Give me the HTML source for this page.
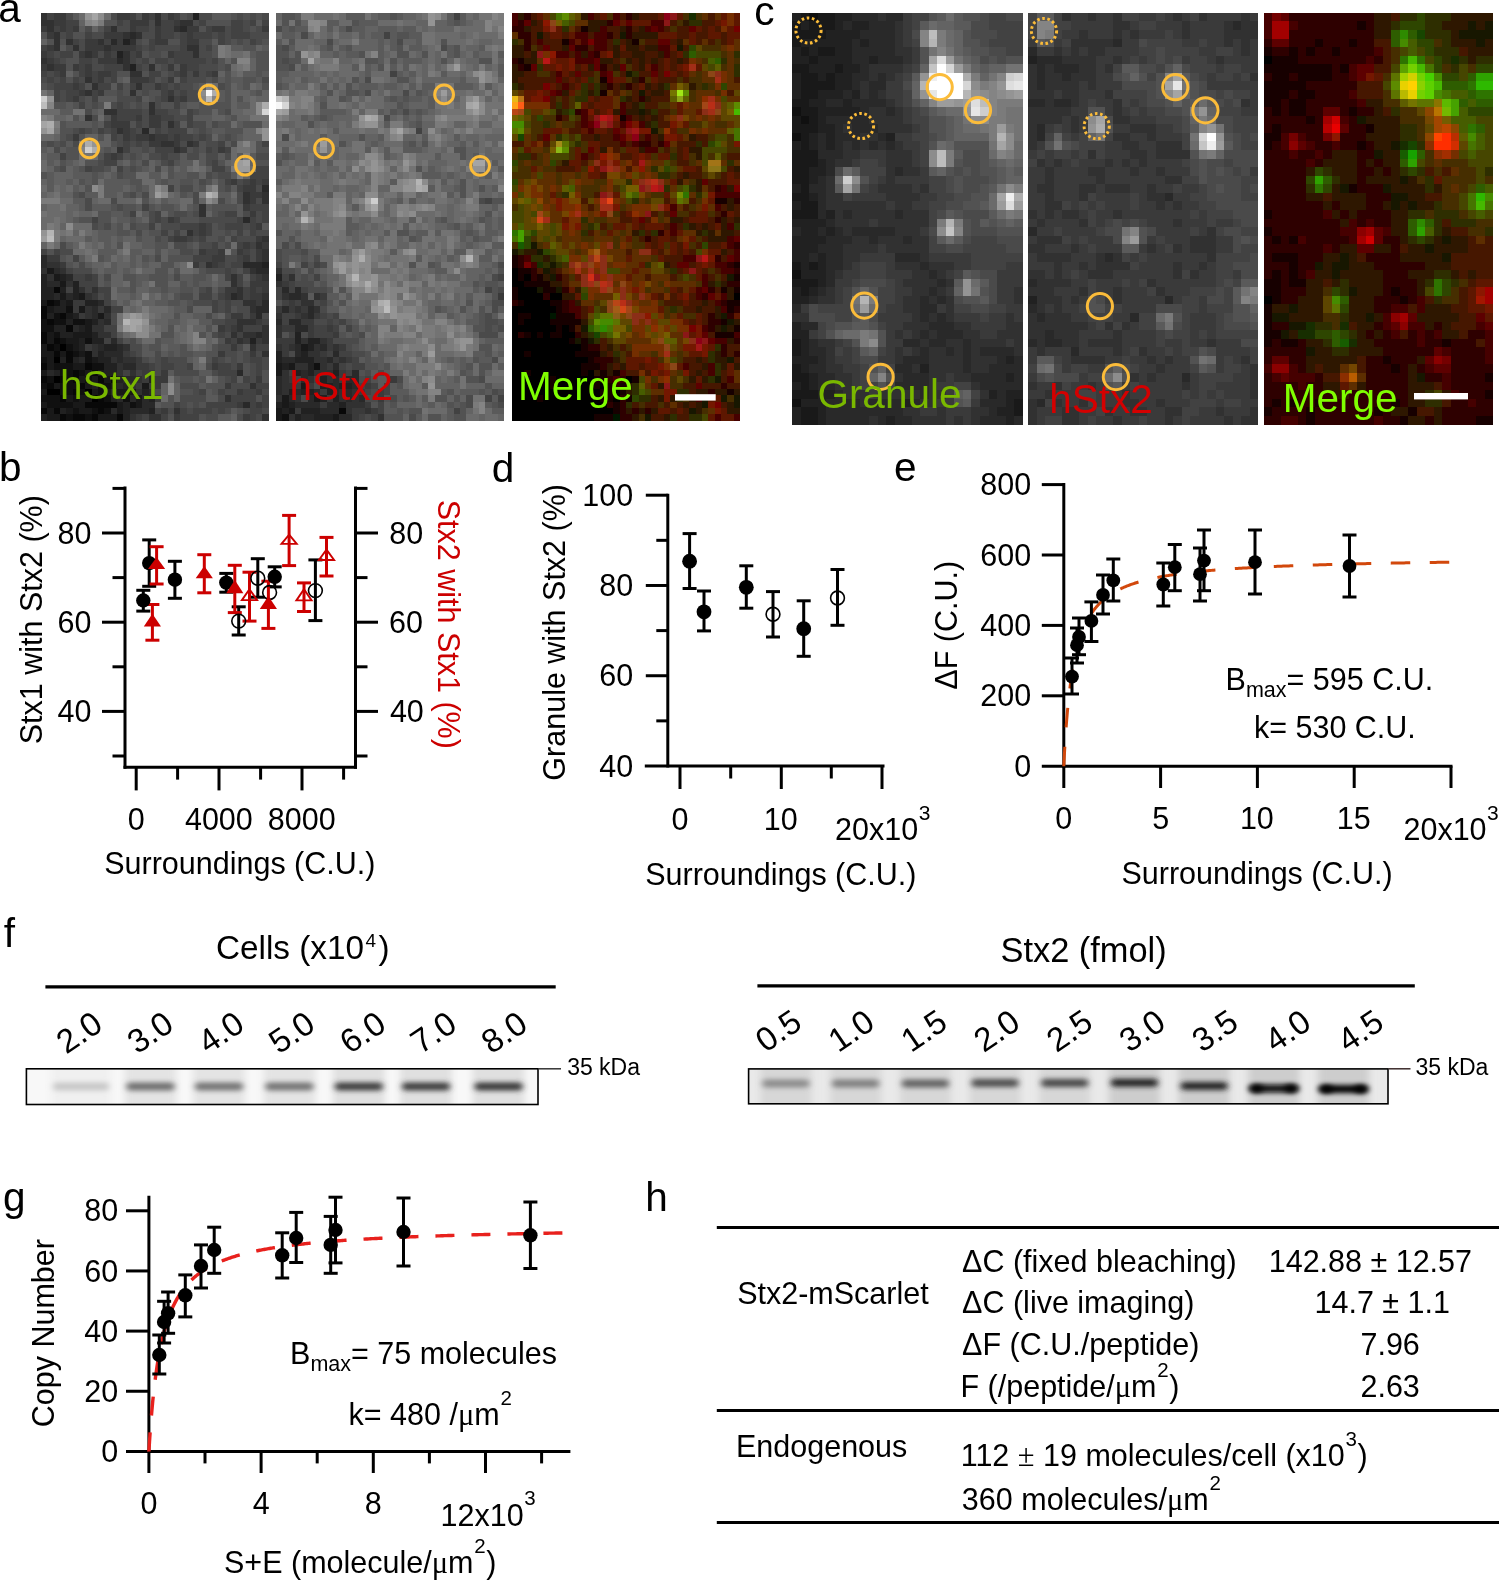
<!DOCTYPE html>
<html><head><meta charset="utf-8"><style>
html,body{margin:0;padding:0;background:#fff}
body{width:1499px;height:1580px;overflow:hidden;position:relative;font-family:"Liberation Sans",sans-serif}
svg{position:absolute;left:0;top:0;display:block;will-change:transform}
text{white-space:pre}

</style></head><body>
<svg width="1499" height="1580" viewBox="0 0 1499 1580" font-family="Liberation Sans">
<defs><filter id="bl" x="-50%" y="-150%" width="200%" height="400%"><feGaussianBlur stdDeviation="3.2 2.4"/></filter><filter id="bl2" x="-50%" y="-50%" width="200%" height="200%"><feGaussianBlur stdDeviation="3.5 0"/></filter><clipPath id="cpL"><rect x="26.4" y="1068.8" width="511.6" height="35.7"/></clipPath><clipPath id="cpR"><rect x="748.6" y="1068.9" width="639.4" height="34.9"/></clipPath></defs>
<g clip-path="url(#cpL)">
<rect x="26.4" y="1068.8" width="511.6" height="35.700000000000045" fill="#f8f8f8"/>
<rect x="51.0" y="1064.8" width="60" height="43.700000000000045" fill="#f0f0f0" filter="url(#bl2)"/>
<rect x="124.5" y="1064.8" width="52" height="43.700000000000045" fill="#e4e4e4" filter="url(#bl2)"/>
<rect x="193.0" y="1064.8" width="52" height="43.700000000000045" fill="#e4e4e4" filter="url(#bl2)"/>
<rect x="263.4" y="1064.8" width="52" height="43.700000000000045" fill="#e4e4e4" filter="url(#bl2)"/>
<rect x="332.8" y="1064.8" width="52" height="43.700000000000045" fill="#e0e0e0" filter="url(#bl2)"/>
<rect x="400.0" y="1064.8" width="52" height="43.700000000000045" fill="#e0e0e0" filter="url(#bl2)"/>
<rect x="472.6" y="1064.8" width="52" height="43.700000000000045" fill="#e0e0e0" filter="url(#bl2)"/>
<rect x="53.0" y="1082.5" width="56" height="8" rx="4" fill="#c8c8c8" filter="url(#bl)"/>
<rect x="126.5" y="1082.5" width="48" height="8" rx="4" fill="#6e6e6e" filter="url(#bl)"/>
<rect x="195.0" y="1082.5" width="48" height="8" rx="4" fill="#737373" filter="url(#bl)"/>
<rect x="265.4" y="1082.5" width="48" height="8" rx="4" fill="#737373" filter="url(#bl)"/>
<rect x="334.8" y="1082.5" width="48" height="8" rx="4" fill="#3c3c3c" filter="url(#bl)"/>
<rect x="402.0" y="1082.5" width="48" height="8" rx="4" fill="#3c3c3c" filter="url(#bl)"/>
<rect x="474.6" y="1082.5" width="48" height="8" rx="4" fill="#373737" filter="url(#bl)"/>
</g>
<g clip-path="url(#cpR)">
<rect x="748.6" y="1068.9" width="639.4" height="34.899999999999864" fill="#e9e9e9"/>
<rect x="760.4" y="1064.9" width="51" height="42.899999999999864" fill="#d7d7d7" filter="url(#bl2)"/>
<rect x="830.1" y="1064.9" width="51" height="42.899999999999864" fill="#d7d7d7" filter="url(#bl2)"/>
<rect x="899.8" y="1064.9" width="51" height="42.899999999999864" fill="#d7d7d7" filter="url(#bl2)"/>
<rect x="969.5" y="1064.9" width="51" height="42.899999999999864" fill="#d7d7d7" filter="url(#bl2)"/>
<rect x="1039.2" y="1064.9" width="51" height="42.899999999999864" fill="#d7d7d7" filter="url(#bl2)"/>
<rect x="1108.9" y="1064.9" width="51" height="42.899999999999864" fill="#cdcdcd" filter="url(#bl2)"/>
<rect x="1178.6" y="1064.9" width="51" height="42.899999999999864" fill="#cdcdcd" filter="url(#bl2)"/>
<rect x="1248.3" y="1064.9" width="51" height="42.899999999999864" fill="#cdcdcd" filter="url(#bl2)"/>
<rect x="1318.0" y="1064.9" width="51" height="42.899999999999864" fill="#cdcdcd" filter="url(#bl2)"/>
<rect x="762.4" y="1079.4" width="47" height="8" rx="4" fill="#8c8c8c" filter="url(#bl)"/>
<rect x="832.1" y="1079.4" width="47" height="8" rx="4" fill="#808080" filter="url(#bl)"/>
<rect x="901.8" y="1079.4" width="47" height="8" rx="4" fill="#646464" filter="url(#bl)"/>
<rect x="971.5" y="1079.0" width="47" height="8" rx="4" fill="#505050" filter="url(#bl)"/>
<rect x="1041.2" y="1079.0" width="47" height="8" rx="4" fill="#484848" filter="url(#bl)"/>
<rect x="1110.9" y="1078.7" width="47" height="8" rx="4" fill="#282828" filter="url(#bl)"/>
<rect x="1180.6" y="1082.0" width="47" height="8" rx="4" fill="#282828" filter="url(#bl)"/>
<rect x="1250.3" y="1084.4" width="47" height="8" rx="4" fill="#0a0a0a" filter="url(#bl)"/>
<ellipse cx="1256.3" cy="1088.4" rx="7" ry="4" fill="#000000" filter="url(#bl)"/>
<ellipse cx="1291.3" cy="1088.4" rx="7" ry="4" fill="#000000" filter="url(#bl)"/>
<rect x="1320.0" y="1085.0" width="47" height="8" rx="4" fill="#050505" filter="url(#bl)"/>
<ellipse cx="1326.0" cy="1089.0" rx="7" ry="4" fill="#000000" filter="url(#bl)"/>
<ellipse cx="1361.0" cy="1089.0" rx="7" ry="4" fill="#000000" filter="url(#bl)"/>
</g>
<rect x="26.4" y="1068.8" width="511.6" height="35.7" fill="none" stroke="#000" stroke-width="1.6"/>
<rect x="748.6" y="1068.9" width="639.4" height="34.9" fill="none" stroke="#000" stroke-width="1.6"/>
<g transform="translate(41.0,13.2) scale(6.3278,6.3688)" shape-rendering="crispEdges">
<path fill="#313131" d="M0 0h1v1h-1zM18 0h1v1h-1zM0 1h2v1h-2zM18 1h1v1h-1zM22 1h2v1h-2zM1 2h1v1h-1zM11 2h1v1h-1zM21 2h1v1h-1zM2 3h1v1h-1zM13 3h1v1h-1zM15 3h1v1h-1zM2 4h1v1h-1zM4 4h1v1h-1zM9 4h1v1h-1zM14 4h1v1h-1zM2 5h1v1h-1zM5 5h1v1h-1zM10 5h1v1h-1zM23 5h2v1h-2zM7 6h1v1h-1zM13 6h1v1h-1zM24 6h1v1h-1zM0 7h1v1h-1zM13 7h1v1h-1zM1 8h1v1h-1zM13 8h1v1h-1zM17 8h1v1h-1zM14 9h2v1h-2zM7 10h1v1h-1zM8 11h1v1h-1zM15 11h1v1h-1zM7 12h1v1h-1zM14 12h1v1h-1zM20 13h1v1h-1zM17 14h1v1h-1zM10 15h2v1h-2zM17 15h1v1h-1zM7 16h1v1h-1zM20 17h1v1h-1zM12 18h1v1h-1zM17 19h1v1h-1zM19 20h2v1h-2zM23 20h1v1h-1zM12 21h1v1h-1zM21 21h1v1h-1zM32 28h1v1h-1zM35 28h1v1h-1zM32 29h1v1h-1zM35 29h1v1h-1zM25 30h1v1h-1zM25 31h1v1h-1zM23 34h1v1h-1zM35 35h1v1h-1zM34 36h1v1h-1zM35 37h1v1h-1zM35 38h1v1h-1zM1 39h2v1h-2zM26 39h1v1h-1zM0 40h1v1h-1zM3 40h1v1h-1zM33 40h1v1h-1zM1 41h1v1h-1zM30 41h1v1h-1zM35 41h1v1h-1zM4 42h1v1h-1zM30 42h1v1h-1zM6 43h1v1h-1zM8 43h1v1h-1zM31 43h1v1h-1zM7 44h1v1h-1zM31 44h1v1h-1zM35 44h1v1h-1zM32 45h2v1h-2zM7 46h1v1h-1zM33 46h1v1h-1zM7 47h1v1h-1zM10 47h1v1h-1zM9 48h1v1h-1zM31 48h3v1h-3zM8 49h2v1h-2zM31 49h1v1h-1zM35 49h1v1h-1zM9 50h2v1h-2zM30 50h1v1h-1zM32 50h2v1h-2zM35 50h1v1h-1zM31 51h1v1h-1zM35 51h1v1h-1zM8 52h1v1h-1zM13 52h1v1h-1zM33 52h1v1h-1zM8 53h1v1h-1zM35 53h1v1h-1zM11 54h1v1h-1zM13 54h2v1h-2zM12 55h1v1h-1zM12 56h1v1h-1zM14 56h1v1h-1zM15 57h1v1h-1zM14 58h1v1h-1zM33 58h1v1h-1zM15 59h1v1h-1zM29 60h1v1h-1zM21 62h1v1h-1zM14 63h1v1h-1zM17 63h2v1h-2zM35 63h1v1h-1z"/>
<path fill="#424242" d="M1 0h1v1h-1zM14 0h1v1h-1zM17 0h1v1h-1zM21 0h1v1h-1zM4 1h2v1h-2zM12 1h1v1h-1zM19 1h2v1h-2zM25 1h1v1h-1zM30 1h2v1h-2zM33 1h1v1h-1zM35 1h1v1h-1zM2 2h1v1h-1zM4 2h1v1h-1zM10 2h1v1h-1zM15 2h2v1h-2zM19 2h2v1h-2zM26 2h1v1h-1zM30 2h2v1h-2zM4 3h1v1h-1zM7 3h1v1h-1zM19 3h2v1h-2zM22 3h1v1h-1zM24 3h3v1h-3zM28 3h1v1h-1zM30 3h3v1h-3zM5 4h1v1h-1zM10 4h1v1h-1zM17 4h1v1h-1zM22 4h1v1h-1zM28 4h1v1h-1zM33 4h1v1h-1zM0 5h1v1h-1zM15 5h1v1h-1zM17 5h1v1h-1zM22 5h1v1h-1zM26 5h1v1h-1zM1 6h1v1h-1zM3 6h2v1h-2zM11 6h1v1h-1zM14 6h1v1h-1zM21 6h3v1h-3zM2 7h1v1h-1zM6 7h2v1h-2zM14 7h1v1h-1zM16 7h1v1h-1zM18 7h2v1h-2zM21 7h5v1h-5zM27 7h1v1h-1zM6 8h1v1h-1zM10 8h3v1h-3zM15 8h1v1h-1zM23 8h2v1h-2zM0 9h1v1h-1zM2 9h1v1h-1zM6 9h1v1h-1zM8 9h1v1h-1zM11 9h1v1h-1zM17 9h2v1h-2zM21 9h1v1h-1zM26 9h1v1h-1zM1 10h1v1h-1zM3 10h1v1h-1zM5 10h1v1h-1zM8 10h1v1h-1zM11 10h1v1h-1zM17 10h1v1h-1zM22 10h1v1h-1zM2 11h3v1h-3zM6 11h1v1h-1zM9 11h2v1h-2zM12 11h1v1h-1zM14 11h1v1h-1zM19 11h1v1h-1zM21 11h1v1h-1zM2 12h1v1h-1zM4 12h2v1h-2zM8 12h1v1h-1zM19 12h1v1h-1zM22 12h1v1h-1zM2 13h1v1h-1zM4 13h1v1h-1zM8 13h1v1h-1zM15 13h1v1h-1zM19 13h1v1h-1zM21 13h1v1h-1zM6 14h1v1h-1zM12 14h1v1h-1zM21 14h1v1h-1zM12 15h4v1h-4zM18 15h2v1h-2zM23 15h1v1h-1zM12 16h3v1h-3zM19 16h2v1h-2zM23 16h1v1h-1zM10 17h1v1h-1zM15 17h1v1h-1zM21 17h1v1h-1zM23 17h1v1h-1zM6 18h1v1h-1zM9 18h1v1h-1zM11 18h1v1h-1zM14 18h1v1h-1zM18 18h1v1h-1zM20 18h3v1h-3zM11 19h1v1h-1zM14 19h1v1h-1zM20 19h1v1h-1zM22 19h2v1h-2zM25 19h1v1h-1zM13 20h1v1h-1zM15 20h1v1h-1zM28 20h1v1h-1zM35 20h1v1h-1zM13 21h1v1h-1zM18 21h3v1h-3zM26 21h1v1h-1zM29 21h1v1h-1zM3 22h1v1h-1zM10 22h1v1h-1zM12 22h1v1h-1zM19 22h1v1h-1zM10 23h2v1h-2zM20 23h1v1h-1zM27 23h1v1h-1zM7 24h1v1h-1zM12 24h1v1h-1zM27 24h2v1h-2zM34 24h2v1h-2zM33 25h3v1h-3zM29 26h1v1h-1zM32 26h1v1h-1zM34 26h1v1h-1zM20 27h1v1h-1zM31 27h1v1h-1zM16 30h1v1h-1zM33 30h3v1h-3zM14 31h1v1h-1zM18 31h1v1h-1zM29 31h2v1h-2zM35 31h1v1h-1zM8 32h1v1h-1zM18 32h1v1h-1zM21 32h1v1h-1zM31 32h1v1h-1zM33 32h1v1h-1zM35 32h1v1h-1zM17 33h1v1h-1zM22 33h3v1h-3zM26 33h1v1h-1zM29 33h3v1h-3zM33 33h1v1h-1zM19 34h1v1h-1zM21 34h1v1h-1zM24 34h1v1h-1zM26 34h1v1h-1zM31 34h1v1h-1zM33 34h1v1h-1zM20 35h1v1h-1zM23 35h1v1h-1zM25 35h1v1h-1zM30 35h1v1h-1zM27 36h1v1h-1zM31 36h1v1h-1zM33 36h1v1h-1zM0 37h1v1h-1zM2 37h1v1h-1zM26 37h2v1h-2zM32 37h1v1h-1zM5 38h1v1h-1zM24 38h3v1h-3zM31 38h1v1h-1zM28 39h1v1h-1zM30 39h2v1h-2zM4 40h1v1h-1zM29 40h1v1h-1zM32 40h1v1h-1zM5 41h2v1h-2zM8 41h1v1h-1zM29 41h1v1h-1zM31 41h1v1h-1zM33 41h1v1h-1zM6 42h3v1h-3zM31 42h1v1h-1zM4 43h1v1h-1zM7 43h1v1h-1zM9 43h2v1h-2zM26 43h1v1h-1zM32 43h1v1h-1zM34 43h1v1h-1zM10 44h1v1h-1zM25 44h2v1h-2zM28 44h1v1h-1zM32 44h1v1h-1zM10 45h1v1h-1zM27 45h1v1h-1zM29 45h1v1h-1zM11 46h2v1h-2zM27 46h1v1h-1zM29 46h1v1h-1zM29 48h2v1h-2zM35 48h1v1h-1zM10 49h2v1h-2zM29 49h1v1h-1zM32 49h3v1h-3zM11 50h1v1h-1zM28 50h1v1h-1zM31 50h1v1h-1zM10 51h1v1h-1zM12 51h1v1h-1zM30 51h1v1h-1zM34 52h2v1h-2zM14 53h1v1h-1zM19 54h1v1h-1zM27 54h1v1h-1zM33 54h2v1h-2zM17 55h1v1h-1zM19 55h2v1h-2zM23 55h1v1h-1zM28 55h2v1h-2zM34 55h1v1h-1zM13 56h1v1h-1zM15 56h1v1h-1zM28 56h3v1h-3zM34 56h1v1h-1zM30 57h1v1h-1zM32 57h1v1h-1zM34 58h2v1h-2zM25 59h1v1h-1zM28 59h1v1h-1zM32 59h2v1h-2zM30 60h4v1h-4zM35 60h1v1h-1zM21 61h1v1h-1zM26 61h5v1h-5zM33 61h1v1h-1zM35 61h1v1h-1zM18 62h1v1h-1zM22 62h1v1h-1zM24 62h3v1h-3zM28 62h1v1h-1zM33 62h2v1h-2zM16 63h1v1h-1zM19 63h1v1h-1zM22 63h3v1h-3zM33 63h1v1h-1z"/>
<path fill="#3a3a3a" d="M2 0h2v1h-2zM12 0h2v1h-2zM16 0h1v1h-1zM20 0h1v1h-1zM2 1h2v1h-2zM14 1h3v1h-3zM21 1h1v1h-1zM0 2h1v1h-1zM3 2h1v1h-1zM5 2h1v1h-1zM14 2h1v1h-1zM18 2h1v1h-1zM23 2h2v1h-2zM27 2h2v1h-2zM35 2h1v1h-1zM1 3h1v1h-1zM10 3h3v1h-3zM18 3h1v1h-1zM23 3h1v1h-1zM7 4h2v1h-2zM12 4h1v1h-1zM18 4h2v1h-2zM23 4h2v1h-2zM1 5h1v1h-1zM7 5h3v1h-3zM11 5h4v1h-4zM0 6h1v1h-1zM6 6h1v1h-1zM8 6h1v1h-1zM10 6h1v1h-1zM15 6h1v1h-1zM20 6h1v1h-1zM1 7h1v1h-1zM9 7h3v1h-3zM0 8h1v1h-1zM2 8h2v1h-2zM5 8h1v1h-1zM7 8h1v1h-1zM20 8h1v1h-1zM22 8h1v1h-1zM3 9h1v1h-1zM7 9h1v1h-1zM9 9h2v1h-2zM22 9h1v1h-1zM24 9h1v1h-1zM27 9h1v1h-1zM9 10h1v1h-1zM14 10h3v1h-3zM20 10h1v1h-1zM5 11h1v1h-1zM18 11h1v1h-1zM6 12h1v1h-1zM9 12h1v1h-1zM20 12h1v1h-1zM5 13h1v1h-1zM22 13h1v1h-1zM11 16h1v1h-1zM15 16h1v1h-1zM17 16h2v1h-2zM11 17h3v1h-3zM17 17h2v1h-2zM13 18h1v1h-1zM5 19h1v1h-1zM13 19h1v1h-1zM15 19h2v1h-2zM18 19h2v1h-2zM21 19h1v1h-1zM17 20h2v1h-2zM21 20h1v1h-1zM24 20h1v1h-1zM22 21h1v1h-1zM28 21h1v1h-1zM11 22h1v1h-1zM30 26h1v1h-1zM33 26h1v1h-1zM35 26h1v1h-1zM32 27h2v1h-2zM33 28h2v1h-2zM33 29h1v1h-1zM32 30h1v1h-1zM33 31h1v1h-1zM20 32h1v1h-1zM25 33h1v1h-1zM34 33h1v1h-1zM25 34h1v1h-1zM21 35h2v1h-2zM34 35h1v1h-1zM32 36h1v1h-1zM35 36h1v1h-1zM25 37h1v1h-1zM28 37h1v1h-1zM31 37h1v1h-1zM34 37h1v1h-1zM1 38h2v1h-2zM27 38h2v1h-2zM32 38h1v1h-1zM34 38h1v1h-1zM3 39h1v1h-1zM24 39h1v1h-1zM27 39h1v1h-1zM7 41h1v1h-1zM34 41h1v1h-1zM33 42h3v1h-3zM29 43h2v1h-2zM33 43h1v1h-1zM35 43h1v1h-1zM8 44h1v1h-1zM29 44h1v1h-1zM33 44h2v1h-2zM5 45h2v1h-2zM34 45h1v1h-1zM5 46h1v1h-1zM9 46h1v1h-1zM6 47h1v1h-1zM30 47h2v1h-2zM33 47h1v1h-1zM34 48h1v1h-1zM28 49h1v1h-1zM30 49h1v1h-1zM29 51h1v1h-1zM32 51h1v1h-1zM34 51h1v1h-1zM7 52h1v1h-1zM30 52h1v1h-1zM13 53h1v1h-1zM28 53h1v1h-1zM33 53h1v1h-1zM15 54h1v1h-1zM15 55h2v1h-2zM27 55h1v1h-1zM31 55h1v1h-1zM16 56h2v1h-2zM19 56h1v1h-1zM16 57h1v1h-1zM18 57h2v1h-2zM34 57h1v1h-1zM15 58h1v1h-1zM17 58h2v1h-2zM29 58h1v1h-1zM31 59h1v1h-1zM34 59h1v1h-1zM18 60h1v1h-1zM31 61h1v1h-1zM34 61h1v1h-1zM19 62h1v1h-1zM15 63h1v1h-1zM21 63h1v1h-1zM32 63h1v1h-1z"/>
<path fill="#4a4a4a" d="M4 0h1v1h-1zM11 0h1v1h-1zM19 0h1v1h-1zM23 0h1v1h-1zM25 0h2v1h-2zM31 0h1v1h-1zM33 0h1v1h-1zM35 0h1v1h-1zM13 1h1v1h-1zM17 1h1v1h-1zM24 1h1v1h-1zM32 1h1v1h-1zM7 2h1v1h-1zM12 2h2v1h-2zM17 2h1v1h-1zM29 2h1v1h-1zM32 2h1v1h-1zM34 2h1v1h-1zM3 3h1v1h-1zM8 3h2v1h-2zM16 3h2v1h-2zM21 3h1v1h-1zM27 3h1v1h-1zM29 3h1v1h-1zM33 3h3v1h-3zM6 4h1v1h-1zM15 4h1v1h-1zM25 4h2v1h-2zM29 4h1v1h-1zM31 4h1v1h-1zM34 4h1v1h-1zM4 5h1v1h-1zM6 5h1v1h-1zM16 5h1v1h-1zM18 5h4v1h-4zM25 5h1v1h-1zM2 6h1v1h-1zM9 6h1v1h-1zM17 6h2v1h-2zM25 6h2v1h-2zM3 7h1v1h-1zM8 7h1v1h-1zM15 7h1v1h-1zM20 7h1v1h-1zM26 7h1v1h-1zM8 8h2v1h-2zM16 8h1v1h-1zM19 8h1v1h-1zM25 8h3v1h-3zM29 8h1v1h-1zM1 9h1v1h-1zM20 9h1v1h-1zM23 9h1v1h-1zM25 9h1v1h-1zM0 10h1v1h-1zM2 10h1v1h-1zM6 10h1v1h-1zM10 10h1v1h-1zM19 10h1v1h-1zM23 10h3v1h-3zM27 10h1v1h-1zM35 10h1v1h-1zM1 11h1v1h-1zM16 11h2v1h-2zM20 11h1v1h-1zM22 11h2v1h-2zM28 11h1v1h-1zM3 12h1v1h-1zM12 12h1v1h-1zM16 12h1v1h-1zM21 12h1v1h-1zM23 12h2v1h-2zM3 13h1v1h-1zM6 13h1v1h-1zM12 13h3v1h-3zM18 13h1v1h-1zM23 13h2v1h-2zM8 14h1v1h-1zM11 14h1v1h-1zM13 14h1v1h-1zM15 14h1v1h-1zM18 14h1v1h-1zM7 15h1v1h-1zM16 15h1v1h-1zM20 15h2v1h-2zM24 15h1v1h-1zM29 15h1v1h-1zM8 16h1v1h-1zM16 16h1v1h-1zM21 16h2v1h-2zM16 17h1v1h-1zM19 17h1v1h-1zM24 17h2v1h-2zM27 17h1v1h-1zM5 18h1v1h-1zM7 18h1v1h-1zM10 18h1v1h-1zM15 18h1v1h-1zM19 18h1v1h-1zM25 18h1v1h-1zM4 19h1v1h-1zM12 19h1v1h-1zM24 19h1v1h-1zM26 19h1v1h-1zM29 19h1v1h-1zM1 20h1v1h-1zM3 20h1v1h-1zM5 20h1v1h-1zM12 20h1v1h-1zM14 20h1v1h-1zM16 20h1v1h-1zM22 20h1v1h-1zM26 20h2v1h-2zM30 20h1v1h-1zM2 21h1v1h-1zM16 21h1v1h-1zM24 21h1v1h-1zM27 21h1v1h-1zM14 22h1v1h-1zM17 22h2v1h-2zM20 22h2v1h-2zM23 22h2v1h-2zM26 22h2v1h-2zM29 22h1v1h-1zM34 22h2v1h-2zM9 23h1v1h-1zM16 23h1v1h-1zM19 23h1v1h-1zM26 23h1v1h-1zM3 24h1v1h-1zM8 24h2v1h-2zM14 24h1v1h-1zM18 24h1v1h-1zM12 25h1v1h-1zM26 25h1v1h-1zM28 25h2v1h-2zM25 26h1v1h-1zM31 26h1v1h-1zM22 27h2v1h-2zM29 27h1v1h-1zM34 27h1v1h-1zM6 28h1v1h-1zM14 28h1v1h-1zM16 28h1v1h-1zM24 28h1v1h-1zM31 28h1v1h-1zM7 29h1v1h-1zM11 29h1v1h-1zM24 29h1v1h-1zM28 29h1v1h-1zM31 29h1v1h-1zM34 29h1v1h-1zM7 30h1v1h-1zM12 30h1v1h-1zM17 31h1v1h-1zM21 31h2v1h-2zM24 31h1v1h-1zM28 31h1v1h-1zM32 31h1v1h-1zM34 31h1v1h-1zM17 32h1v1h-1zM19 32h1v1h-1zM25 32h6v1h-6zM34 32h1v1h-1zM8 33h1v1h-1zM10 33h1v1h-1zM14 33h1v1h-1zM19 33h3v1h-3zM28 33h1v1h-1zM32 33h1v1h-1zM15 34h1v1h-1zM29 34h1v1h-1zM34 34h2v1h-2zM18 35h1v1h-1zM24 35h1v1h-1zM28 35h1v1h-1zM31 35h3v1h-3zM3 36h1v1h-1zM21 36h2v1h-2zM25 36h2v1h-2zM29 36h1v1h-1zM3 37h2v1h-2zM22 37h2v1h-2zM33 37h1v1h-1zM18 38h1v1h-1zM29 38h2v1h-2zM33 38h1v1h-1zM6 39h1v1h-1zM25 39h1v1h-1zM29 39h1v1h-1zM5 40h3v1h-3zM26 40h3v1h-3zM30 40h1v1h-1zM10 41h1v1h-1zM21 41h1v1h-1zM25 43h1v1h-1zM28 43h1v1h-1zM9 44h1v1h-1zM22 44h2v1h-2zM24 45h3v1h-3zM28 45h1v1h-1zM30 45h2v1h-2zM23 46h1v1h-1zM28 46h1v1h-1zM31 46h2v1h-2zM11 47h1v1h-1zM26 47h1v1h-1zM29 47h1v1h-1zM32 47h1v1h-1zM35 47h1v1h-1zM11 48h1v1h-1zM27 48h2v1h-2zM27 50h1v1h-1zM29 50h1v1h-1zM14 51h1v1h-1zM14 52h2v1h-2zM28 52h2v1h-2zM31 52h1v1h-1zM15 53h1v1h-1zM18 53h1v1h-1zM29 53h2v1h-2zM32 53h1v1h-1zM34 53h1v1h-1zM16 54h1v1h-1zM18 54h1v1h-1zM20 54h3v1h-3zM28 54h1v1h-1zM30 54h1v1h-1zM32 54h1v1h-1zM35 54h1v1h-1zM18 55h1v1h-1zM21 55h2v1h-2zM26 55h1v1h-1zM30 55h1v1h-1zM33 55h1v1h-1zM35 55h1v1h-1zM18 56h1v1h-1zM21 56h4v1h-4zM27 56h1v1h-1zM33 56h1v1h-1zM29 57h1v1h-1zM33 57h1v1h-1zM22 58h3v1h-3zM30 58h3v1h-3zM18 59h1v1h-1zM24 59h1v1h-1zM29 59h2v1h-2zM35 59h1v1h-1zM22 60h4v1h-4zM28 60h1v1h-1zM22 61h1v1h-1zM24 61h1v1h-1zM20 62h1v1h-1zM23 62h1v1h-1zM27 62h1v1h-1zM29 62h1v1h-1zM32 62h1v1h-1zM35 62h1v1h-1zM26 63h2v1h-2zM31 63h1v1h-1zM34 63h1v1h-1z"/>
<path fill="#5a5a5a" d="M5 0h1v1h-1zM27 0h3v1h-3zM34 1h1v1h-1zM6 2h1v1h-1zM27 4h1v1h-1zM3 5h1v1h-1zM30 5h2v1h-2zM35 5h1v1h-1zM33 6h1v1h-1zM32 9h2v1h-2zM35 9h1v1h-1zM12 10h1v1h-1zM21 10h1v1h-1zM28 10h1v1h-1zM30 10h2v1h-2zM34 10h1v1h-1zM11 11h1v1h-1zM25 11h1v1h-1zM31 11h1v1h-1zM28 12h1v1h-1zM33 12h1v1h-1zM9 13h3v1h-3zM16 13h1v1h-1zM28 13h1v1h-1zM4 14h1v1h-1zM23 14h2v1h-2zM31 14h2v1h-2zM3 15h2v1h-2zM8 15h1v1h-1zM22 15h1v1h-1zM24 16h3v1h-3zM29 16h1v1h-1zM4 17h4v1h-4zM9 17h1v1h-1zM22 17h1v1h-1zM26 17h1v1h-1zM31 17h1v1h-1zM23 18h1v1h-1zM27 18h2v1h-2zM31 19h1v1h-1zM4 20h1v1h-1zM29 20h1v1h-1zM0 21h1v1h-1zM3 21h1v1h-1zM9 21h1v1h-1zM11 21h1v1h-1zM1 22h2v1h-2zM16 22h1v1h-1zM22 22h1v1h-1zM25 22h1v1h-1zM28 22h1v1h-1zM31 22h1v1h-1zM33 22h1v1h-1zM1 23h1v1h-1zM4 23h1v1h-1zM12 23h1v1h-1zM15 23h1v1h-1zM18 23h1v1h-1zM22 23h2v1h-2zM25 23h1v1h-1zM5 24h1v1h-1zM16 24h1v1h-1zM22 24h1v1h-1zM26 24h1v1h-1zM1 25h1v1h-1zM5 25h3v1h-3zM9 25h1v1h-1zM11 25h1v1h-1zM17 25h2v1h-2zM21 25h2v1h-2zM30 25h1v1h-1zM1 26h1v1h-1zM4 26h1v1h-1zM7 26h1v1h-1zM10 26h4v1h-4zM18 26h1v1h-1zM20 26h2v1h-2zM24 26h1v1h-1zM1 27h1v1h-1zM5 27h1v1h-1zM10 27h3v1h-3zM14 27h1v1h-1zM16 27h1v1h-1zM21 27h1v1h-1zM24 27h1v1h-1zM30 27h1v1h-1zM7 28h2v1h-2zM10 28h2v1h-2zM15 28h1v1h-1zM23 28h1v1h-1zM28 28h2v1h-2zM5 29h2v1h-2zM19 29h1v1h-1zM29 29h1v1h-1zM6 30h1v1h-1zM8 30h3v1h-3zM15 30h1v1h-1zM18 30h1v1h-1zM21 30h1v1h-1zM23 30h1v1h-1zM26 30h1v1h-1zM31 30h1v1h-1zM11 31h2v1h-2zM16 31h1v1h-1zM31 31h1v1h-1zM5 32h1v1h-1zM12 32h2v1h-2zM15 32h1v1h-1zM11 33h1v1h-1zM18 33h1v1h-1zM35 33h1v1h-1zM9 34h3v1h-3zM14 34h1v1h-1zM16 34h1v1h-1zM7 35h1v1h-1zM9 35h2v1h-2zM12 35h1v1h-1zM16 35h2v1h-2zM29 35h1v1h-1zM4 36h1v1h-1zM10 36h1v1h-1zM16 36h2v1h-2zM24 36h1v1h-1zM9 37h3v1h-3zM14 37h2v1h-2zM20 37h2v1h-2zM4 38h1v1h-1zM6 38h1v1h-1zM10 38h1v1h-1zM14 38h1v1h-1zM17 38h1v1h-1zM5 39h1v1h-1zM7 39h1v1h-1zM11 39h1v1h-1zM14 39h1v1h-1zM16 39h1v1h-1zM8 40h1v1h-1zM10 40h2v1h-2zM13 40h1v1h-1zM9 41h1v1h-1zM15 41h2v1h-2zM20 41h1v1h-1zM22 41h2v1h-2zM26 41h1v1h-1zM28 41h1v1h-1zM32 41h1v1h-1zM9 42h1v1h-1zM15 42h1v1h-1zM23 42h1v1h-1zM25 42h2v1h-2zM28 42h2v1h-2zM12 43h2v1h-2zM17 43h2v1h-2zM20 43h2v1h-2zM24 43h1v1h-1zM27 43h1v1h-1zM14 44h1v1h-1zM19 44h1v1h-1zM24 44h1v1h-1zM13 45h1v1h-1zM18 45h2v1h-2zM22 45h1v1h-1zM21 46h2v1h-2zM24 47h2v1h-2zM27 47h1v1h-1zM20 48h2v1h-2zM25 48h2v1h-2zM12 50h1v1h-1zM15 51h1v1h-1zM19 51h2v1h-2zM16 52h1v1h-1zM20 52h2v1h-2zM32 52h1v1h-1zM16 53h2v1h-2zM19 53h1v1h-1zM21 53h1v1h-1zM24 53h2v1h-2zM23 54h1v1h-1zM20 56h1v1h-1zM25 56h2v1h-2zM21 57h1v1h-1zM24 57h1v1h-1zM31 57h1v1h-1zM25 58h1v1h-1zM26 59h1v1h-1zM26 60h2v1h-2zM18 61h1v1h-1zM30 62h1v1h-1zM28 63h2v1h-2z"/>
<path fill="#6b6b6b" d="M6 0h1v1h-1zM10 0h1v1h-1zM30 6h2v1h-2zM30 8h1v1h-1zM31 9h1v1h-1zM27 11h1v1h-1zM33 11h1v1h-1zM33 13h1v1h-1zM33 14h1v1h-1zM0 15h3v1h-3zM32 15h2v1h-2zM4 16h1v1h-1zM9 16h1v1h-1zM30 17h1v1h-1zM35 17h1v1h-1zM0 19h2v1h-2zM33 20h1v1h-1zM30 21h1v1h-1zM33 21h1v1h-1zM6 22h1v1h-1zM8 22h1v1h-1zM30 22h1v1h-1zM0 23h1v1h-1zM6 23h1v1h-1zM30 23h1v1h-1zM0 24h1v1h-1zM23 24h1v1h-1zM25 24h1v1h-1zM33 24h1v1h-1zM15 25h2v1h-2zM19 25h1v1h-1zM9 26h1v1h-1zM16 26h2v1h-2zM0 27h1v1h-1zM2 27h1v1h-1zM4 27h1v1h-1zM17 27h1v1h-1zM1 28h1v1h-1zM17 28h1v1h-1zM20 28h1v1h-1zM30 28h1v1h-1zM3 29h2v1h-2zM9 29h2v1h-2zM18 29h1v1h-1zM22 29h2v1h-2zM1 30h2v1h-2zM22 30h1v1h-1zM1 31h3v1h-3zM5 31h1v1h-1zM8 31h1v1h-1zM15 31h1v1h-1zM0 32h2v1h-2zM3 32h1v1h-1zM0 33h1v1h-1zM5 33h3v1h-3zM7 34h1v1h-1zM4 35h3v1h-3zM2 36h1v1h-1zM7 36h1v1h-1zM9 36h1v1h-1zM30 36h1v1h-1zM5 37h2v1h-2zM8 37h1v1h-1zM12 37h1v1h-1zM7 38h1v1h-1zM11 38h1v1h-1zM13 38h1v1h-1zM10 39h1v1h-1zM22 39h1v1h-1zM22 40h2v1h-2zM27 41h1v1h-1zM13 42h1v1h-1zM11 43h1v1h-1zM11 44h1v1h-1zM18 44h1v1h-1zM14 45h1v1h-1zM13 46h1v1h-1zM15 46h1v1h-1zM17 46h3v1h-3zM18 47h1v1h-1zM17 48h1v1h-1zM23 48h2v1h-2zM18 49h1v1h-1zM21 49h1v1h-1zM13 50h1v1h-1zM22 50h1v1h-1zM16 51h2v1h-2zM22 51h1v1h-1zM27 51h1v1h-1zM25 52h1v1h-1zM25 55h1v1h-1zM19 60h1v1h-1z"/>
<path fill="#949494" d="M7 0h1v1h-1zM1 13h1v1h-1zM0 18h1v1h-1zM35 18h1v1h-1zM35 19h1v1h-1zM8 20h1v1h-1zM0 34h1v1h-1zM15 47h1v1h-1zM16 48h1v1h-1z"/>
<path fill="#a5a5a5" d="M8 0h1v1h-1zM0 17h1v1h-1zM1 18h1v1h-1zM32 23h1v1h-1zM27 28h1v1h-1zM14 48h2v1h-2zM14 49h1v1h-1z"/>
<path fill="#8c8c8c" d="M9 0h1v1h-1zM8 1h1v1h-1zM25 12h1v1h-1zM34 14h1v1h-1zM34 15h1v1h-1zM8 27h1v1h-1zM18 27h1v1h-1zM19 28h1v1h-1zM26 29h1v1h-1zM4 33h1v1h-1zM23 39h1v1h-1zM13 47h1v1h-1zM16 49h1v1h-1zM15 50h2v1h-2zM20 58h1v1h-1zM20 59h1v1h-1z"/>
<path fill="#525252" d="M15 0h1v1h-1zM22 0h1v1h-1zM30 0h1v1h-1zM32 0h1v1h-1zM34 0h1v1h-1zM10 1h2v1h-2zM26 1h4v1h-4zM9 2h1v1h-1zM25 2h1v1h-1zM33 2h1v1h-1zM0 3h1v1h-1zM5 3h2v1h-2zM1 4h1v1h-1zM3 4h1v1h-1zM16 4h1v1h-1zM20 4h2v1h-2zM30 4h1v1h-1zM32 4h1v1h-1zM35 4h1v1h-1zM27 5h1v1h-1zM32 5h2v1h-2zM5 6h1v1h-1zM16 6h1v1h-1zM19 6h1v1h-1zM27 6h1v1h-1zM34 6h2v1h-2zM4 7h2v1h-2zM17 7h1v1h-1zM28 7h1v1h-1zM30 7h1v1h-1zM34 7h2v1h-2zM4 8h1v1h-1zM18 8h1v1h-1zM21 8h1v1h-1zM28 8h1v1h-1zM34 8h2v1h-2zM5 9h1v1h-1zM12 9h2v1h-2zM16 9h1v1h-1zM19 9h1v1h-1zM29 9h1v1h-1zM34 9h1v1h-1zM4 10h1v1h-1zM18 10h1v1h-1zM26 10h1v1h-1zM29 10h1v1h-1zM32 10h2v1h-2zM0 11h1v1h-1zM7 11h1v1h-1zM13 11h1v1h-1zM24 11h1v1h-1zM29 11h1v1h-1zM32 11h1v1h-1zM35 11h1v1h-1zM10 12h2v1h-2zM13 12h1v1h-1zM15 12h1v1h-1zM17 12h2v1h-2zM29 12h1v1h-1zM34 12h1v1h-1zM7 13h1v1h-1zM17 13h1v1h-1zM29 13h1v1h-1zM31 13h1v1h-1zM2 14h2v1h-2zM5 14h1v1h-1zM7 14h1v1h-1zM9 14h1v1h-1zM14 14h1v1h-1zM16 14h1v1h-1zM19 14h2v1h-2zM22 14h1v1h-1zM25 14h5v1h-5zM25 15h2v1h-2zM28 15h1v1h-1zM5 16h1v1h-1zM10 16h1v1h-1zM30 16h1v1h-1zM3 17h1v1h-1zM8 17h1v1h-1zM14 17h1v1h-1zM28 17h2v1h-2zM32 17h3v1h-3zM3 18h2v1h-2zM8 18h1v1h-1zM17 18h1v1h-1zM24 18h1v1h-1zM26 18h1v1h-1zM29 18h3v1h-3zM3 19h1v1h-1zM6 19h1v1h-1zM9 19h1v1h-1zM28 19h1v1h-1zM30 19h1v1h-1zM0 20h1v1h-1zM2 20h1v1h-1zM11 20h1v1h-1zM25 20h1v1h-1zM34 20h1v1h-1zM4 21h2v1h-2zM10 21h1v1h-1zM14 21h2v1h-2zM17 21h1v1h-1zM23 21h1v1h-1zM25 21h1v1h-1zM34 21h2v1h-2zM4 22h2v1h-2zM9 22h1v1h-1zM13 22h1v1h-1zM15 22h1v1h-1zM3 23h1v1h-1zM7 23h2v1h-2zM14 23h1v1h-1zM21 23h1v1h-1zM28 23h1v1h-1zM34 23h2v1h-2zM2 24h1v1h-1zM6 24h1v1h-1zM10 24h1v1h-1zM13 24h1v1h-1zM15 24h1v1h-1zM20 24h1v1h-1zM29 24h1v1h-1zM0 25h1v1h-1zM8 25h1v1h-1zM13 25h2v1h-2zM20 25h1v1h-1zM23 25h2v1h-2zM27 25h1v1h-1zM6 26h1v1h-1zM8 26h1v1h-1zM14 26h2v1h-2zM19 26h1v1h-1zM22 26h2v1h-2zM26 26h1v1h-1zM28 26h1v1h-1zM7 27h1v1h-1zM15 27h1v1h-1zM25 27h1v1h-1zM28 27h1v1h-1zM5 28h1v1h-1zM13 28h1v1h-1zM22 28h1v1h-1zM16 29h1v1h-1zM11 30h1v1h-1zM13 30h2v1h-2zM17 30h1v1h-1zM19 30h2v1h-2zM24 30h1v1h-1zM27 30h4v1h-4zM9 31h2v1h-2zM13 31h1v1h-1zM20 31h1v1h-1zM23 31h1v1h-1zM27 31h1v1h-1zM6 32h2v1h-2zM9 32h2v1h-2zM14 32h1v1h-1zM22 32h3v1h-3zM9 33h1v1h-1zM12 33h1v1h-1zM15 33h2v1h-2zM27 33h1v1h-1zM12 34h2v1h-2zM17 34h2v1h-2zM20 34h1v1h-1zM22 34h1v1h-1zM27 34h2v1h-2zM30 34h1v1h-1zM32 34h1v1h-1zM15 35h1v1h-1zM19 35h1v1h-1zM26 35h2v1h-2zM12 36h1v1h-1zM18 36h2v1h-2zM23 36h1v1h-1zM28 36h1v1h-1zM1 37h1v1h-1zM18 37h1v1h-1zM24 37h1v1h-1zM30 37h1v1h-1zM3 38h1v1h-1zM9 38h1v1h-1zM16 38h1v1h-1zM20 38h4v1h-4zM4 39h1v1h-1zM19 39h2v1h-2zM18 40h2v1h-2zM21 40h1v1h-1zM25 40h1v1h-1zM31 40h1v1h-1zM13 41h2v1h-2zM17 41h3v1h-3zM24 41h2v1h-2zM10 42h1v1h-1zM14 42h1v1h-1zM18 42h2v1h-2zM22 42h1v1h-1zM24 42h1v1h-1zM32 42h1v1h-1zM14 43h1v1h-1zM19 43h1v1h-1zM22 43h2v1h-2zM21 44h1v1h-1zM27 44h1v1h-1zM11 45h1v1h-1zM20 45h2v1h-2zM23 45h1v1h-1zM30 46h1v1h-1zM21 47h1v1h-1zM20 49h1v1h-1zM26 49h1v1h-1zM19 50h2v1h-2zM25 50h1v1h-1zM13 51h1v1h-1zM18 51h1v1h-1zM28 51h1v1h-1zM17 52h2v1h-2zM22 52h1v1h-1zM27 52h1v1h-1zM20 53h1v1h-1zM22 53h2v1h-2zM26 53h2v1h-2zM31 53h1v1h-1zM17 54h1v1h-1zM26 54h1v1h-1zM29 54h1v1h-1zM31 54h1v1h-1zM32 55h1v1h-1zM32 56h1v1h-1zM35 56h1v1h-1zM22 57h2v1h-2zM25 57h1v1h-1zM28 57h1v1h-1zM35 57h1v1h-1zM26 58h3v1h-3zM22 59h2v1h-2zM27 59h1v1h-1zM20 60h1v1h-1zM34 60h1v1h-1zM19 61h2v1h-2zM23 61h1v1h-1zM25 61h1v1h-1zM31 62h1v1h-1zM20 63h1v1h-1zM25 63h1v1h-1z"/>
<path fill="#212121" d="M24 0h1v1h-1zM13 4h1v1h-1zM12 6h1v1h-1zM14 8h1v1h-1zM35 39h1v1h-1zM0 41h1v1h-1zM3 41h1v1h-1zM0 42h1v1h-1zM5 42h1v1h-1zM0 43h2v1h-2zM3 43h1v1h-1zM5 43h1v1h-1zM0 44h2v1h-2zM5 44h1v1h-1zM3 45h1v1h-1zM7 45h2v1h-2zM2 46h2v1h-2zM1 47h1v1h-1zM5 47h1v1h-1zM4 48h1v1h-1zM8 48h1v1h-1zM2 49h2v1h-2zM6 49h1v1h-1zM3 50h2v1h-2zM8 50h1v1h-1zM6 51h1v1h-1zM8 51h2v1h-2zM33 51h1v1h-1zM6 52h1v1h-1zM10 52h2v1h-2zM9 53h1v1h-1zM3 54h1v1h-1zM5 54h1v1h-1zM9 54h2v1h-2zM10 55h2v1h-2zM2 56h1v1h-1zM10 56h2v1h-2zM12 57h1v1h-1zM17 57h1v1h-1zM8 58h1v1h-1zM13 58h1v1h-1zM16 59h1v1h-1zM11 60h1v1h-1zM17 60h1v1h-1zM13 61h1v1h-1zM3 62h1v1h-1zM13 62h1v1h-1zM17 62h1v1h-1zM0 63h1v1h-1zM13 63h1v1h-1z"/>
<path fill="#636363" d="M6 1h1v1h-1zM8 2h1v1h-1zM0 4h1v1h-1zM34 5h1v1h-1zM29 7h1v1h-1zM33 7h1v1h-1zM33 8h1v1h-1zM4 9h1v1h-1zM28 9h1v1h-1zM30 9h1v1h-1zM13 10h1v1h-1zM30 11h1v1h-1zM34 11h1v1h-1zM1 12h1v1h-1zM30 12h3v1h-3zM35 12h1v1h-1zM30 13h1v1h-1zM32 13h1v1h-1zM34 13h2v1h-2zM30 14h1v1h-1zM9 15h1v1h-1zM27 15h1v1h-1zM30 15h2v1h-2zM2 16h2v1h-2zM6 16h1v1h-1zM27 16h2v1h-2zM31 16h2v1h-2zM32 18h2v1h-2zM2 19h1v1h-1zM7 19h2v1h-2zM10 19h1v1h-1zM27 19h1v1h-1zM32 19h3v1h-3zM9 20h2v1h-2zM1 21h1v1h-1zM0 22h1v1h-1zM2 23h1v1h-1zM5 23h1v1h-1zM13 23h1v1h-1zM17 23h1v1h-1zM29 23h1v1h-1zM33 23h1v1h-1zM1 24h1v1h-1zM4 24h1v1h-1zM11 24h1v1h-1zM17 24h1v1h-1zM19 24h1v1h-1zM21 24h1v1h-1zM2 25h3v1h-3zM10 25h1v1h-1zM25 25h1v1h-1zM32 25h1v1h-1zM0 26h1v1h-1zM2 26h2v1h-2zM5 26h1v1h-1zM27 26h1v1h-1zM3 27h1v1h-1zM6 27h1v1h-1zM13 27h1v1h-1zM0 28h1v1h-1zM3 28h2v1h-2zM12 28h1v1h-1zM21 28h1v1h-1zM8 29h1v1h-1zM12 29h3v1h-3zM17 29h1v1h-1zM20 29h2v1h-2zM25 29h1v1h-1zM30 29h1v1h-1zM0 30h1v1h-1zM4 30h2v1h-2zM4 31h1v1h-1zM6 31h2v1h-2zM19 31h1v1h-1zM26 31h1v1h-1zM4 32h1v1h-1zM11 32h1v1h-1zM16 32h1v1h-1zM3 33h1v1h-1zM13 33h1v1h-1zM5 34h1v1h-1zM8 34h1v1h-1zM3 35h1v1h-1zM8 35h1v1h-1zM11 35h1v1h-1zM13 35h2v1h-2zM0 36h1v1h-1zM5 36h1v1h-1zM8 36h1v1h-1zM11 36h1v1h-1zM14 36h2v1h-2zM20 36h1v1h-1zM16 37h2v1h-2zM19 37h1v1h-1zM12 38h1v1h-1zM15 38h1v1h-1zM19 38h1v1h-1zM8 39h2v1h-2zM12 39h2v1h-2zM15 39h1v1h-1zM17 39h2v1h-2zM21 39h1v1h-1zM9 40h1v1h-1zM12 40h1v1h-1zM14 40h1v1h-1zM16 40h2v1h-2zM20 40h1v1h-1zM24 40h1v1h-1zM11 41h2v1h-2zM11 42h2v1h-2zM16 42h1v1h-1zM20 42h2v1h-2zM27 42h1v1h-1zM15 43h2v1h-2zM12 44h2v1h-2zM15 44h1v1h-1zM17 44h1v1h-1zM20 44h1v1h-1zM12 45h1v1h-1zM16 45h2v1h-2zM14 46h1v1h-1zM20 46h1v1h-1zM24 46h3v1h-3zM19 47h2v1h-2zM22 47h2v1h-2zM28 47h1v1h-1zM18 48h2v1h-2zM22 48h1v1h-1zM19 49h1v1h-1zM22 49h1v1h-1zM24 49h2v1h-2zM27 49h1v1h-1zM21 50h1v1h-1zM26 50h1v1h-1zM21 51h1v1h-1zM26 51h1v1h-1zM19 52h1v1h-1zM23 52h1v1h-1zM26 52h1v1h-1zM24 54h1v1h-1zM24 55h1v1h-1zM27 57h1v1h-1zM19 58h1v1h-1zM21 58h1v1h-1zM19 59h1v1h-1zM21 59h1v1h-1zM21 60h1v1h-1zM30 63h1v1h-1z"/>
<path fill="#848484" d="M7 1h1v1h-1zM31 7h2v1h-2zM26 11h1v1h-1zM25 13h1v1h-1zM27 13h1v1h-1zM1 14h1v1h-1zM0 16h1v1h-1zM34 18h1v1h-1zM32 20h1v1h-1zM6 21h1v1h-1zM27 27h1v1h-1zM16 47h1v1h-1zM24 50h1v1h-1zM24 51h2v1h-2z"/>
<path fill="#7b7b7b" d="M9 1h1v1h-1zM28 5h1v1h-1zM28 6h1v1h-1zM32 8h1v1h-1zM10 14h1v1h-1zM1 16h1v1h-1zM2 17h1v1h-1zM6 20h1v1h-1zM32 22h1v1h-1zM30 24h1v1h-1zM31 25h1v1h-1zM9 27h1v1h-1zM19 27h1v1h-1zM9 28h1v1h-1zM25 28h1v1h-1zM0 29h3v1h-3zM27 29h1v1h-1zM1 33h1v1h-1zM2 34h1v1h-1zM4 34h1v1h-1zM6 34h1v1h-1zM2 35h1v1h-1zM1 36h1v1h-1zM6 36h1v1h-1zM13 37h1v1h-1zM29 37h1v1h-1zM8 38h1v1h-1zM16 44h1v1h-1zM16 46h1v1h-1zM12 49h1v1h-1zM17 49h1v1h-1zM25 54h1v1h-1z"/>
<path fill="#292929" d="M22 2h1v1h-1zM14 3h1v1h-1zM11 4h1v1h-1zM12 7h1v1h-1zM16 18h1v1h-1zM35 27h1v1h-1zM32 32h1v1h-1zM0 38h1v1h-1zM0 39h1v1h-1zM32 39h3v1h-3zM2 40h1v1h-1zM34 40h2v1h-2zM4 41h1v1h-1zM1 42h2v1h-2zM2 44h1v1h-1zM4 44h1v1h-1zM30 44h1v1h-1zM9 45h1v1h-1zM35 45h1v1h-1zM8 46h1v1h-1zM10 46h1v1h-1zM34 46h2v1h-2zM8 47h1v1h-1zM34 47h1v1h-1zM10 48h1v1h-1zM5 49h1v1h-1zM34 50h1v1h-1zM11 51h1v1h-1zM9 52h1v1h-1zM12 52h1v1h-1zM10 53h3v1h-3zM6 54h1v1h-1zM12 54h1v1h-1zM13 55h2v1h-2zM1 56h1v1h-1zM31 56h1v1h-1zM13 57h2v1h-2zM12 58h1v1h-1zM11 59h1v1h-1zM17 59h1v1h-1zM12 60h1v1h-1zM14 60h1v1h-1zM16 60h1v1h-1zM16 61h2v1h-2zM32 61h1v1h-1zM11 62h1v1h-1zM14 62h3v1h-3z"/>
<path fill="#737373" d="M29 5h1v1h-1zM29 6h1v1h-1zM32 6h1v1h-1zM31 8h1v1h-1zM0 12h1v1h-1zM5 15h2v1h-2zM33 16h3v1h-3zM2 18h1v1h-1zM31 20h1v1h-1zM31 21h2v1h-2zM7 22h1v1h-1zM24 23h1v1h-1zM24 24h1v1h-1zM26 27h1v1h-1zM2 28h1v1h-1zM15 29h1v1h-1zM3 30h1v1h-1zM0 31h1v1h-1zM2 32h1v1h-1zM2 33h1v1h-1zM3 34h1v1h-1zM13 36h1v1h-1zM7 37h1v1h-1zM15 40h1v1h-1zM17 42h1v1h-1zM15 45h1v1h-1zM12 47h1v1h-1zM17 47h1v1h-1zM12 48h1v1h-1zM23 49h1v1h-1zM14 50h1v1h-1zM17 50h2v1h-2zM23 50h1v1h-1zM23 51h1v1h-1zM24 52h1v1h-1zM20 57h1v1h-1zM26 57h1v1h-1z"/>
<path fill="#f7f7f7" d="M26 12h1v1h-1z"/>
<path fill="#adadad" d="M27 12h1v1h-1zM35 14h1v1h-1zM1 17h1v1h-1zM7 20h1v1h-1zM8 21h1v1h-1z"/>
<path fill="#cecece" d="M0 13h1v1h-1zM7 21h1v1h-1z"/>
<path fill="#bdbdbd" d="M26 13h1v1h-1zM0 14h1v1h-1zM1 35h1v1h-1z"/>
<path fill="#d6d6d6" d="M35 15h1v1h-1z"/>
<path fill="#9c9c9c" d="M31 23h1v1h-1zM31 24h2v1h-2zM18 28h1v1h-1zM0 35h1v1h-1zM14 47h1v1h-1zM13 49h1v1h-1zM15 49h1v1h-1z"/>
<path fill="#b5b5b5" d="M26 28h1v1h-1zM1 34h1v1h-1zM13 48h1v1h-1z"/>
<path fill="#191919" d="M1 40h1v1h-1zM2 41h1v1h-1zM3 42h1v1h-1zM3 44h1v1h-1zM6 44h1v1h-1zM0 45h1v1h-1zM4 45h1v1h-1zM1 46h1v1h-1zM6 46h1v1h-1zM4 47h1v1h-1zM9 47h1v1h-1zM7 48h1v1h-1zM7 49h1v1h-1zM1 50h1v1h-1zM5 50h3v1h-3zM1 51h1v1h-1zM4 51h2v1h-2zM0 52h1v1h-1zM5 52h1v1h-1zM0 53h2v1h-2zM3 53h1v1h-1zM6 53h1v1h-1zM1 54h1v1h-1zM8 54h1v1h-1zM1 55h1v1h-1zM5 55h2v1h-2zM0 56h1v1h-1zM7 56h1v1h-1zM9 56h1v1h-1zM6 57h1v1h-1zM8 57h1v1h-1zM10 57h1v1h-1zM2 58h1v1h-1zM7 58h1v1h-1zM11 58h1v1h-1zM16 58h1v1h-1zM0 59h1v1h-1zM8 59h1v1h-1zM10 59h1v1h-1zM12 59h3v1h-3zM4 60h1v1h-1zM6 60h2v1h-2zM15 60h1v1h-1zM0 61h1v1h-1zM5 61h2v1h-2zM12 61h1v1h-1zM15 61h1v1h-1zM1 62h1v1h-1zM4 62h1v1h-1zM6 62h2v1h-2zM12 62h1v1h-1zM1 63h2v1h-2zM9 63h3v1h-3z"/>
<path fill="#080808" d="M2 43h1v1h-1zM1 45h1v1h-1zM0 46h1v1h-1zM0 47h1v1h-1zM3 47h1v1h-1zM1 48h1v1h-1zM4 49h1v1h-1zM0 50h1v1h-1zM0 51h1v1h-1zM2 51h1v1h-1zM1 52h1v1h-1zM2 53h1v1h-1zM4 53h1v1h-1zM4 54h1v1h-1zM0 55h1v1h-1zM7 55h1v1h-1zM5 56h1v1h-1zM8 56h1v1h-1zM0 57h1v1h-1zM3 57h1v1h-1zM5 57h1v1h-1zM9 57h1v1h-1zM11 57h1v1h-1zM1 58h1v1h-1zM6 58h1v1h-1zM5 59h1v1h-1zM3 60h1v1h-1zM9 60h1v1h-1zM7 61h5v1h-5zM0 62h1v1h-1zM2 62h1v1h-1zM9 62h1v1h-1zM3 63h1v1h-1zM5 63h2v1h-2zM8 63h1v1h-1zM12 63h1v1h-1z"/>
<path fill="#101010" d="M2 45h1v1h-1zM4 46h1v1h-1zM2 47h1v1h-1zM0 48h1v1h-1zM2 48h2v1h-2zM5 48h2v1h-2zM0 49h2v1h-2zM2 50h1v1h-1zM3 51h1v1h-1zM7 51h1v1h-1zM2 52h1v1h-1zM4 52h1v1h-1zM5 53h1v1h-1zM7 53h1v1h-1zM0 54h1v1h-1zM7 54h1v1h-1zM2 55h3v1h-3zM8 55h2v1h-2zM3 56h2v1h-2zM6 56h1v1h-1zM1 57h1v1h-1zM4 57h1v1h-1zM7 57h1v1h-1zM0 58h1v1h-1zM3 58h3v1h-3zM9 58h2v1h-2zM3 59h2v1h-2zM6 59h1v1h-1zM9 59h1v1h-1zM0 60h3v1h-3zM5 60h1v1h-1zM10 60h1v1h-1zM13 60h1v1h-1zM1 61h4v1h-4zM14 61h1v1h-1zM5 62h1v1h-1zM8 62h1v1h-1zM10 62h1v1h-1zM4 63h1v1h-1zM7 63h1v1h-1z"/>
<path fill="#000000" d="M3 52h1v1h-1zM2 54h1v1h-1zM2 57h1v1h-1zM1 59h2v1h-2zM7 59h1v1h-1zM8 60h1v1h-1z"/>
</g>
<g transform="translate(276.0,13.2) scale(6.3472,6.3688)" shape-rendering="crispEdges">
<path fill="#636363" d="M0 0h1v1h-1zM15 0h1v1h-1zM20 0h2v1h-2zM31 0h1v1h-1zM4 1h1v1h-1zM22 1h2v1h-2zM25 1h2v1h-2zM30 1h1v1h-1zM14 2h2v1h-2zM19 2h1v1h-1zM23 2h1v1h-1zM25 2h3v1h-3zM3 3h1v1h-1zM5 3h1v1h-1zM8 3h1v1h-1zM10 3h2v1h-2zM14 3h1v1h-1zM29 3h1v1h-1zM6 4h2v1h-2zM9 4h1v1h-1zM13 4h3v1h-3zM17 4h1v1h-1zM20 4h2v1h-2zM32 4h2v1h-2zM12 5h4v1h-4zM23 5h1v1h-1zM30 5h2v1h-2zM2 6h1v1h-1zM7 6h2v1h-2zM10 6h1v1h-1zM17 6h1v1h-1zM22 6h1v1h-1zM25 6h1v1h-1zM29 6h1v1h-1zM32 6h2v1h-2zM10 7h2v1h-2zM19 7h1v1h-1zM23 7h1v1h-1zM25 7h1v1h-1zM27 7h1v1h-1zM30 7h2v1h-2zM35 7h1v1h-1zM15 8h1v1h-1zM23 8h1v1h-1zM25 8h1v1h-1zM31 8h1v1h-1zM33 8h1v1h-1zM2 9h4v1h-4zM7 9h1v1h-1zM9 9h1v1h-1zM13 9h1v1h-1zM20 9h1v1h-1zM23 9h1v1h-1zM29 9h1v1h-1zM1 10h2v1h-2zM5 10h2v1h-2zM8 10h1v1h-1zM10 10h1v1h-1zM13 10h1v1h-1zM18 10h1v1h-1zM21 10h1v1h-1zM23 10h6v1h-6zM35 10h1v1h-1zM3 11h2v1h-2zM12 11h1v1h-1zM16 11h1v1h-1zM19 11h1v1h-1zM31 11h1v1h-1zM7 12h1v1h-1zM10 12h1v1h-1zM16 12h1v1h-1zM18 12h2v1h-2zM21 12h1v1h-1zM24 12h1v1h-1zM34 12h1v1h-1zM6 13h1v1h-1zM13 13h1v1h-1zM23 13h1v1h-1zM28 13h1v1h-1zM33 13h1v1h-1zM12 14h1v1h-1zM17 14h2v1h-2zM21 14h3v1h-3zM11 15h1v1h-1zM13 15h1v1h-1zM17 15h1v1h-1zM24 15h1v1h-1zM5 16h1v1h-1zM9 16h3v1h-3zM18 16h1v1h-1zM21 16h1v1h-1zM1 17h2v1h-2zM6 17h1v1h-1zM8 17h2v1h-2zM11 17h1v1h-1zM20 17h1v1h-1zM23 17h2v1h-2zM28 17h2v1h-2zM32 17h2v1h-2zM3 18h1v1h-1zM23 18h1v1h-1zM26 18h1v1h-1zM3 19h1v1h-1zM10 19h3v1h-3zM14 19h2v1h-2zM20 19h2v1h-2zM30 19h2v1h-2zM33 19h3v1h-3zM11 20h1v1h-1zM14 20h1v1h-1zM16 20h1v1h-1zM22 20h1v1h-1zM27 20h2v1h-2zM34 20h1v1h-1zM9 21h1v1h-1zM23 21h1v1h-1zM26 21h1v1h-1zM30 21h2v1h-2zM33 21h1v1h-1zM3 22h2v1h-2zM6 22h2v1h-2zM9 22h1v1h-1zM11 22h2v1h-2zM18 22h1v1h-1zM30 22h1v1h-1zM33 22h3v1h-3zM1 23h1v1h-1zM3 23h2v1h-2zM24 23h3v1h-3zM2 24h1v1h-1zM6 24h1v1h-1zM8 24h2v1h-2zM11 24h1v1h-1zM18 24h1v1h-1zM25 24h1v1h-1zM29 24h1v1h-1zM1 25h2v1h-2zM7 25h1v1h-1zM10 25h1v1h-1zM14 25h1v1h-1zM26 25h1v1h-1zM28 25h1v1h-1zM30 25h1v1h-1zM32 25h1v1h-1zM14 26h1v1h-1zM28 26h1v1h-1zM31 26h1v1h-1zM9 27h1v1h-1zM11 27h2v1h-2zM16 27h2v1h-2zM26 27h2v1h-2zM31 27h1v1h-1zM33 27h1v1h-1zM11 28h1v1h-1zM13 28h1v1h-1zM19 28h1v1h-1zM22 28h1v1h-1zM32 28h2v1h-2zM35 28h1v1h-1zM11 29h1v1h-1zM18 29h1v1h-1zM24 29h1v1h-1zM28 29h1v1h-1zM1 30h1v1h-1zM17 30h1v1h-1zM27 30h1v1h-1zM32 30h2v1h-2zM0 31h2v1h-2zM3 31h1v1h-1zM17 31h1v1h-1zM27 31h1v1h-1zM32 31h1v1h-1zM35 31h1v1h-1zM13 32h2v1h-2zM18 32h1v1h-1zM23 32h1v1h-1zM27 32h1v1h-1zM31 32h1v1h-1zM34 32h1v1h-1zM1 33h1v1h-1zM13 33h1v1h-1zM15 33h1v1h-1zM25 33h2v1h-2zM29 33h1v1h-1zM34 33h1v1h-1zM1 34h2v1h-2zM6 34h1v1h-1zM12 34h1v1h-1zM14 34h1v1h-1zM21 34h1v1h-1zM35 34h1v1h-1zM0 35h2v1h-2zM3 35h1v1h-1zM7 35h1v1h-1zM12 35h1v1h-1zM16 35h1v1h-1zM19 35h1v1h-1zM30 35h1v1h-1zM0 36h1v1h-1zM4 36h1v1h-1zM19 36h2v1h-2zM24 36h1v1h-1zM29 36h1v1h-1zM31 36h1v1h-1zM10 37h1v1h-1zM26 37h1v1h-1zM34 37h1v1h-1zM25 38h1v1h-1zM28 38h1v1h-1zM35 38h1v1h-1zM3 39h1v1h-1zM32 39h2v1h-2zM4 40h1v1h-1zM7 40h1v1h-1zM24 40h1v1h-1zM30 40h3v1h-3zM34 40h1v1h-1zM8 41h2v1h-2zM21 41h1v1h-1zM25 41h1v1h-1zM27 41h2v1h-2zM30 41h2v1h-2zM33 41h1v1h-1zM8 42h1v1h-1zM23 42h1v1h-1zM29 42h2v1h-2zM32 43h1v1h-1zM25 44h1v1h-1zM28 44h1v1h-1zM33 44h1v1h-1zM9 45h1v1h-1zM24 45h2v1h-2zM28 45h1v1h-1zM32 45h1v1h-1zM11 46h1v1h-1zM14 46h1v1h-1zM24 46h1v1h-1zM27 46h1v1h-1zM30 46h1v1h-1zM33 46h1v1h-1zM10 47h2v1h-2zM13 47h1v1h-1zM24 47h1v1h-1zM28 47h1v1h-1zM30 47h1v1h-1zM14 48h1v1h-1zM28 48h1v1h-1zM13 49h1v1h-1zM15 49h1v1h-1zM18 49h1v1h-1zM15 50h1v1h-1zM31 50h1v1h-1zM35 50h1v1h-1zM14 51h2v1h-2zM32 51h1v1h-1zM14 52h1v1h-1zM35 52h1v1h-1zM17 53h2v1h-2zM22 53h1v1h-1zM34 53h1v1h-1zM23 54h1v1h-1zM26 54h1v1h-1zM28 54h1v1h-1zM30 54h1v1h-1zM28 55h1v1h-1zM18 56h2v1h-2zM33 56h1v1h-1zM25 57h1v1h-1zM27 57h1v1h-1zM25 58h4v1h-4zM30 58h3v1h-3zM34 58h2v1h-2zM28 59h1v1h-1zM27 60h1v1h-1zM29 60h1v1h-1zM19 61h3v1h-3zM23 61h1v1h-1zM26 61h1v1h-1zM30 62h1v1h-1zM20 63h1v1h-1zM26 63h1v1h-1zM32 63h1v1h-1zM35 63h1v1h-1z"/>
<path fill="#525252" d="M1 0h2v1h-2zM18 0h1v1h-1zM1 1h1v1h-1zM3 1h1v1h-1zM12 1h1v1h-1zM28 1h1v1h-1zM2 2h1v1h-1zM19 3h2v1h-2zM2 4h1v1h-1zM26 4h1v1h-1zM0 5h1v1h-1zM8 5h1v1h-1zM11 5h1v1h-1zM19 5h1v1h-1zM28 5h1v1h-1zM0 6h2v1h-2zM3 6h1v1h-1zM13 6h1v1h-1zM19 6h2v1h-2zM23 6h1v1h-1zM28 6h1v1h-1zM0 7h1v1h-1zM2 7h2v1h-2zM14 7h2v1h-2zM18 7h1v1h-1zM26 7h1v1h-1zM32 7h2v1h-2zM0 8h2v1h-2zM16 8h1v1h-1zM12 10h1v1h-1zM19 10h2v1h-2zM0 11h1v1h-1zM11 11h1v1h-1zM8 12h1v1h-1zM11 12h2v1h-2zM22 12h1v1h-1zM10 13h1v1h-1zM18 13h1v1h-1zM20 13h1v1h-1zM7 14h1v1h-1zM19 14h1v1h-1zM18 15h1v1h-1zM22 15h1v1h-1zM7 16h1v1h-1zM5 17h1v1h-1zM22 17h1v1h-1zM13 19h1v1h-1zM10 20h1v1h-1zM21 20h1v1h-1zM23 20h1v1h-1zM28 21h2v1h-2zM1 22h1v1h-1zM29 22h1v1h-1zM0 23h1v1h-1zM22 24h1v1h-1zM29 26h1v1h-1zM29 27h1v1h-1zM32 27h1v1h-1zM29 28h1v1h-1zM34 29h2v1h-2zM33 31h1v1h-1zM26 32h1v1h-1zM32 32h1v1h-1zM28 33h1v1h-1zM0 34h1v1h-1zM19 34h2v1h-2zM30 34h1v1h-1zM2 35h1v1h-1zM21 35h1v1h-1zM31 35h1v1h-1zM1 37h3v1h-3zM1 38h1v1h-1zM4 38h1v1h-1zM1 39h1v1h-1zM5 39h1v1h-1zM21 39h1v1h-1zM24 39h1v1h-1zM3 40h1v1h-1zM35 40h1v1h-1zM3 41h1v1h-1zM5 41h1v1h-1zM7 42h1v1h-1zM31 42h1v1h-1zM33 42h2v1h-2zM8 43h1v1h-1zM10 43h1v1h-1zM34 43h1v1h-1zM34 44h1v1h-1zM0 45h1v1h-1zM8 45h1v1h-1zM10 45h1v1h-1zM30 45h1v1h-1zM25 46h1v1h-1zM29 46h1v1h-1zM32 46h1v1h-1zM32 47h1v1h-1zM11 48h1v1h-1zM32 48h1v1h-1zM35 48h1v1h-1zM12 49h1v1h-1zM31 49h2v1h-2zM34 49h1v1h-1zM1 50h1v1h-1zM10 50h1v1h-1zM12 50h1v1h-1zM12 52h1v1h-1zM32 52h2v1h-2zM14 53h1v1h-1zM33 53h1v1h-1zM14 54h1v1h-1zM31 54h1v1h-1zM14 55h2v1h-2zM17 55h1v1h-1zM30 55h1v1h-1zM32 55h2v1h-2zM13 56h1v1h-1zM29 56h1v1h-1zM32 56h1v1h-1zM15 57h1v1h-1zM30 57h2v1h-2zM19 58h1v1h-1zM33 58h1v1h-1zM27 59h1v1h-1zM32 59h1v1h-1zM35 59h1v1h-1zM17 60h1v1h-1zM20 60h1v1h-1zM25 60h2v1h-2zM28 60h1v1h-1zM15 61h1v1h-1zM18 61h1v1h-1zM27 61h1v1h-1zM29 61h1v1h-1zM34 61h1v1h-1zM19 62h1v1h-1zM21 62h2v1h-2zM29 62h1v1h-1zM17 63h3v1h-3zM24 63h2v1h-2zM28 63h2v1h-2z"/>
<path fill="#5a5a5a" d="M3 0h1v1h-1zM11 0h3v1h-3zM16 0h2v1h-2zM19 0h1v1h-1zM27 0h1v1h-1zM29 0h1v1h-1zM8 1h2v1h-2zM13 1h3v1h-3zM27 1h1v1h-1zM29 1h1v1h-1zM1 2h1v1h-1zM3 2h2v1h-2zM8 2h1v1h-1zM10 2h1v1h-1zM12 2h2v1h-2zM16 2h3v1h-3zM20 2h2v1h-2zM1 3h2v1h-2zM13 3h1v1h-1zM15 3h2v1h-2zM18 3h1v1h-1zM21 3h2v1h-2zM0 4h1v1h-1zM16 4h1v1h-1zM18 4h1v1h-1zM22 4h1v1h-1zM2 5h1v1h-1zM7 5h1v1h-1zM10 5h1v1h-1zM16 5h1v1h-1zM18 5h1v1h-1zM21 5h2v1h-2zM27 5h1v1h-1zM32 5h1v1h-1zM9 6h1v1h-1zM11 6h2v1h-2zM16 6h1v1h-1zM27 6h1v1h-1zM31 6h1v1h-1zM35 6h1v1h-1zM16 7h1v1h-1zM20 7h3v1h-3zM4 8h1v1h-1zM12 8h1v1h-1zM14 8h1v1h-1zM18 8h1v1h-1zM20 8h1v1h-1zM35 8h1v1h-1zM0 9h2v1h-2zM14 9h1v1h-1zM19 9h1v1h-1zM21 9h1v1h-1zM26 9h1v1h-1zM35 9h1v1h-1zM0 10h1v1h-1zM4 10h1v1h-1zM29 10h1v1h-1zM1 11h1v1h-1zM7 11h1v1h-1zM9 11h1v1h-1zM13 11h3v1h-3zM17 11h2v1h-2zM21 11h1v1h-1zM23 11h2v1h-2zM28 11h3v1h-3zM33 11h1v1h-1zM13 12h1v1h-1zM23 12h1v1h-1zM7 13h1v1h-1zM11 13h1v1h-1zM17 13h1v1h-1zM19 13h1v1h-1zM21 13h2v1h-2zM24 13h1v1h-1zM20 14h1v1h-1zM24 14h1v1h-1zM7 15h4v1h-4zM16 15h1v1h-1zM19 15h1v1h-1zM21 15h1v1h-1zM23 15h1v1h-1zM4 16h1v1h-1zM6 16h1v1h-1zM8 16h1v1h-1zM20 16h1v1h-1zM22 16h1v1h-1zM17 17h1v1h-1zM21 17h1v1h-1zM9 18h1v1h-1zM7 19h1v1h-1zM16 19h1v1h-1zM23 19h1v1h-1zM28 19h1v1h-1zM15 20h1v1h-1zM20 20h1v1h-1zM29 20h1v1h-1zM31 20h1v1h-1zM1 21h1v1h-1zM14 21h1v1h-1zM17 21h1v1h-1zM20 21h3v1h-3zM0 22h1v1h-1zM2 22h1v1h-1zM17 22h1v1h-1zM25 22h1v1h-1zM31 22h1v1h-1zM6 23h1v1h-1zM8 23h1v1h-1zM34 23h1v1h-1zM24 24h1v1h-1zM35 24h1v1h-1zM23 25h3v1h-3zM27 25h1v1h-1zM33 25h1v1h-1zM0 26h1v1h-1zM18 26h1v1h-1zM26 26h1v1h-1zM24 27h1v1h-1zM28 27h1v1h-1zM34 27h1v1h-1zM8 28h1v1h-1zM27 28h1v1h-1zM19 29h1v1h-1zM21 29h1v1h-1zM12 30h1v1h-1zM34 30h1v1h-1zM11 32h1v1h-1zM21 32h1v1h-1zM25 32h1v1h-1zM33 32h1v1h-1zM35 32h1v1h-1zM11 33h2v1h-2zM20 33h1v1h-1zM27 33h1v1h-1zM30 33h1v1h-1zM33 33h1v1h-1zM35 33h1v1h-1zM3 34h1v1h-1zM11 34h1v1h-1zM17 34h1v1h-1zM22 34h2v1h-2zM25 34h1v1h-1zM29 34h1v1h-1zM31 34h1v1h-1zM33 34h2v1h-2zM22 35h1v1h-1zM29 35h1v1h-1zM32 35h2v1h-2zM2 36h1v1h-1zM30 36h1v1h-1zM34 36h2v1h-2zM5 37h2v1h-2zM18 37h1v1h-1zM28 37h2v1h-2zM33 37h1v1h-1zM2 38h2v1h-2zM5 38h1v1h-1zM22 38h1v1h-1zM27 38h1v1h-1zM32 38h2v1h-2zM25 39h1v1h-1zM34 39h1v1h-1zM6 40h1v1h-1zM25 40h2v1h-2zM33 40h1v1h-1zM7 41h1v1h-1zM32 41h1v1h-1zM6 42h1v1h-1zM32 42h1v1h-1zM35 42h1v1h-1zM31 43h1v1h-1zM5 44h1v1h-1zM8 44h2v1h-2zM11 44h1v1h-1zM30 44h1v1h-1zM33 45h1v1h-1zM8 46h2v1h-2zM26 46h1v1h-1zM35 46h1v1h-1zM27 47h1v1h-1zM31 47h1v1h-1zM34 47h1v1h-1zM12 48h1v1h-1zM30 48h2v1h-2zM10 49h1v1h-1zM14 49h1v1h-1zM11 50h1v1h-1zM13 51h1v1h-1zM33 51h3v1h-3zM13 52h1v1h-1zM15 52h1v1h-1zM16 53h1v1h-1zM31 53h2v1h-2zM35 53h1v1h-1zM13 54h1v1h-1zM15 54h2v1h-2zM27 54h1v1h-1zM29 54h1v1h-1zM32 54h2v1h-2zM16 55h1v1h-1zM29 55h1v1h-1zM35 55h1v1h-1zM15 56h1v1h-1zM17 56h1v1h-1zM30 56h1v1h-1zM16 57h2v1h-2zM28 57h1v1h-1zM16 58h1v1h-1zM18 58h1v1h-1zM23 58h1v1h-1zM18 59h3v1h-3zM26 59h1v1h-1zM29 59h3v1h-3zM33 59h1v1h-1zM19 60h1v1h-1zM21 60h1v1h-1zM23 60h1v1h-1zM34 60h1v1h-1zM17 61h1v1h-1zM24 61h1v1h-1zM28 61h1v1h-1zM33 61h1v1h-1zM17 62h2v1h-2zM20 62h1v1h-1zM27 62h1v1h-1zM34 62h2v1h-2zM22 63h1v1h-1zM27 63h1v1h-1z"/>
<path fill="#7b7b7b" d="M4 0h2v1h-2zM35 0h1v1h-1zM34 1h2v1h-2zM35 3h1v1h-1zM12 4h1v1h-1zM34 5h1v1h-1zM6 7h1v1h-1zM28 7h1v1h-1zM7 8h3v1h-3zM13 8h1v1h-1zM32 8h1v1h-1zM24 9h1v1h-1zM34 10h1v1h-1zM5 11h1v1h-1zM25 11h2v1h-2zM32 11h1v1h-1zM1 12h1v1h-1zM3 12h2v1h-2zM27 12h1v1h-1zM33 12h1v1h-1zM2 13h2v1h-2zM25 13h1v1h-1zM32 13h1v1h-1zM3 14h1v1h-1zM5 14h1v1h-1zM27 14h1v1h-1zM5 15h1v1h-1zM12 15h1v1h-1zM14 15h2v1h-2zM1 16h1v1h-1zM16 16h1v1h-1zM27 16h4v1h-4zM35 16h1v1h-1zM12 17h1v1h-1zM18 17h2v1h-2zM25 17h2v1h-2zM31 17h1v1h-1zM1 18h1v1h-1zM16 18h1v1h-1zM21 18h1v1h-1zM28 18h1v1h-1zM24 19h1v1h-1zM4 20h1v1h-1zM25 20h1v1h-1zM35 20h1v1h-1zM6 21h1v1h-1zM15 21h1v1h-1zM16 22h1v1h-1zM21 22h1v1h-1zM5 23h1v1h-1zM18 23h1v1h-1zM17 24h1v1h-1zM19 24h1v1h-1zM30 24h1v1h-1zM16 25h1v1h-1zM18 25h1v1h-1zM21 25h1v1h-1zM34 25h1v1h-1zM3 26h1v1h-1zM10 26h1v1h-1zM16 26h1v1h-1zM1 27h3v1h-3zM6 27h1v1h-1zM4 28h2v1h-2zM9 28h2v1h-2zM20 28h2v1h-2zM26 28h1v1h-1zM31 28h1v1h-1zM6 29h3v1h-3zM12 29h1v1h-1zM16 29h1v1h-1zM7 30h2v1h-2zM16 30h1v1h-1zM21 30h1v1h-1zM30 30h2v1h-2zM5 31h1v1h-1zM8 31h1v1h-1zM11 31h1v1h-1zM13 31h2v1h-2zM3 32h1v1h-1zM9 32h2v1h-2zM22 32h1v1h-1zM4 33h1v1h-1zM7 33h4v1h-4zM9 34h1v1h-1zM8 35h1v1h-1zM27 35h1v1h-1zM35 35h1v1h-1zM11 36h1v1h-1zM17 36h1v1h-1zM27 36h1v1h-1zM15 37h2v1h-2zM10 38h1v1h-1zM15 38h1v1h-1zM21 38h1v1h-1zM31 38h1v1h-1zM2 39h1v1h-1zM19 39h1v1h-1zM29 39h1v1h-1zM31 39h1v1h-1zM18 40h1v1h-1zM20 40h1v1h-1zM16 41h2v1h-2zM19 41h1v1h-1zM24 41h1v1h-1zM18 42h1v1h-1zM21 42h2v1h-2zM24 42h1v1h-1zM26 42h1v1h-1zM16 43h1v1h-1zM24 44h1v1h-1zM27 44h1v1h-1zM19 46h1v1h-1zM22 46h1v1h-1zM23 47h1v1h-1zM20 49h1v1h-1zM23 49h2v1h-2zM26 49h1v1h-1zM28 49h1v1h-1zM17 50h3v1h-3zM23 50h2v1h-2zM29 50h1v1h-1zM16 51h1v1h-1zM22 51h1v1h-1zM27 51h1v1h-1zM19 52h1v1h-1zM21 52h3v1h-3zM26 52h2v1h-2zM30 52h1v1h-1zM23 53h1v1h-1zM30 53h1v1h-1zM19 54h1v1h-1zM22 55h3v1h-3zM20 56h1v1h-1zM22 56h1v1h-1zM24 56h1v1h-1zM27 56h1v1h-1zM21 57h1v1h-1zM24 60h1v1h-1zM31 61h1v1h-1z"/>
<path fill="#6b6b6b" d="M6 0h3v1h-3zM10 0h1v1h-1zM22 0h1v1h-1zM30 0h1v1h-1zM0 1h1v1h-1zM10 1h2v1h-2zM16 1h3v1h-3zM20 1h2v1h-2zM31 1h2v1h-2zM7 2h1v1h-1zM9 2h1v1h-1zM22 2h1v1h-1zM24 2h1v1h-1zM29 2h4v1h-4zM0 3h1v1h-1zM7 3h1v1h-1zM12 3h1v1h-1zM25 3h4v1h-4zM30 3h1v1h-1zM32 3h3v1h-3zM1 4h1v1h-1zM3 4h3v1h-3zM10 4h2v1h-2zM25 4h1v1h-1zM27 4h3v1h-3zM31 4h1v1h-1zM34 4h2v1h-2zM3 5h2v1h-2zM6 5h1v1h-1zM9 5h1v1h-1zM17 5h1v1h-1zM20 5h1v1h-1zM24 5h1v1h-1zM29 5h1v1h-1zM18 6h1v1h-1zM21 6h1v1h-1zM24 6h1v1h-1zM30 6h1v1h-1zM4 7h1v1h-1zM12 7h1v1h-1zM17 7h1v1h-1zM24 7h1v1h-1zM29 7h1v1h-1zM3 8h1v1h-1zM5 8h1v1h-1zM10 8h2v1h-2zM19 8h1v1h-1zM22 8h1v1h-1zM26 8h1v1h-1zM30 8h1v1h-1zM34 8h1v1h-1zM6 9h1v1h-1zM8 9h1v1h-1zM10 9h3v1h-3zM15 9h3v1h-3zM22 9h1v1h-1zM27 9h2v1h-2zM3 10h1v1h-1zM9 10h1v1h-1zM11 10h1v1h-1zM17 10h1v1h-1zM30 10h2v1h-2zM2 11h1v1h-1zM6 11h1v1h-1zM8 11h1v1h-1zM10 11h1v1h-1zM20 11h1v1h-1zM22 11h1v1h-1zM34 11h1v1h-1zM2 12h1v1h-1zM9 12h1v1h-1zM15 12h1v1h-1zM28 12h2v1h-2zM31 12h2v1h-2zM8 13h2v1h-2zM15 13h2v1h-2zM35 13h1v1h-1zM6 14h1v1h-1zM8 14h2v1h-2zM11 14h1v1h-1zM14 14h3v1h-3zM28 14h1v1h-1zM2 15h1v1h-1zM6 15h1v1h-1zM25 15h1v1h-1zM35 15h1v1h-1zM2 16h2v1h-2zM12 16h1v1h-1zM19 16h1v1h-1zM23 16h2v1h-2zM34 16h1v1h-1zM0 17h1v1h-1zM3 17h2v1h-2zM7 17h1v1h-1zM10 17h1v1h-1zM2 18h1v1h-1zM4 18h1v1h-1zM6 18h1v1h-1zM8 18h1v1h-1zM10 18h3v1h-3zM14 18h2v1h-2zM27 18h1v1h-1zM34 18h2v1h-2zM4 19h3v1h-3zM8 19h2v1h-2zM22 19h1v1h-1zM27 19h1v1h-1zM29 19h1v1h-1zM32 19h1v1h-1zM0 20h3v1h-3zM5 20h2v1h-2zM9 20h1v1h-1zM17 20h3v1h-3zM24 20h1v1h-1zM26 20h1v1h-1zM30 20h1v1h-1zM32 20h1v1h-1zM3 21h3v1h-3zM10 21h2v1h-2zM16 21h1v1h-1zM24 21h2v1h-2zM32 21h1v1h-1zM34 21h2v1h-2zM8 22h1v1h-1zM10 22h1v1h-1zM19 22h1v1h-1zM22 22h3v1h-3zM26 22h3v1h-3zM2 23h1v1h-1zM7 23h1v1h-1zM11 23h1v1h-1zM22 23h1v1h-1zM27 23h2v1h-2zM30 23h1v1h-1zM35 23h1v1h-1zM0 24h2v1h-2zM5 24h1v1h-1zM7 24h1v1h-1zM23 24h1v1h-1zM26 24h1v1h-1zM28 24h1v1h-1zM33 24h2v1h-2zM0 25h1v1h-1zM4 25h1v1h-1zM6 25h1v1h-1zM8 25h1v1h-1zM12 25h1v1h-1zM19 25h1v1h-1zM29 25h1v1h-1zM35 25h1v1h-1zM1 26h1v1h-1zM7 26h2v1h-2zM13 26h1v1h-1zM24 26h1v1h-1zM27 26h1v1h-1zM30 26h1v1h-1zM32 26h3v1h-3zM0 27h1v1h-1zM5 27h1v1h-1zM7 27h2v1h-2zM10 27h1v1h-1zM13 27h1v1h-1zM30 27h1v1h-1zM1 28h1v1h-1zM6 28h2v1h-2zM12 28h1v1h-1zM16 28h1v1h-1zM23 28h1v1h-1zM28 28h1v1h-1zM30 28h1v1h-1zM34 28h1v1h-1zM2 29h2v1h-2zM17 29h1v1h-1zM22 29h2v1h-2zM27 29h1v1h-1zM29 29h1v1h-1zM0 30h1v1h-1zM4 30h1v1h-1zM11 30h1v1h-1zM25 30h2v1h-2zM28 30h1v1h-1zM35 30h1v1h-1zM6 31h1v1h-1zM16 31h1v1h-1zM22 31h3v1h-3zM26 31h1v1h-1zM28 31h2v1h-2zM31 31h1v1h-1zM34 31h1v1h-1zM0 32h3v1h-3zM12 32h1v1h-1zM17 32h1v1h-1zM24 32h1v1h-1zM28 32h1v1h-1zM30 32h1v1h-1zM0 33h1v1h-1zM2 33h2v1h-2zM6 33h1v1h-1zM14 33h1v1h-1zM16 33h1v1h-1zM18 33h1v1h-1zM22 33h1v1h-1zM24 33h1v1h-1zM31 33h1v1h-1zM4 34h2v1h-2zM13 34h1v1h-1zM15 34h2v1h-2zM28 34h1v1h-1zM32 34h1v1h-1zM4 35h3v1h-3zM11 35h1v1h-1zM13 35h1v1h-1zM20 35h1v1h-1zM25 35h2v1h-2zM34 35h1v1h-1zM5 36h1v1h-1zM7 36h1v1h-1zM12 36h2v1h-2zM16 36h1v1h-1zM22 36h1v1h-1zM26 36h1v1h-1zM28 36h1v1h-1zM32 36h1v1h-1zM11 37h1v1h-1zM22 37h2v1h-2zM35 37h1v1h-1zM7 38h2v1h-2zM17 38h1v1h-1zM24 38h1v1h-1zM26 38h1v1h-1zM8 39h1v1h-1zM18 39h1v1h-1zM28 39h1v1h-1zM8 40h1v1h-1zM15 40h3v1h-3zM21 40h3v1h-3zM29 40h1v1h-1zM22 41h1v1h-1zM26 41h1v1h-1zM9 42h1v1h-1zM19 42h1v1h-1zM11 43h1v1h-1zM21 43h1v1h-1zM23 43h2v1h-2zM26 43h1v1h-1zM28 43h3v1h-3zM10 44h1v1h-1zM19 44h1v1h-1zM23 44h1v1h-1zM29 44h1v1h-1zM31 44h2v1h-2zM11 45h1v1h-1zM13 45h2v1h-2zM23 45h1v1h-1zM26 45h2v1h-2zM29 45h1v1h-1zM31 45h1v1h-1zM10 46h1v1h-1zM12 46h2v1h-2zM28 46h1v1h-1zM31 46h1v1h-1zM12 47h1v1h-1zM14 47h2v1h-2zM29 47h1v1h-1zM15 48h1v1h-1zM29 48h1v1h-1zM30 49h1v1h-1zM14 50h1v1h-1zM22 50h1v1h-1zM18 51h2v1h-2zM25 51h2v1h-2zM16 52h3v1h-3zM25 52h1v1h-1zM34 52h1v1h-1zM15 53h1v1h-1zM25 53h3v1h-3zM17 54h1v1h-1zM25 54h1v1h-1zM35 54h1v1h-1zM18 55h1v1h-1zM20 55h2v1h-2zM27 55h1v1h-1zM31 55h1v1h-1zM34 55h1v1h-1zM21 56h1v1h-1zM23 56h1v1h-1zM26 56h1v1h-1zM28 56h1v1h-1zM31 56h1v1h-1zM20 57h1v1h-1zM22 57h1v1h-1zM26 57h1v1h-1zM33 57h3v1h-3zM20 58h1v1h-1zM21 59h1v1h-1zM22 60h1v1h-1zM22 61h1v1h-1zM25 61h1v1h-1zM24 62h3v1h-3zM33 62h1v1h-1zM23 63h1v1h-1zM30 63h2v1h-2zM33 63h2v1h-2z"/>
<path fill="#737373" d="M9 0h1v1h-1zM14 0h1v1h-1zM23 0h1v1h-1zM26 0h1v1h-1zM32 0h2v1h-2zM2 1h1v1h-1zM19 1h1v1h-1zM28 2h1v1h-1zM34 2h1v1h-1zM6 3h1v1h-1zM9 3h1v1h-1zM23 3h2v1h-2zM31 3h1v1h-1zM23 4h2v1h-2zM30 4h1v1h-1zM5 5h1v1h-1zM25 5h1v1h-1zM33 5h1v1h-1zM35 5h1v1h-1zM14 6h1v1h-1zM26 6h1v1h-1zM34 6h1v1h-1zM7 7h2v1h-2zM13 7h1v1h-1zM34 7h1v1h-1zM6 8h1v1h-1zM17 8h1v1h-1zM21 8h1v1h-1zM24 8h1v1h-1zM29 8h1v1h-1zM25 9h1v1h-1zM30 9h1v1h-1zM34 9h1v1h-1zM7 10h1v1h-1zM15 10h2v1h-2zM22 10h1v1h-1zM27 11h1v1h-1zM35 11h1v1h-1zM0 12h1v1h-1zM5 12h2v1h-2zM17 12h1v1h-1zM30 12h1v1h-1zM35 12h1v1h-1zM12 13h1v1h-1zM14 13h1v1h-1zM27 13h1v1h-1zM29 13h1v1h-1zM34 13h1v1h-1zM10 14h1v1h-1zM13 14h1v1h-1zM25 14h2v1h-2zM29 14h1v1h-1zM33 14h3v1h-3zM3 15h2v1h-2zM26 15h4v1h-4zM33 15h1v1h-1zM32 16h2v1h-2zM16 17h1v1h-1zM27 17h1v1h-1zM30 17h1v1h-1zM34 17h2v1h-2zM0 18h1v1h-1zM5 18h1v1h-1zM7 18h1v1h-1zM13 18h1v1h-1zM17 18h1v1h-1zM25 18h1v1h-1zM29 18h1v1h-1zM31 18h3v1h-3zM0 19h1v1h-1zM2 19h1v1h-1zM17 19h1v1h-1zM26 19h1v1h-1zM3 20h1v1h-1zM8 20h1v1h-1zM12 20h2v1h-2zM33 20h1v1h-1zM0 21h1v1h-1zM2 21h1v1h-1zM8 21h1v1h-1zM12 21h2v1h-2zM18 21h2v1h-2zM27 21h1v1h-1zM5 22h1v1h-1zM13 22h1v1h-1zM32 22h1v1h-1zM9 23h2v1h-2zM12 23h1v1h-1zM17 23h1v1h-1zM19 23h1v1h-1zM23 23h1v1h-1zM29 23h1v1h-1zM33 23h1v1h-1zM3 24h2v1h-2zM10 24h1v1h-1zM13 24h1v1h-1zM21 24h1v1h-1zM27 24h1v1h-1zM3 25h1v1h-1zM5 25h1v1h-1zM9 25h1v1h-1zM11 25h1v1h-1zM13 25h1v1h-1zM17 25h1v1h-1zM20 25h1v1h-1zM22 25h1v1h-1zM31 25h1v1h-1zM2 26h1v1h-1zM4 26h3v1h-3zM9 26h1v1h-1zM11 26h2v1h-2zM17 26h1v1h-1zM25 26h1v1h-1zM35 26h1v1h-1zM14 27h1v1h-1zM25 27h1v1h-1zM17 28h2v1h-2zM24 28h2v1h-2zM0 29h1v1h-1zM5 29h1v1h-1zM20 29h1v1h-1zM25 29h2v1h-2zM31 29h1v1h-1zM2 30h1v1h-1zM6 30h1v1h-1zM13 30h1v1h-1zM18 30h1v1h-1zM29 30h1v1h-1zM2 31h1v1h-1zM7 31h1v1h-1zM12 31h1v1h-1zM18 31h1v1h-1zM25 31h1v1h-1zM30 31h1v1h-1zM6 32h3v1h-3zM15 32h2v1h-2zM19 32h2v1h-2zM29 32h1v1h-1zM5 33h1v1h-1zM17 33h1v1h-1zM19 33h1v1h-1zM21 33h1v1h-1zM23 33h1v1h-1zM32 33h1v1h-1zM7 34h2v1h-2zM10 34h1v1h-1zM18 34h1v1h-1zM24 34h1v1h-1zM26 34h2v1h-2zM9 35h2v1h-2zM14 35h2v1h-2zM17 35h2v1h-2zM23 35h2v1h-2zM28 35h1v1h-1zM6 36h1v1h-1zM8 36h3v1h-3zM18 36h1v1h-1zM21 36h1v1h-1zM23 36h1v1h-1zM25 36h1v1h-1zM33 36h1v1h-1zM7 37h3v1h-3zM17 37h1v1h-1zM19 37h1v1h-1zM24 37h2v1h-2zM27 37h1v1h-1zM31 37h2v1h-2zM11 38h1v1h-1zM16 38h1v1h-1zM18 38h3v1h-3zM23 38h1v1h-1zM34 38h1v1h-1zM15 39h1v1h-1zM20 39h1v1h-1zM22 39h2v1h-2zM26 39h2v1h-2zM19 40h1v1h-1zM27 40h1v1h-1zM10 41h1v1h-1zM18 41h1v1h-1zM20 41h1v1h-1zM23 41h1v1h-1zM29 41h1v1h-1zM10 42h1v1h-1zM16 42h1v1h-1zM25 42h1v1h-1zM27 42h2v1h-2zM9 43h1v1h-1zM22 43h1v1h-1zM25 43h1v1h-1zM27 43h1v1h-1zM13 44h3v1h-3zM22 44h1v1h-1zM26 44h1v1h-1zM12 45h1v1h-1zM20 45h2v1h-2zM23 46h1v1h-1zM22 47h1v1h-1zM25 47h2v1h-2zM35 47h1v1h-1zM13 48h1v1h-1zM16 48h3v1h-3zM23 48h2v1h-2zM27 48h1v1h-1zM21 49h1v1h-1zM25 49h1v1h-1zM25 50h2v1h-2zM28 50h1v1h-1zM30 50h1v1h-1zM17 51h1v1h-1zM20 51h2v1h-2zM24 51h1v1h-1zM31 51h1v1h-1zM31 52h1v1h-1zM20 53h2v1h-2zM28 53h2v1h-2zM18 54h1v1h-1zM20 54h1v1h-1zM22 54h1v1h-1zM19 55h1v1h-1zM26 55h1v1h-1zM25 56h1v1h-1zM34 56h2v1h-2zM29 57h1v1h-1zM21 58h2v1h-2zM29 58h1v1h-1zM22 59h2v1h-2zM31 60h2v1h-2zM23 62h1v1h-1zM31 62h1v1h-1z"/>
<path fill="#949494" d="M24 0h1v1h-1zM24 1h1v1h-1zM4 6h1v1h-1zM32 9h1v1h-1zM32 10h1v1h-1zM13 16h1v1h-1zM14 17h2v1h-2zM18 18h1v1h-1zM7 21h1v1h-1zM15 23h1v1h-1zM20 23h1v1h-1zM15 24h1v1h-1zM31 24h2v1h-2zM21 26h1v1h-1zM20 27h2v1h-2zM14 30h1v1h-1zM4 31h1v1h-1zM10 31h1v1h-1zM5 32h1v1h-1zM21 37h1v1h-1zM12 38h1v1h-1zM9 39h1v1h-1zM12 39h1v1h-1zM12 40h1v1h-1zM11 41h1v1h-1zM15 41h1v1h-1zM13 42h1v1h-1zM15 42h1v1h-1zM20 44h1v1h-1zM15 46h1v1h-1zM18 46h1v1h-1zM18 47h1v1h-1zM29 51h2v1h-2zM29 52h1v1h-1zM24 58h1v1h-1z"/>
<path fill="#8c8c8c" d="M25 0h1v1h-1zM5 1h2v1h-2zM6 2h1v1h-1zM6 6h1v1h-1zM31 9h1v1h-1zM26 13h1v1h-1zM30 13h1v1h-1zM32 14h1v1h-1zM30 15h1v1h-1zM32 15h1v1h-1zM26 16h1v1h-1zM13 17h1v1h-1zM24 18h1v1h-1zM19 19h1v1h-1zM14 22h2v1h-2zM13 23h1v1h-1zM12 24h1v1h-1zM14 24h1v1h-1zM16 24h1v1h-1zM20 24h1v1h-1zM20 26h1v1h-1zM23 26h1v1h-1zM14 28h2v1h-2zM4 29h1v1h-1zM10 30h1v1h-1zM23 30h1v1h-1zM9 31h1v1h-1zM15 31h1v1h-1zM19 31h1v1h-1zM21 31h1v1h-1zM15 36h1v1h-1zM12 37h1v1h-1zM20 37h1v1h-1zM14 38h1v1h-1zM29 38h1v1h-1zM11 39h1v1h-1zM13 39h2v1h-2zM14 40h1v1h-1zM28 40h1v1h-1zM13 41h2v1h-2zM11 42h1v1h-1zM17 42h1v1h-1zM15 43h1v1h-1zM17 43h1v1h-1zM17 44h1v1h-1zM15 45h1v1h-1zM18 45h1v1h-1zM16 47h1v1h-1zM19 47h3v1h-3zM19 48h1v1h-1zM21 48h1v1h-1zM22 49h1v1h-1zM27 50h1v1h-1zM23 51h1v1h-1zM28 51h1v1h-1zM24 52h1v1h-1zM25 55h1v1h-1zM24 57h1v1h-1z"/>
<path fill="#424242" d="M28 0h1v1h-1zM17 3h1v1h-1zM18 9h1v1h-1zM22 18h1v1h-1zM33 29h1v1h-1zM0 39h1v1h-1zM4 39h1v1h-1zM6 39h1v1h-1zM1 41h1v1h-1zM6 41h1v1h-1zM35 41h1v1h-1zM2 42h1v1h-1zM0 43h1v1h-1zM2 43h1v1h-1zM4 43h1v1h-1zM33 43h1v1h-1zM0 44h1v1h-1zM1 45h1v1h-1zM3 45h1v1h-1zM7 45h1v1h-1zM1 47h2v1h-2zM7 47h1v1h-1zM9 47h1v1h-1zM1 48h1v1h-1zM8 48h1v1h-1zM10 48h1v1h-1zM6 49h2v1h-2zM9 49h1v1h-1zM11 49h1v1h-1zM2 50h1v1h-1zM6 50h3v1h-3zM8 53h1v1h-1zM10 53h2v1h-2zM12 54h1v1h-1zM10 55h1v1h-1zM12 55h2v1h-2zM2 56h1v1h-1zM11 56h1v1h-1zM3 57h1v1h-1zM6 57h1v1h-1zM14 57h1v1h-1zM13 58h1v1h-1zM15 58h1v1h-1zM17 58h1v1h-1zM14 59h1v1h-1zM17 59h1v1h-1zM33 60h1v1h-1zM35 60h1v1h-1zM16 61h1v1h-1zM16 62h1v1h-1zM28 62h1v1h-1zM13 63h1v1h-1zM15 63h1v1h-1z"/>
<path fill="#848484" d="M34 0h1v1h-1zM7 1h1v1h-1zM33 1h1v1h-1zM5 2h1v1h-1zM33 2h1v1h-1zM35 2h1v1h-1zM5 6h1v1h-1zM15 6h1v1h-1zM9 7h1v1h-1zM27 8h1v1h-1zM33 9h1v1h-1zM33 10h1v1h-1zM25 12h1v1h-1zM4 13h2v1h-2zM2 14h1v1h-1zM4 14h1v1h-1zM34 15h1v1h-1zM0 16h1v1h-1zM25 16h1v1h-1zM31 16h1v1h-1zM20 18h1v1h-1zM30 18h1v1h-1zM18 19h1v1h-1zM25 19h1v1h-1zM20 22h1v1h-1zM14 23h1v1h-1zM16 23h1v1h-1zM21 23h1v1h-1zM15 25h1v1h-1zM15 26h1v1h-1zM19 26h1v1h-1zM4 27h1v1h-1zM15 27h1v1h-1zM18 27h2v1h-2zM35 27h1v1h-1zM0 28h1v1h-1zM2 28h2v1h-2zM1 29h1v1h-1zM9 29h2v1h-2zM13 29h1v1h-1zM30 29h1v1h-1zM3 30h1v1h-1zM5 30h1v1h-1zM9 30h1v1h-1zM19 30h2v1h-2zM22 30h1v1h-1zM24 30h1v1h-1zM20 31h1v1h-1zM14 36h1v1h-1zM14 37h1v1h-1zM30 37h1v1h-1zM9 38h1v1h-1zM16 39h2v1h-2zM30 39h1v1h-1zM9 40h1v1h-1zM11 40h1v1h-1zM13 40h1v1h-1zM20 42h1v1h-1zM12 43h2v1h-2zM18 43h3v1h-3zM12 44h1v1h-1zM16 44h1v1h-1zM18 44h1v1h-1zM21 44h1v1h-1zM19 45h1v1h-1zM22 45h1v1h-1zM20 46h2v1h-2zM17 47h1v1h-1zM20 48h1v1h-1zM22 48h1v1h-1zM25 48h2v1h-2zM16 49h2v1h-2zM19 49h1v1h-1zM27 49h1v1h-1zM29 49h1v1h-1zM16 50h1v1h-1zM20 50h2v1h-2zM20 52h1v1h-1zM28 52h1v1h-1zM19 53h1v1h-1zM21 54h1v1h-1zM24 54h1v1h-1zM23 57h1v1h-1zM24 59h2v1h-2zM32 61h1v1h-1zM32 62h1v1h-1z"/>
<path fill="#4a4a4a" d="M0 2h1v1h-1zM11 2h1v1h-1zM4 3h1v1h-1zM8 4h1v1h-1zM19 4h1v1h-1zM1 5h1v1h-1zM26 5h1v1h-1zM1 7h1v1h-1zM2 8h1v1h-1zM14 10h1v1h-1zM14 12h1v1h-1zM20 12h1v1h-1zM20 15h1v1h-1zM17 16h1v1h-1zM1 19h1v1h-1zM32 29h1v1h-1zM1 36h1v1h-1zM3 36h1v1h-1zM0 37h1v1h-1zM4 37h1v1h-1zM0 38h1v1h-1zM6 38h1v1h-1zM7 39h1v1h-1zM35 39h1v1h-1zM1 40h2v1h-2zM5 40h1v1h-1zM4 41h1v1h-1zM34 41h1v1h-1zM3 42h3v1h-3zM5 43h3v1h-3zM35 43h1v1h-1zM6 45h1v1h-1zM34 45h2v1h-2zM7 46h1v1h-1zM34 46h1v1h-1zM8 47h1v1h-1zM33 47h1v1h-1zM6 48h2v1h-2zM9 48h1v1h-1zM33 48h2v1h-2zM33 49h1v1h-1zM35 49h1v1h-1zM4 50h1v1h-1zM13 50h1v1h-1zM32 50h3v1h-3zM9 51h4v1h-4zM11 52h1v1h-1zM2 53h1v1h-1zM12 53h2v1h-2zM34 54h1v1h-1zM11 55h1v1h-1zM14 56h1v1h-1zM16 56h1v1h-1zM13 57h1v1h-1zM19 57h1v1h-1zM32 57h1v1h-1zM6 58h1v1h-1zM15 59h1v1h-1zM34 59h1v1h-1zM4 60h1v1h-1zM14 60h2v1h-2zM18 60h1v1h-1zM30 60h1v1h-1zM30 61h1v1h-1zM35 61h1v1h-1zM14 63h1v1h-1zM21 63h1v1h-1z"/>
<path fill="#a5a5a5" d="M5 7h1v1h-1zM30 14h1v1h-1zM0 15h1v1h-1zM15 16h1v1h-1zM19 18h1v1h-1zM31 23h2v1h-2zM23 27h1v1h-1zM14 29h1v1h-1zM15 30h1v1h-1z"/>
<path fill="#9c9c9c" d="M28 8h1v1h-1zM26 12h1v1h-1zM31 13h1v1h-1zM1 15h1v1h-1zM31 15h1v1h-1zM7 20h1v1h-1zM13 37h1v1h-1zM10 39h1v1h-1zM10 40h1v1h-1zM12 42h1v1h-1zM14 43h1v1h-1zM16 46h1v1h-1zM24 53h1v1h-1z"/>
<path fill="#c5c5c5" d="M0 13h1v1h-1z"/>
<path fill="#b5b5b5" d="M1 13h1v1h-1zM22 26h1v1h-1zM4 32h1v1h-1zM30 38h1v1h-1zM12 41h1v1h-1zM17 45h1v1h-1z"/>
<path fill="#f7f7f7" d="M0 14h1v1h-1z"/>
<path fill="#d6d6d6" d="M1 14h1v1h-1z"/>
<path fill="#adadad" d="M31 14h1v1h-1zM14 16h1v1h-1zM22 27h1v1h-1zM13 38h1v1h-1zM14 42h1v1h-1zM16 45h1v1h-1z"/>
<path fill="#cecece" d="M15 29h1v1h-1z"/>
<path fill="#313131" d="M0 40h1v1h-1zM2 41h1v1h-1zM0 42h1v1h-1zM1 44h1v1h-1zM4 44h1v1h-1zM6 44h1v1h-1zM4 45h2v1h-2zM3 46h1v1h-1zM6 46h1v1h-1zM0 47h1v1h-1zM4 47h1v1h-1zM0 49h1v1h-1zM0 50h1v1h-1zM4 51h1v1h-1zM7 51h1v1h-1zM0 52h1v1h-1zM2 52h1v1h-1zM6 52h1v1h-1zM9 52h1v1h-1zM5 53h2v1h-2zM6 54h2v1h-2zM10 54h1v1h-1zM3 55h2v1h-2zM7 55h1v1h-1zM1 56h1v1h-1zM6 56h3v1h-3zM1 57h1v1h-1zM5 57h1v1h-1zM8 57h1v1h-1zM1 58h2v1h-2zM1 59h1v1h-1zM10 59h1v1h-1zM12 59h1v1h-1zM0 60h1v1h-1zM3 60h1v1h-1zM10 60h1v1h-1zM12 60h1v1h-1zM11 61h3v1h-3zM11 62h1v1h-1zM14 62h1v1h-1zM2 63h1v1h-1zM16 63h1v1h-1z"/>
<path fill="#212121" d="M0 41h1v1h-1zM3 50h1v1h-1zM3 51h1v1h-1zM5 51h2v1h-2zM5 52h1v1h-1zM0 53h1v1h-1zM4 53h1v1h-1zM0 54h1v1h-1zM3 54h3v1h-3zM1 55h1v1h-1zM5 55h1v1h-1zM3 56h1v1h-1zM5 56h1v1h-1zM9 56h1v1h-1zM7 57h1v1h-1zM7 58h2v1h-2zM10 58h2v1h-2zM2 59h1v1h-1zM4 59h2v1h-2zM8 59h1v1h-1zM7 60h1v1h-1zM9 60h1v1h-1zM0 61h1v1h-1zM2 61h1v1h-1zM10 61h1v1h-1zM1 62h1v1h-1zM4 62h3v1h-3zM3 63h1v1h-1zM6 63h3v1h-3z"/>
<path fill="#3a3a3a" d="M1 42h1v1h-1zM7 44h1v1h-1zM35 44h1v1h-1zM2 45h1v1h-1zM0 46h1v1h-1zM2 46h1v1h-1zM4 46h1v1h-1zM3 47h1v1h-1zM6 47h1v1h-1zM4 48h2v1h-2zM1 49h2v1h-2zM5 49h1v1h-1zM8 49h1v1h-1zM5 50h1v1h-1zM9 50h1v1h-1zM0 51h3v1h-3zM8 51h1v1h-1zM1 52h1v1h-1zM8 52h1v1h-1zM10 52h1v1h-1zM1 53h1v1h-1zM7 53h1v1h-1zM9 54h1v1h-1zM11 54h1v1h-1zM8 55h1v1h-1zM10 56h1v1h-1zM2 57h1v1h-1zM10 57h1v1h-1zM18 57h1v1h-1zM3 58h1v1h-1zM5 58h1v1h-1zM14 58h1v1h-1zM7 59h1v1h-1zM13 59h1v1h-1zM16 59h1v1h-1zM8 60h1v1h-1zM16 60h1v1h-1zM7 61h1v1h-1zM14 61h1v1h-1zM3 62h1v1h-1zM12 62h2v1h-2zM15 62h1v1h-1zM12 63h1v1h-1z"/>
<path fill="#292929" d="M1 43h1v1h-1zM3 43h1v1h-1zM2 44h2v1h-2zM1 46h1v1h-1zM5 46h1v1h-1zM5 47h1v1h-1zM0 48h1v1h-1zM2 48h2v1h-2zM3 49h2v1h-2zM3 52h1v1h-1zM7 52h1v1h-1zM3 53h1v1h-1zM9 53h1v1h-1zM1 54h2v1h-2zM8 54h1v1h-1zM9 55h1v1h-1zM4 56h1v1h-1zM12 56h1v1h-1zM0 57h1v1h-1zM4 57h1v1h-1zM9 57h1v1h-1zM11 57h2v1h-2zM0 58h1v1h-1zM9 58h1v1h-1zM12 58h1v1h-1zM0 59h1v1h-1zM3 59h1v1h-1zM6 59h1v1h-1zM9 59h1v1h-1zM11 59h1v1h-1zM2 60h1v1h-1zM5 60h1v1h-1zM11 60h1v1h-1zM13 60h1v1h-1zM3 61h4v1h-4zM8 61h2v1h-2zM7 62h3v1h-3zM4 63h2v1h-2zM10 63h2v1h-2z"/>
<path fill="#bdbdbd" d="M17 46h1v1h-1z"/>
<path fill="#191919" d="M4 52h1v1h-1zM0 55h1v1h-1zM2 55h1v1h-1zM0 56h1v1h-1zM4 58h1v1h-1zM1 60h1v1h-1zM6 60h1v1h-1zM1 61h1v1h-1zM0 62h1v1h-1zM2 62h1v1h-1zM0 63h1v1h-1zM9 63h1v1h-1z"/>
<path fill="#101010" d="M6 55h1v1h-1zM1 63h1v1h-1z"/>
<path fill="#080808" d="M10 62h1v1h-1z"/>
</g>
<g transform="translate(511.7,13.2) scale(6.3417,6.3688)" shape-rendering="crispEdges">
<path fill="#460000" d="M0 0h1v1h-1zM12 0h1v1h-1zM16 0h1v1h-1zM0 1h1v1h-1zM22 1h2v1h-2zM14 2h1v1h-1zM21 2h1v1h-1zM23 2h1v1h-1zM10 3h2v1h-2zM13 3h2v1h-2zM4 4h1v1h-1zM9 4h1v1h-1zM11 4h1v1h-1zM13 4h2v1h-2zM13 5h2v1h-2zM23 5h2v1h-2zM7 6h2v1h-2zM10 6h1v1h-1zM12 6h1v1h-1zM24 6h1v1h-1zM10 7h3v1h-3zM22 8h1v1h-1zM7 9h1v1h-1zM14 9h1v1h-1zM8 11h1v1h-1zM7 12h1v1h-1zM17 14h1v1h-1zM11 15h1v1h-1zM17 15h1v1h-1zM11 16h1v1h-1zM18 16h1v1h-1zM11 17h1v1h-1zM17 17h1v1h-1zM20 17h1v1h-1zM12 18h1v1h-1zM16 19h1v1h-1zM21 19h1v1h-1zM17 20h1v1h-1zM19 20h1v1h-1zM21 21h2v1h-2zM11 22h1v1h-1zM33 27h1v1h-1zM32 28h4v1h-4zM25 30h1v1h-1zM32 30h1v1h-1zM25 33h1v1h-1zM34 33h1v1h-1zM25 34h1v1h-1zM34 35h1v1h-1zM34 36h1v1h-1zM35 37h1v1h-1zM2 38h1v1h-1zM27 38h2v1h-2zM35 38h1v1h-1zM3 39h1v1h-1zM32 39h2v1h-2zM33 40h2v1h-2zM30 41h1v1h-1zM30 42h1v1h-1zM29 43h1v1h-1zM29 44h1v1h-1zM33 44h1v1h-1zM9 45h1v1h-1zM32 45h1v1h-1zM9 46h2v1h-2zM33 46h1v1h-1zM10 47h1v1h-1zM30 49h1v1h-1zM35 50h1v1h-1zM32 51h2v1h-2zM27 55h1v1h-1zM31 55h1v1h-1zM17 56h1v1h-1zM31 56h1v1h-1zM16 57h1v1h-1zM34 57h1v1h-1zM29 60h1v1h-1zM32 63h1v1h-1zM35 63h1v1h-1z"/>
<path fill="#2e1700" d="M1 0h1v1h-1zM11 0h1v1h-1zM19 0h1v1h-1zM3 1h1v1h-1zM12 1h3v1h-3zM27 1h1v1h-1zM2 2h1v1h-1zM12 2h2v1h-2zM17 2h1v1h-1zM20 2h1v1h-1zM19 3h4v1h-4zM18 4h1v1h-1zM26 4h1v1h-1zM0 5h2v1h-2zM8 5h1v1h-1zM16 5h1v1h-1zM18 5h2v1h-2zM21 5h2v1h-2zM0 6h2v1h-2zM3 6h1v1h-1zM11 6h1v1h-1zM16 6h1v1h-1zM19 6h2v1h-2zM23 6h1v1h-1zM2 7h2v1h-2zM14 7h2v1h-2zM18 7h1v1h-1zM20 7h1v1h-1zM22 7h1v1h-1zM26 7h1v1h-1zM0 8h1v1h-1zM12 8h1v1h-1zM16 8h1v1h-1zM20 8h1v1h-1zM0 9h2v1h-2zM0 10h1v1h-1zM19 10h1v1h-1zM1 11h1v1h-1zM14 11h1v1h-1zM17 11h1v1h-1zM21 11h1v1h-1zM23 11h1v1h-1zM28 11h1v1h-1zM8 12h1v1h-1zM12 12h1v1h-1zM22 12h2v1h-2zM18 13h1v1h-1zM21 13h1v1h-1zM19 14h1v1h-1zM7 15h1v1h-1zM16 15h1v1h-1zM18 15h2v1h-2zM21 15h1v1h-1zM20 16h1v1h-1zM22 16h1v1h-1zM21 17h1v1h-1zM13 19h1v1h-1zM23 19h1v1h-1zM28 19h1v1h-1zM14 21h1v1h-1zM20 21h1v1h-1zM28 21h2v1h-2zM29 22h1v1h-1zM8 23h1v1h-1zM35 24h1v1h-1zM27 25h1v1h-1zM26 26h1v1h-1zM29 26h1v1h-1zM29 27h1v1h-1zM34 27h1v1h-1zM34 29h1v1h-1zM34 30h1v1h-1zM25 32h2v1h-2zM33 32h1v1h-1zM35 32h1v1h-1zM28 33h1v1h-1zM30 33h1v1h-1zM33 33h1v1h-1zM19 34h1v1h-1zM29 34h1v1h-1zM31 34h1v1h-1zM33 34h2v1h-2zM31 35h3v1h-3zM2 37h2v1h-2zM33 37h1v1h-1zM5 38h1v1h-1zM24 39h1v1h-1zM6 40h1v1h-1zM5 41h1v1h-1zM6 42h2v1h-2zM31 42h1v1h-1zM33 42h1v1h-1zM10 43h1v1h-1zM34 43h1v1h-1zM8 44h2v1h-2zM34 44h1v1h-1zM10 45h1v1h-1zM30 45h1v1h-1zM29 46h1v1h-1zM32 46h1v1h-1zM32 47h1v1h-1zM11 48h1v1h-1zM35 48h1v1h-1zM32 49h1v1h-1zM34 49h1v1h-1zM11 50h1v1h-1zM34 51h1v1h-1zM15 52h1v1h-1zM14 53h1v1h-1zM32 53h1v1h-1zM16 54h1v1h-1zM29 54h1v1h-1zM32 54h2v1h-2zM15 55h1v1h-1zM17 55h1v1h-1zM30 55h1v1h-1zM33 55h1v1h-1zM35 55h1v1h-1zM13 56h1v1h-1zM15 56h1v1h-1zM29 56h1v1h-1zM28 57h1v1h-1zM30 57h1v1h-1zM18 58h1v1h-1zM23 58h1v1h-1zM18 59h1v1h-1zM29 59h2v1h-2zM32 59h2v1h-2zM35 59h1v1h-1zM23 60h1v1h-1zM25 60h1v1h-1zM28 60h1v1h-1zM27 61h1v1h-1zM29 61h1v1h-1zM34 61h1v1h-1zM18 62h1v1h-1zM20 62h1v1h-1zM22 62h1v1h-1zM29 62h1v1h-1zM34 62h2v1h-2zM19 63h1v1h-1zM24 63h1v1h-1z"/>
<path fill="#2e0000" d="M2 0h1v1h-1zM18 0h1v1h-1zM1 1h1v1h-1zM15 1h1v1h-1zM0 2h2v1h-2zM18 2h1v1h-1zM1 3h2v1h-2zM15 3h1v1h-1zM18 3h1v1h-1zM2 4h1v1h-1zM2 5h1v1h-1zM10 5h2v1h-2zM13 6h1v1h-1zM0 7h1v1h-1zM1 8h1v1h-1zM14 8h1v1h-1zM20 10h1v1h-1zM15 11h1v1h-1zM18 11h1v1h-1zM20 13h1v1h-1zM10 15h1v1h-1zM7 16h1v1h-1zM20 20h2v1h-2zM23 20h1v1h-1zM32 27h1v1h-1zM35 29h1v1h-1zM33 31h1v1h-1zM32 32h1v1h-1zM23 34h1v1h-1zM21 35h1v1h-1zM35 36h1v1h-1zM1 38h1v1h-1zM32 38h1v1h-1zM1 39h1v1h-1zM34 39h1v1h-1zM3 40h1v1h-1zM35 40h1v1h-1zM3 41h1v1h-1zM7 41h1v1h-1zM34 42h2v1h-2zM8 43h1v1h-1zM31 43h1v1h-1zM5 44h1v1h-1zM30 44h1v1h-1zM0 45h1v1h-1zM8 45h1v1h-1zM33 45h1v1h-1zM8 46h1v1h-1zM35 46h1v1h-1zM31 47h1v1h-1zM34 47h1v1h-1zM31 48h2v1h-2zM31 49h1v1h-1zM1 50h1v1h-1zM10 50h1v1h-1zM35 51h1v1h-1zM12 52h2v1h-2zM33 52h1v1h-1zM33 53h1v1h-1zM35 53h1v1h-1zM13 54h3v1h-3zM14 55h1v1h-1zM15 57h1v1h-1zM17 57h1v1h-1zM16 58h1v1h-1zM33 58h1v1h-1zM31 59h1v1h-1zM17 60h1v1h-1zM15 61h1v1h-1zM17 61h1v1h-1zM17 62h1v1h-1zM19 62h1v1h-1zM21 62h1v1h-1zM17 63h2v1h-2z"/>
<path fill="#461700" d="M3 0h1v1h-1zM13 0h1v1h-1zM17 0h1v1h-1zM20 0h3v1h-3zM31 0h1v1h-1zM4 1h1v1h-1zM25 1h1v1h-1zM30 1h2v1h-2zM3 2h2v1h-2zM10 2h1v1h-1zM15 2h2v1h-2zM19 2h1v1h-1zM24 2h1v1h-1zM26 2h2v1h-2zM30 2h1v1h-1zM32 2h1v1h-1zM3 3h1v1h-1zM5 3h1v1h-1zM8 3h1v1h-1zM12 3h1v1h-1zM16 3h1v1h-1zM26 3h2v1h-2zM29 3h2v1h-2zM33 3h1v1h-1zM3 4h1v1h-1zM5 4h3v1h-3zM15 4h1v1h-1zM17 4h1v1h-1zM21 4h2v1h-2zM25 4h1v1h-1zM29 4h1v1h-1zM31 4h1v1h-1zM33 4h1v1h-1zM4 5h1v1h-1zM6 5h2v1h-2zM12 5h1v1h-1zM15 5h1v1h-1zM20 5h1v1h-1zM27 5h1v1h-1zM2 6h1v1h-1zM9 6h1v1h-1zM17 6h2v1h-2zM21 6h2v1h-2zM25 6h1v1h-1zM16 7h1v1h-1zM19 7h1v1h-1zM21 7h1v1h-1zM23 7h1v1h-1zM25 7h1v1h-1zM27 7h1v1h-1zM10 8h1v1h-1zM15 8h1v1h-1zM19 8h1v1h-1zM23 8h1v1h-1zM25 8h1v1h-1zM2 9h2v1h-2zM6 9h1v1h-1zM9 9h1v1h-1zM11 9h2v1h-2zM17 9h1v1h-1zM20 9h2v1h-2zM23 9h1v1h-1zM26 9h1v1h-1zM1 10h6v1h-6zM8 10h1v1h-1zM10 10h1v1h-1zM23 10h3v1h-3zM27 10h1v1h-1zM35 10h1v1h-1zM2 11h3v1h-3zM7 11h1v1h-1zM9 11h1v1h-1zM12 11h1v1h-1zM16 11h1v1h-1zM19 11h1v1h-1zM22 11h1v1h-1zM16 12h1v1h-1zM19 12h1v1h-1zM21 12h1v1h-1zM24 12h1v1h-1zM34 12h1v1h-1zM6 13h1v1h-1zM8 13h1v1h-1zM13 13h1v1h-1zM19 13h1v1h-1zM22 13h3v1h-3zM6 14h1v1h-1zM8 14h1v1h-1zM12 14h1v1h-1zM18 14h1v1h-1zM21 14h2v1h-2zM13 15h1v1h-1zM23 15h2v1h-2zM8 16h1v1h-1zM19 16h1v1h-1zM21 16h1v1h-1zM23 16h1v1h-1zM10 17h1v1h-1zM23 17h2v1h-2zM9 18h2v1h-2zM15 18h1v1h-1zM4 19h1v1h-1zM11 19h2v1h-2zM14 19h2v1h-2zM20 19h1v1h-1zM22 19h1v1h-1zM29 19h2v1h-2zM0 20h2v1h-2zM5 20h1v1h-1zM14 20h3v1h-3zM18 20h1v1h-1zM22 20h1v1h-1zM26 20h3v1h-3zM30 20h1v1h-1zM16 21h1v1h-1zM24 21h1v1h-1zM26 21h1v1h-1zM3 22h1v1h-1zM12 22h1v1h-1zM17 22h2v1h-2zM26 22h1v1h-1zM34 22h2v1h-2zM11 23h1v1h-1zM26 23h2v1h-2zM7 24h3v1h-3zM18 24h1v1h-1zM29 24h1v1h-1zM34 24h1v1h-1zM14 25h1v1h-1zM26 25h1v1h-1zM28 25h2v1h-2zM33 25h1v1h-1zM35 25h1v1h-1zM31 26h3v1h-3zM31 27h1v1h-1zM13 28h1v1h-1zM11 29h1v1h-1zM24 29h1v1h-1zM28 29h1v1h-1zM12 30h1v1h-1zM27 30h1v1h-1zM33 30h1v1h-1zM35 30h1v1h-1zM17 31h1v1h-1zM22 31h1v1h-1zM24 31h1v1h-1zM28 31h1v1h-1zM32 31h1v1h-1zM35 31h1v1h-1zM17 32h2v1h-2zM21 32h1v1h-1zM27 32h1v1h-1zM31 32h1v1h-1zM34 32h1v1h-1zM14 33h1v1h-1zM20 33h1v1h-1zM24 33h1v1h-1zM26 33h1v1h-1zM29 33h1v1h-1zM31 33h1v1h-1zM12 34h1v1h-1zM21 34h1v1h-1zM35 34h1v1h-1zM20 35h1v1h-1zM22 35h1v1h-1zM25 35h1v1h-1zM30 35h1v1h-1zM22 36h1v1h-1zM26 36h1v1h-1zM29 36h1v1h-1zM31 36h2v1h-2zM18 37h1v1h-1zM23 37h1v1h-1zM26 37h1v1h-1zM28 37h1v1h-1zM34 37h1v1h-1zM24 38h3v1h-3zM33 38h1v1h-1zM25 39h1v1h-1zM28 39h1v1h-1zM4 40h1v1h-1zM7 40h1v1h-1zM26 40h1v1h-1zM30 40h1v1h-1zM32 40h1v1h-1zM8 41h1v1h-1zM21 41h1v1h-1zM25 41h1v1h-1zM31 41h1v1h-1zM33 41h1v1h-1zM8 42h1v1h-1zM26 43h1v1h-1zM32 43h1v1h-1zM23 44h1v1h-1zM25 44h1v1h-1zM28 44h1v1h-1zM24 45h3v1h-3zM28 45h2v1h-2zM31 45h1v1h-1zM11 46h1v1h-1zM27 46h2v1h-2zM30 46h2v1h-2zM11 47h1v1h-1zM30 47h1v1h-1zM28 48h1v1h-1zM30 48h1v1h-1zM10 49h1v1h-1zM31 50h1v1h-1zM14 51h1v1h-1zM14 52h1v1h-1zM17 52h1v1h-1zM34 52h2v1h-2zM15 53h1v1h-1zM18 53h1v1h-1zM34 53h1v1h-1zM27 54h2v1h-2zM30 54h1v1h-1zM35 54h1v1h-1zM16 55h1v1h-1zM20 55h1v1h-1zM28 55h2v1h-2zM18 56h2v1h-2zM21 56h1v1h-1zM28 56h1v1h-1zM30 56h1v1h-1zM33 56h1v1h-1zM33 57h1v1h-1zM27 58h2v1h-2zM30 58h3v1h-3zM34 58h2v1h-2zM28 59h1v1h-1zM22 60h1v1h-1zM19 61h1v1h-1zM21 61h2v1h-2zM24 61h1v1h-1zM26 61h1v1h-1zM28 61h1v1h-1zM33 61h1v1h-1zM25 62h1v1h-1zM27 62h1v1h-1zM22 63h2v1h-2zM26 63h2v1h-2z"/>
<path fill="#5d1700" d="M4 0h1v1h-1zM14 0h1v1h-1zM23 0h1v1h-1zM26 0h1v1h-1zM33 0h1v1h-1zM35 0h1v1h-1zM17 1h1v1h-1zM19 1h3v1h-3zM32 1h1v1h-1zM35 1h1v1h-1zM7 2h1v1h-1zM29 2h1v1h-1zM31 2h1v1h-1zM34 2h1v1h-1zM6 3h2v1h-2zM9 3h1v1h-1zM23 3h3v1h-3zM28 3h1v1h-1zM31 3h2v1h-2zM34 3h2v1h-2zM10 4h1v1h-1zM28 4h1v1h-1zM34 4h1v1h-1zM17 5h1v1h-1zM25 5h1v1h-1zM14 6h1v1h-1zM26 6h1v1h-1zM7 7h2v1h-2zM24 7h1v1h-1zM5 8h2v1h-2zM8 8h1v1h-1zM11 8h1v1h-1zM21 8h1v1h-1zM24 8h1v1h-1zM26 8h1v1h-1zM29 8h1v1h-1zM8 9h1v1h-1zM25 9h1v1h-1zM27 9h1v1h-1zM9 10h1v1h-1zM11 10h1v1h-1zM16 10h2v1h-2zM22 10h1v1h-1zM6 11h1v1h-1zM10 11h1v1h-1zM20 11h1v1h-1zM2 12h2v1h-2zM5 12h1v1h-1zM9 12h1v1h-1zM2 13h1v1h-1zM12 13h1v1h-1zM14 13h2v1h-2zM11 14h1v1h-1zM13 14h3v1h-3zM26 14h1v1h-1zM14 15h1v1h-1zM26 15h1v1h-1zM29 15h1v1h-1zM12 16h1v1h-1zM16 17h1v1h-1zM27 17h1v1h-1zM5 18h3v1h-3zM11 18h1v1h-1zM13 18h2v1h-2zM17 18h1v1h-1zM25 18h1v1h-1zM26 19h1v1h-1zM3 20h1v1h-1zM12 20h2v1h-2zM2 21h1v1h-1zM10 21h1v1h-1zM13 21h1v1h-1zM18 21h2v1h-2zM27 21h1v1h-1zM10 22h1v1h-1zM13 22h1v1h-1zM19 22h1v1h-1zM21 22h1v1h-1zM23 22h2v1h-2zM27 22h1v1h-1zM9 23h2v1h-2zM19 23h1v1h-1zM3 24h1v1h-1zM10 24h1v1h-1zM13 24h1v1h-1zM27 24h2v1h-2zM12 25h2v1h-2zM34 25h1v1h-1zM25 26h1v1h-1zM34 26h2v1h-2zM6 28h1v1h-1zM16 28h1v1h-1zM24 28h1v1h-1zM31 29h1v1h-1zM18 31h1v1h-1zM29 31h2v1h-2zM34 31h1v1h-1zM8 32h1v1h-1zM19 32h1v1h-1zM28 32h3v1h-3zM16 33h2v1h-2zM19 33h1v1h-1zM21 33h3v1h-3zM32 33h1v1h-1zM15 34h1v1h-1zM24 34h1v1h-1zM26 34h1v1h-1zM18 35h1v1h-1zM23 35h2v1h-2zM28 35h1v1h-1zM21 36h1v1h-1zM23 36h1v1h-1zM25 36h1v1h-1zM33 36h1v1h-1zM22 37h1v1h-1zM25 37h1v1h-1zM27 37h1v1h-1zM31 37h2v1h-2zM18 38h1v1h-1zM23 38h1v1h-1zM20 39h1v1h-1zM29 39h1v1h-1zM31 39h1v1h-1zM19 40h1v1h-1zM27 40h1v1h-1zM29 40h1v1h-1zM10 41h1v1h-1zM18 41h1v1h-1zM29 41h1v1h-1zM9 43h1v1h-1zM25 43h1v1h-1zM28 43h1v1h-1zM10 44h1v1h-1zM22 44h1v1h-1zM26 44h1v1h-1zM32 44h1v1h-1zM27 45h1v1h-1zM12 46h1v1h-1zM23 46h1v1h-1zM26 47h1v1h-1zM29 47h1v1h-1zM35 47h1v1h-1zM27 48h1v1h-1zM29 48h1v1h-1zM28 50h1v1h-1zM31 52h1v1h-1zM28 53h2v1h-2zM18 54h3v1h-3zM22 54h1v1h-1zM18 55h2v1h-2zM21 55h2v1h-2zM26 55h1v1h-1zM34 55h1v1h-1zM23 56h1v1h-1zM34 56h1v1h-1zM29 57h1v1h-1zM22 58h1v1h-1zM31 60h2v1h-2zM23 62h2v1h-2zM26 62h1v1h-1zM33 62h1v1h-1zM31 63h1v1h-1zM33 63h2v1h-2z"/>
<path fill="#5d2e00" d="M5 0h1v1h-1zM30 0h1v1h-1zM32 0h1v1h-1zM10 1h2v1h-2zM9 2h1v1h-1zM0 3h1v1h-1zM27 4h1v1h-1zM30 4h1v1h-1zM35 4h1v1h-1zM33 5h1v1h-1zM35 5h1v1h-1zM34 6h1v1h-1zM4 7h1v1h-1zM29 7h1v1h-1zM34 7h1v1h-1zM34 8h1v1h-1zM28 9h1v1h-1zM30 9h1v1h-1zM34 9h1v1h-1zM30 10h2v1h-2zM34 10h1v1h-1zM25 11h1v1h-1zM34 11h2v1h-2zM1 12h1v1h-1zM15 12h1v1h-1zM17 12h1v1h-1zM29 12h3v1h-3zM16 13h1v1h-1zM29 13h1v1h-1zM34 13h2v1h-2zM16 14h1v1h-1zM25 14h1v1h-1zM28 14h2v1h-2zM3 15h2v1h-2zM27 15h2v1h-2zM24 16h1v1h-1zM28 16h1v1h-1zM30 16h1v1h-1zM32 16h1v1h-1zM7 17h1v1h-1zM31 17h1v1h-1zM34 17h1v1h-1zM8 18h1v1h-1zM29 18h1v1h-1zM31 18h3v1h-3zM2 19h1v1h-1zM6 19h1v1h-1zM27 19h1v1h-1zM2 20h1v1h-1zM25 20h1v1h-1zM0 21h1v1h-1zM3 21h2v1h-2zM5 22h1v1h-1zM2 23h1v1h-1zM5 23h1v1h-1zM12 23h1v1h-1zM17 23h1v1h-1zM22 23h2v1h-2zM29 23h1v1h-1zM33 23h1v1h-1zM35 23h1v1h-1zM4 24h1v1h-1zM21 24h1v1h-1zM26 24h1v1h-1zM3 25h1v1h-1zM5 25h2v1h-2zM8 25h2v1h-2zM11 25h1v1h-1zM17 25h1v1h-1zM20 25h1v1h-1zM22 25h1v1h-1zM1 26h1v1h-1zM4 26h3v1h-3zM8 26h1v1h-1zM11 26h2v1h-2zM24 26h1v1h-1zM27 26h1v1h-1zM5 27h1v1h-1zM7 27h1v1h-1zM10 27h1v1h-1zM14 27h1v1h-1zM25 27h1v1h-1zM30 27h1v1h-1zM5 28h1v1h-1zM21 28h1v1h-1zM28 28h1v1h-1zM5 29h1v1h-1zM17 29h1v1h-1zM20 29h1v1h-1zM25 29h1v1h-1zM6 30h1v1h-1zM11 30h1v1h-1zM13 30h1v1h-1zM18 30h1v1h-1zM26 30h1v1h-1zM29 30h1v1h-1zM31 30h1v1h-1zM6 31h2v1h-2zM12 31h1v1h-1zM6 32h2v1h-2zM12 32h1v1h-1zM15 32h2v1h-2zM24 32h1v1h-1zM18 33h1v1h-1zM8 34h1v1h-1zM10 34h1v1h-1zM13 34h1v1h-1zM16 34h1v1h-1zM18 34h1v1h-1zM27 34h2v1h-2zM32 34h1v1h-1zM8 35h3v1h-3zM13 35h3v1h-3zM17 35h1v1h-1zM26 35h1v1h-1zM5 36h1v1h-1zM8 36h1v1h-1zM10 36h1v1h-1zM12 36h1v1h-1zM18 36h1v1h-1zM9 37h1v1h-1zM11 37h1v1h-1zM15 37h3v1h-3zM19 37h1v1h-1zM24 37h1v1h-1zM16 38h2v1h-2zM19 38h3v1h-3zM15 39h1v1h-1zM18 39h2v1h-2zM8 40h1v1h-1zM17 40h2v1h-2zM20 40h2v1h-2zM19 41h2v1h-2zM22 41h3v1h-3zM9 42h2v1h-2zM16 42h1v1h-1zM19 42h1v1h-1zM22 42h1v1h-1zM25 42h4v1h-4zM22 43h2v1h-2zM27 43h1v1h-1zM13 44h3v1h-3zM19 44h1v1h-1zM11 45h2v1h-2zM20 45h2v1h-2zM25 47h1v1h-1zM19 50h1v1h-1zM25 50h2v1h-2zM18 51h4v1h-4zM26 51h1v1h-1zM26 52h1v1h-1zM20 53h2v1h-2zM25 53h1v1h-1zM27 53h1v1h-1zM25 56h1v1h-1zM35 56h1v1h-1zM35 57h1v1h-1zM21 58h1v1h-1zM22 59h2v1h-2zM25 61h1v1h-1zM31 62h1v1h-1z"/>
<path fill="#464600" d="M6 0h1v1h-1zM9 1h1v1h-1zM29 6h4v1h-4zM31 8h1v1h-1zM33 13h1v1h-1zM2 15h1v1h-1zM6 15h1v1h-1zM9 16h1v1h-1zM2 17h1v1h-1zM8 19h1v1h-1zM10 19h1v1h-1zM32 19h2v1h-2zM9 20h1v1h-1zM1 21h1v1h-1zM30 21h4v1h-4zM6 22h3v1h-3zM30 22h1v1h-1zM24 23h1v1h-1zM30 23h1v1h-1zM0 24h1v1h-1zM25 24h1v1h-1zM33 24h1v1h-1zM4 25h1v1h-1zM0 27h1v1h-1zM17 27h1v1h-1zM26 27h1v1h-1zM1 28h1v1h-1zM18 29h1v1h-1zM1 30h1v1h-1zM0 31h2v1h-2zM3 31h1v1h-1zM0 32h2v1h-2zM6 33h1v1h-1zM13 33h1v1h-1zM6 34h1v1h-1zM5 35h1v1h-1zM6 37h1v1h-1zM29 37h1v1h-1zM7 38h1v1h-1zM15 40h2v1h-2zM27 41h1v1h-1zM11 43h1v1h-1zM13 46h1v1h-1zM12 48h1v1h-1zM18 49h1v1h-1zM14 50h1v1h-1zM25 54h1v1h-1zM20 57h1v1h-1zM21 59h1v1h-1zM30 63h1v1h-1z"/>
<path fill="#467400" d="M7 0h1v1h-1zM35 18h1v1h-1zM35 19h1v1h-1zM0 35h1v1h-1zM13 49h1v1h-1zM15 49h1v1h-1z"/>
<path fill="#5d8b00" d="M8 0h1v1h-1zM27 12h1v1h-1zM35 14h1v1h-1zM1 18h1v1h-1zM8 21h1v1h-1zM13 48h1v1h-1z"/>
<path fill="#5d5d00" d="M9 0h1v1h-1zM32 8h1v1h-1zM25 13h1v1h-1zM27 13h1v1h-1zM10 14h1v1h-1zM34 14h1v1h-1zM1 16h1v1h-1zM34 18h1v1h-1zM32 22h1v1h-1zM8 27h1v1h-1zM2 29h1v1h-1zM27 29h1v1h-1zM6 36h1v1h-1zM23 39h1v1h-1zM24 51h2v1h-2zM20 58h1v1h-1z"/>
<path fill="#5d4600" d="M10 0h1v1h-1zM29 5h1v1h-1zM30 8h1v1h-1zM27 11h1v1h-1zM0 12h1v1h-1zM35 12h1v1h-1zM33 14h1v1h-1zM5 15h1v1h-1zM33 15h1v1h-1zM2 16h1v1h-1zM33 16h3v1h-3zM30 17h1v1h-1zM35 17h1v1h-1zM2 18h1v1h-1zM0 19h1v1h-1zM6 20h1v1h-1zM33 20h1v1h-1zM23 24h1v1h-1zM30 24h1v1h-1zM19 25h1v1h-1zM31 25h1v1h-1zM2 26h1v1h-1zM9 26h1v1h-1zM16 26h2v1h-2zM17 28h1v1h-1zM25 28h1v1h-1zM30 28h1v1h-1zM0 29h1v1h-1zM3 29h1v1h-1zM12 29h1v1h-1zM22 29h2v1h-2zM2 30h1v1h-1zM4 30h1v1h-1zM2 31h1v1h-1zM2 32h1v1h-1zM0 33h1v1h-1zM2 33h2v1h-2zM5 33h1v1h-1zM7 33h1v1h-1zM4 34h2v1h-2zM7 34h1v1h-1zM4 35h1v1h-1zM6 35h1v1h-1zM7 36h1v1h-1zM9 36h1v1h-1zM13 36h1v1h-1zM7 37h2v1h-2zM11 38h1v1h-1zM22 39h1v1h-1zM22 40h2v1h-2zM14 45h1v1h-1zM12 47h1v1h-1zM22 47h1v1h-1zM17 48h2v1h-2zM23 48h2v1h-2zM21 49h1v1h-1zM25 49h1v1h-1zM17 50h1v1h-1zM22 50h1v1h-1zM16 51h2v1h-2zM25 52h1v1h-1zM26 57h1v1h-1z"/>
<path fill="#462e00" d="M15 0h1v1h-1zM27 0h1v1h-1zM29 0h1v1h-1zM26 1h1v1h-1zM25 2h1v1h-1zM1 4h1v1h-1zM20 4h1v1h-1zM32 4h1v1h-1zM3 5h1v1h-1zM30 5h3v1h-3zM33 6h1v1h-1zM17 7h1v1h-1zM30 7h1v1h-1zM35 7h1v1h-1zM18 8h1v1h-1zM33 8h1v1h-1zM4 9h2v1h-2zM13 9h1v1h-1zM16 9h1v1h-1zM29 9h1v1h-1zM13 10h1v1h-1zM18 10h1v1h-1zM21 10h1v1h-1zM26 10h1v1h-1zM28 10h2v1h-2zM29 11h1v1h-1zM31 11h1v1h-1zM10 12h1v1h-1zM18 12h1v1h-1zM28 12h1v1h-1zM32 12h1v1h-1zM7 13h1v1h-1zM9 13h1v1h-1zM28 13h1v1h-1zM9 14h1v1h-1zM23 14h2v1h-2zM25 15h1v1h-1zM3 16h1v1h-1zM5 16h2v1h-2zM10 16h1v1h-1zM3 17h2v1h-2zM6 17h1v1h-1zM8 17h2v1h-2zM28 17h2v1h-2zM32 17h2v1h-2zM3 18h2v1h-2zM23 18h1v1h-1zM26 18h2v1h-2zM3 19h1v1h-1zM9 19h1v1h-1zM31 19h1v1h-1zM34 19h1v1h-1zM11 20h1v1h-1zM34 20h1v1h-1zM5 21h1v1h-1zM9 21h1v1h-1zM11 21h1v1h-1zM17 21h1v1h-1zM23 21h1v1h-1zM25 21h1v1h-1zM34 21h2v1h-2zM0 22h1v1h-1zM4 22h1v1h-1zM9 22h1v1h-1zM22 22h1v1h-1zM28 22h1v1h-1zM31 22h1v1h-1zM33 22h1v1h-1zM1 23h1v1h-1zM3 23h2v1h-2zM7 23h1v1h-1zM25 23h1v1h-1zM28 23h1v1h-1zM1 24h2v1h-2zM5 24h2v1h-2zM11 24h1v1h-1zM0 25h3v1h-3zM7 25h1v1h-1zM10 25h1v1h-1zM25 25h1v1h-1zM30 25h1v1h-1zM32 25h1v1h-1zM7 26h1v1h-1zM13 26h2v1h-2zM28 26h1v1h-1zM11 27h3v1h-3zM16 27h1v1h-1zM7 28h1v1h-1zM11 28h2v1h-2zM22 28h2v1h-2zM21 29h1v1h-1zM29 29h1v1h-1zM0 30h1v1h-1zM17 30h1v1h-1zM28 30h1v1h-1zM16 31h1v1h-1zM23 31h1v1h-1zM26 31h2v1h-2zM31 31h1v1h-1zM13 32h2v1h-2zM23 32h1v1h-1zM11 33h1v1h-1zM15 33h1v1h-1zM14 34h1v1h-1zM17 34h1v1h-1zM3 35h1v1h-1zM7 35h1v1h-1zM11 35h2v1h-2zM16 35h1v1h-1zM19 35h1v1h-1zM29 35h1v1h-1zM0 36h1v1h-1zM4 36h1v1h-1zM16 36h1v1h-1zM19 36h2v1h-2zM24 36h1v1h-1zM28 36h1v1h-1zM10 37h1v1h-1zM22 38h1v1h-1zM8 39h1v1h-1zM24 40h1v1h-1zM31 40h1v1h-1zM9 41h1v1h-1zM26 41h1v1h-1zM28 41h1v1h-1zM32 41h1v1h-1zM23 42h1v1h-1zM29 42h1v1h-1zM21 43h1v1h-1zM24 43h1v1h-1zM13 45h1v1h-1zM23 45h1v1h-1zM14 46h1v1h-1zM24 46h1v1h-1zM26 46h1v1h-1zM24 47h1v1h-1zM27 47h2v1h-2zM15 51h1v1h-1zM16 52h1v1h-1zM18 52h1v1h-1zM17 53h1v1h-1zM22 53h1v1h-1zM26 53h1v1h-1zM17 54h1v1h-1zM23 54h1v1h-1zM26 54h1v1h-1zM26 56h1v1h-1zM22 57h1v1h-1zM25 57h1v1h-1zM27 57h1v1h-1zM25 58h2v1h-2zM27 60h1v1h-1zM34 60h1v1h-1zM20 61h1v1h-1zM23 61h1v1h-1zM30 62h1v1h-1zM20 63h1v1h-1z"/>
<path fill="#8b0017" d="M24 0h1v1h-1zM13 17h1v1h-1zM19 19h1v1h-1zM29 51h1v1h-1z"/>
<path fill="#8b1717" d="M25 0h1v1h-1zM24 1h1v1h-1zM4 6h1v1h-1zM13 16h1v1h-1zM15 17h1v1h-1zM18 18h1v1h-1zM14 24h1v1h-1zM20 27h1v1h-1zM14 28h1v1h-1zM21 31h1v1h-1zM29 38h1v1h-1zM28 40h1v1h-1zM13 41h1v1h-1zM27 50h1v1h-1zM30 51h1v1h-1zM24 58h1v1h-1z"/>
<path fill="#172e00" d="M28 0h1v1h-1zM4 39h1v1h-1z"/>
<path fill="#742e00" d="M34 0h1v1h-1zM34 1h1v1h-1zM33 2h1v1h-1zM34 5h1v1h-1zM5 6h1v1h-1zM28 7h1v1h-1zM33 9h1v1h-1zM33 10h1v1h-1zM32 11h1v1h-1zM33 12h1v1h-1zM32 13h1v1h-1zM2 14h4v1h-4zM27 14h1v1h-1zM25 16h1v1h-1zM29 16h1v1h-1zM31 16h1v1h-1zM26 17h1v1h-1zM28 18h1v1h-1zM30 18h1v1h-1zM4 20h1v1h-1zM15 21h1v1h-1zM16 22h1v1h-1zM18 23h1v1h-1zM21 23h1v1h-1zM17 24h1v1h-1zM19 24h1v1h-1zM18 25h1v1h-1zM21 25h1v1h-1zM10 26h1v1h-1zM15 26h1v1h-1zM19 26h1v1h-1zM1 27h1v1h-1zM3 27h1v1h-1zM6 27h1v1h-1zM15 27h1v1h-1zM0 28h1v1h-1zM3 28h2v1h-2zM10 28h1v1h-1zM6 29h1v1h-1zM8 29h1v1h-1zM13 29h1v1h-1zM16 29h1v1h-1zM30 29h1v1h-1zM5 30h1v1h-1zM8 30h2v1h-2zM19 30h3v1h-3zM11 31h1v1h-1zM13 31h1v1h-1zM20 31h1v1h-1zM9 32h2v1h-2zM22 32h1v1h-1zM9 33h1v1h-1zM9 34h1v1h-1zM27 35h1v1h-1zM11 36h1v1h-1zM14 36h1v1h-1zM17 36h1v1h-1zM14 37h1v1h-1zM30 37h1v1h-1zM9 38h2v1h-2zM16 39h2v1h-2zM9 40h1v1h-1zM11 40h1v1h-1zM13 40h1v1h-1zM16 41h2v1h-2zM18 42h1v1h-1zM20 42h1v1h-1zM24 42h1v1h-1zM12 43h2v1h-2zM16 43h1v1h-1zM18 43h1v1h-1zM20 43h1v1h-1zM12 44h1v1h-1zM21 44h1v1h-1zM24 44h1v1h-1zM19 45h1v1h-1zM22 45h1v1h-1zM20 46h3v1h-3zM23 47h1v1h-1zM20 48h1v1h-1zM22 48h1v1h-1zM25 48h2v1h-2zM19 49h2v1h-2zM24 49h1v1h-1zM26 49h2v1h-2zM20 50h1v1h-1zM19 52h5v1h-5zM19 53h1v1h-1zM23 53h1v1h-1zM24 55h1v1h-1zM20 56h1v1h-1zM21 57h1v1h-1zM23 57h1v1h-1z"/>
<path fill="#5d0000" d="M2 1h1v1h-1zM16 1h1v1h-1zM18 1h1v1h-1zM22 2h1v1h-1zM28 2h1v1h-1zM23 4h2v1h-2zM5 5h1v1h-1zM9 5h1v1h-1zM13 7h1v1h-1zM3 8h1v1h-1zM13 8h1v1h-1zM17 8h1v1h-1zM10 9h1v1h-1zM15 9h1v1h-1zM22 9h1v1h-1zM7 10h1v1h-1zM15 10h1v1h-1zM6 12h1v1h-1zM12 17h1v1h-1zM16 18h1v1h-1zM5 19h1v1h-1zM17 19h1v1h-1zM24 20h1v1h-1zM12 21h1v1h-1zM30 26h1v1h-1zM25 31h1v1h-1zM20 32h1v1h-1zM35 35h1v1h-1zM34 38h1v1h-1zM26 39h2v1h-2zM30 43h1v1h-1zM31 44h1v1h-1zM30 50h1v1h-1zM31 51h1v1h-1zM29 58h1v1h-1z"/>
<path fill="#8b1700" d="M5 1h1v1h-1zM6 6h1v1h-1zM14 22h1v1h-1zM12 24h1v1h-1zM20 24h1v1h-1zM21 47h1v1h-1z"/>
<path fill="#8b4617" d="M6 1h1v1h-1zM31 9h1v1h-1zM32 15h1v1h-1zM15 31h1v1h-1zM12 39h1v1h-1zM13 42h1v1h-1zM17 42h1v1h-1zM15 43h1v1h-1zM15 45h1v1h-1zM15 46h1v1h-1zM18 47h1v1h-1zM23 51h1v1h-1zM24 52h1v1h-1zM25 55h1v1h-1z"/>
<path fill="#745d00" d="M7 1h1v1h-1zM26 11h1v1h-1zM34 15h1v1h-1zM0 16h1v1h-1zM6 21h1v1h-1zM18 27h2v1h-2zM9 28h1v1h-1zM1 29h1v1h-1zM4 33h1v1h-1zM16 44h1v1h-1zM16 49h2v1h-2zM24 50h1v1h-1z"/>
<path fill="#465d00" d="M8 1h1v1h-1zM31 7h1v1h-1zM32 20h1v1h-1zM9 27h1v1h-1zM27 27h1v1h-1zM19 28h1v1h-1zM1 33h1v1h-1zM2 34h1v1h-1zM8 38h1v1h-1zM13 47h1v1h-1zM15 50h1v1h-1zM20 59h1v1h-1z"/>
<path fill="#2e2e00" d="M28 1h2v1h-2zM8 2h1v1h-1zM0 4h1v1h-1zM16 4h1v1h-1zM27 6h1v1h-1zM35 6h1v1h-1zM33 7h1v1h-1zM4 8h1v1h-1zM35 8h1v1h-1zM19 9h1v1h-1zM35 9h1v1h-1zM12 10h1v1h-1zM0 11h1v1h-1zM11 11h1v1h-1zM13 11h1v1h-1zM24 11h1v1h-1zM30 11h1v1h-1zM11 12h1v1h-1zM13 12h1v1h-1zM10 13h2v1h-2zM17 13h1v1h-1zM7 14h1v1h-1zM20 14h1v1h-1zM8 15h1v1h-1zM22 15h1v1h-1zM5 17h1v1h-1zM22 17h1v1h-1zM7 19h1v1h-1zM10 20h1v1h-1zM29 20h1v1h-1zM1 22h2v1h-2zM25 22h1v1h-1zM34 23h1v1h-1zM22 24h1v1h-1zM23 25h2v1h-2zM18 26h1v1h-1zM24 27h1v1h-1zM28 27h1v1h-1zM8 28h1v1h-1zM29 28h1v1h-1zM19 29h1v1h-1zM11 32h1v1h-1zM12 33h1v1h-1zM27 33h1v1h-1zM35 33h1v1h-1zM11 34h1v1h-1zM20 34h1v1h-1zM22 34h1v1h-1zM30 34h1v1h-1zM1 37h1v1h-1zM3 38h2v1h-2zM6 38h1v1h-1zM5 39h1v1h-1zM7 39h1v1h-1zM21 39h1v1h-1zM25 40h1v1h-1zM32 42h1v1h-1zM25 46h1v1h-1zM12 50h1v1h-1zM13 51h1v1h-1zM32 52h1v1h-1zM16 53h1v1h-1zM31 53h1v1h-1zM31 54h1v1h-1zM32 55h1v1h-1zM32 56h1v1h-1zM31 57h1v1h-1zM19 58h1v1h-1zM19 59h1v1h-1zM26 59h2v1h-2zM20 60h2v1h-2zM26 60h1v1h-1zM18 61h1v1h-1zM25 63h1v1h-1zM28 63h2v1h-2z"/>
<path fill="#741700" d="M33 1h1v1h-1zM5 2h1v1h-1zM15 6h1v1h-1zM6 7h1v1h-1zM9 7h1v1h-1zM7 8h1v1h-1zM9 8h1v1h-1zM27 8h1v1h-1zM4 12h1v1h-1zM3 13h2v1h-2zM12 15h1v1h-1zM15 15h1v1h-1zM16 16h1v1h-1zM19 17h1v1h-1zM25 17h1v1h-1zM20 18h2v1h-2zM18 19h1v1h-1zM24 19h2v1h-2zM35 20h1v1h-1zM20 22h1v1h-1zM14 23h1v1h-1zM16 23h1v1h-1zM31 28h1v1h-1zM7 29h1v1h-1zM7 30h1v1h-1zM16 30h1v1h-1zM24 30h1v1h-1zM30 30h1v1h-1zM14 31h1v1h-1zM8 33h1v1h-1zM10 33h1v1h-1zM27 36h1v1h-1zM31 38h1v1h-1zM30 39h1v1h-1zM19 43h1v1h-1zM27 44h1v1h-1zM29 49h1v1h-1zM29 50h1v1h-1zM27 52h2v1h-2zM30 52h1v1h-1zM30 53h1v1h-1zM21 54h1v1h-1zM23 55h1v1h-1zM22 56h1v1h-1zM24 56h1v1h-1zM27 56h1v1h-1zM24 59h2v1h-2zM24 60h1v1h-1zM31 61h1v1h-1zM32 62h1v1h-1z"/>
<path fill="#8b2e17" d="M6 2h1v1h-1zM32 9h1v1h-1zM32 14h1v1h-1zM30 15h1v1h-1zM26 16h1v1h-1zM14 17h1v1h-1zM13 23h1v1h-1zM15 23h1v1h-1zM16 24h1v1h-1zM20 26h1v1h-1zM23 26h1v1h-1zM21 27h1v1h-1zM15 28h1v1h-1zM23 30h1v1h-1zM15 36h1v1h-1zM20 37h2v1h-2zM12 38h1v1h-1zM14 38h1v1h-1zM9 39h1v1h-1zM11 39h1v1h-1zM14 39h1v1h-1zM14 40h1v1h-1zM11 41h1v1h-1zM15 41h1v1h-1zM11 42h1v1h-1zM17 43h1v1h-1zM17 44h1v1h-1zM20 44h1v1h-1zM18 45h1v1h-1zM19 47h2v1h-2zM19 48h1v1h-1zM21 48h1v1h-1zM28 51h1v1h-1z"/>
<path fill="#170000" d="M11 2h1v1h-1zM8 4h1v1h-1zM19 4h1v1h-1zM1 7h1v1h-1zM2 8h1v1h-1zM14 10h1v1h-1zM14 12h1v1h-1zM17 16h1v1h-1zM32 29h2v1h-2zM0 38h1v1h-1zM0 39h1v1h-1zM35 39h1v1h-1zM1 40h2v1h-2zM1 41h1v1h-1zM4 41h1v1h-1zM35 41h1v1h-1zM2 42h4v1h-4zM0 43h1v1h-1zM5 43h2v1h-2zM33 43h1v1h-1zM35 43h1v1h-1zM0 44h1v1h-1zM1 45h1v1h-1zM6 45h2v1h-2zM34 45h2v1h-2zM7 46h1v1h-1zM34 46h1v1h-1zM1 47h2v1h-2zM7 47h3v1h-3zM1 48h1v1h-1zM6 48h5v1h-5zM33 48h1v1h-1zM7 49h1v1h-1zM9 49h1v1h-1zM35 49h1v1h-1zM2 50h1v1h-1zM4 50h1v1h-1zM6 50h2v1h-2zM32 50h3v1h-3zM9 51h1v1h-1zM11 51h1v1h-1zM11 52h1v1h-1zM2 53h1v1h-1zM10 53h4v1h-4zM12 54h1v1h-1zM11 55h3v1h-3zM2 56h1v1h-1zM11 56h1v1h-1zM14 56h1v1h-1zM16 56h1v1h-1zM6 57h1v1h-1zM13 57h2v1h-2zM19 57h1v1h-1zM6 58h1v1h-1zM13 58h1v1h-1zM15 58h1v1h-1zM17 58h1v1h-1zM14 59h2v1h-2zM17 59h1v1h-1zM34 59h1v1h-1zM4 60h1v1h-1zM14 60h2v1h-2zM18 60h1v1h-1zM16 61h1v1h-1zM16 62h1v1h-1zM13 63h3v1h-3z"/>
<path fill="#740000" d="M35 2h1v1h-1zM12 4h1v1h-1zM24 9h1v1h-1zM5 11h1v1h-1zM5 13h1v1h-1zM18 17h1v1h-1zM35 27h1v1h-1zM2 39h1v1h-1zM28 49h1v1h-1zM32 61h1v1h-1z"/>
<path fill="#171700" d="M4 3h1v1h-1zM17 3h1v1h-1zM26 5h1v1h-1zM18 9h1v1h-1zM20 12h1v1h-1zM20 15h1v1h-1zM22 18h1v1h-1zM3 36h1v1h-1zM0 37h1v1h-1zM4 37h1v1h-1zM6 39h1v1h-1zM5 40h1v1h-1zM6 41h1v1h-1zM34 41h1v1h-1zM4 43h1v1h-1zM7 43h1v1h-1zM33 47h1v1h-1zM34 48h1v1h-1zM11 49h1v1h-1zM33 49h1v1h-1zM10 51h1v1h-1zM12 51h1v1h-1zM34 54h1v1h-1zM32 57h1v1h-1zM30 60h1v1h-1zM33 60h1v1h-1zM35 60h1v1h-1zM30 61h1v1h-1zM35 61h1v1h-1zM28 62h1v1h-1zM21 63h1v1h-1z"/>
<path fill="#2e4600" d="M28 5h1v1h-1zM33 11h1v1h-1zM9 15h1v1h-1zM4 16h1v1h-1zM31 20h1v1h-1zM0 23h1v1h-1zM6 23h1v1h-1zM24 24h1v1h-1zM0 26h1v1h-1zM3 34h1v1h-1zM2 35h1v1h-1zM2 36h1v1h-1zM30 36h1v1h-1zM5 37h1v1h-1zM11 44h1v1h-1zM19 60h1v1h-1z"/>
<path fill="#2e5d00" d="M28 6h1v1h-1zM32 7h1v1h-1zM12 49h1v1h-1z"/>
<path fill="#b91717" d="M5 7h1v1h-1zM14 16h1v1h-1zM22 27h1v1h-1zM30 38h1v1h-1z"/>
<path fill="#a22e17" d="M28 8h1v1h-1zM32 10h1v1h-1zM31 13h1v1h-1zM31 15h1v1h-1zM15 24h1v1h-1zM21 26h1v1h-1zM14 30h2v1h-2zM10 31h1v1h-1zM5 32h1v1h-1zM10 40h1v1h-1zM12 40h1v1h-1zM12 42h1v1h-1zM15 42h1v1h-1zM14 43h1v1h-1zM24 53h1v1h-1z"/>
<path fill="#747400" d="M25 12h1v1h-1zM16 50h1v1h-1z"/>
<path fill="#a2e817" d="M26 12h1v1h-1z"/>
<path fill="#e8b917" d="M0 13h1v1h-1z"/>
<path fill="#b97417" d="M1 13h1v1h-1z"/>
<path fill="#8ba217" d="M26 13h1v1h-1z"/>
<path fill="#8b2e00" d="M30 13h1v1h-1zM24 18h1v1h-1zM15 22h1v1h-1zM10 30h1v1h-1zM9 31h1v1h-1zM19 31h1v1h-1zM13 39h1v1h-1zM14 41h1v1h-1zM22 49h1v1h-1zM24 57h1v1h-1z"/>
<path fill="#ffa217" d="M0 14h1v1h-1z"/>
<path fill="#ff5d17" d="M1 14h1v1h-1z"/>
<path fill="#a24617" d="M30 14h1v1h-1zM1 15h1v1h-1zM4 31h1v1h-1zM10 39h1v1h-1zM18 46h1v1h-1z"/>
<path fill="#b92e17" d="M31 14h1v1h-1zM22 26h1v1h-1zM14 29h1v1h-1zM14 42h1v1h-1zM17 45h1v1h-1z"/>
<path fill="#b94617" d="M0 15h1v1h-1zM13 38h1v1h-1zM16 45h1v1h-1z"/>
<path fill="#46b900" d="M35 15h1v1h-1z"/>
<path fill="#a21717" d="M15 16h1v1h-1zM19 18h1v1h-1zM20 23h1v1h-1zM23 27h1v1h-1zM29 52h1v1h-1z"/>
<path fill="#744600" d="M27 16h1v1h-1zM15 25h2v1h-2zM3 26h1v1h-1zM2 27h1v1h-1zM4 27h1v1h-1zM2 28h1v1h-1zM20 28h1v1h-1zM9 29h2v1h-2zM3 30h1v1h-1zM22 30h1v1h-1zM5 31h1v1h-1zM8 31h1v1h-1zM3 32h1v1h-1zM15 38h1v1h-1zM21 42h1v1h-1zM18 44h1v1h-1zM19 46h1v1h-1zM17 47h1v1h-1zM23 49h1v1h-1zM18 50h1v1h-1zM21 50h1v1h-1zM23 50h1v1h-1zM22 51h1v1h-1zM27 51h1v1h-1zM24 54h1v1h-1z"/>
<path fill="#468b00" d="M0 17h2v1h-2zM14 48h2v1h-2z"/>
<path fill="#5d7400" d="M0 18h1v1h-1zM8 20h1v1h-1zM18 28h1v1h-1zM26 29h1v1h-1zM14 47h2v1h-2zM16 48h1v1h-1z"/>
<path fill="#174600" d="M1 19h1v1h-1zM13 50h1v1h-1z"/>
<path fill="#a28b17" d="M7 20h1v1h-1z"/>
<path fill="#8bb917" d="M7 21h1v1h-1z"/>
<path fill="#a27417" d="M31 23h2v1h-2z"/>
<path fill="#8b7417" d="M31 24h2v1h-2z"/>
<path fill="#748b00" d="M26 28h1v1h-1z"/>
<path fill="#2e7400" d="M27 28h1v1h-1zM0 34h1v1h-1z"/>
<path fill="#8b4600" d="M4 29h1v1h-1zM12 37h1v1h-1z"/>
<path fill="#e84617" d="M15 29h1v1h-1z"/>
<path fill="#d14617" d="M4 32h1v1h-1zM17 46h1v1h-1z"/>
<path fill="#46a200" d="M1 34h1v1h-1zM1 35h1v1h-1z"/>
<path fill="#175d00" d="M1 36h1v1h-1z"/>
<path fill="#a25d17" d="M13 37h1v1h-1zM16 46h1v1h-1z"/>
<path fill="#000000" d="M0 40h1v1h-1zM0 41h1v1h-1zM2 41h1v1h-1zM0 42h2v1h-2zM1 43h3v1h-3zM1 44h4v1h-4zM6 44h2v1h-2zM35 44h1v1h-1zM2 45h4v1h-4zM0 46h7v1h-7zM0 47h1v1h-1zM3 47h3v1h-3zM0 48h1v1h-1zM2 48h4v1h-4zM0 49h7v1h-7zM8 49h1v1h-1zM0 50h1v1h-1zM3 50h1v1h-1zM5 50h1v1h-1zM8 50h2v1h-2zM0 51h9v1h-9zM0 52h11v1h-11zM0 53h2v1h-2zM3 53h7v1h-7zM0 54h12v1h-12zM0 55h11v1h-11zM0 56h2v1h-2zM3 56h8v1h-8zM12 56h1v1h-1zM0 57h6v1h-6zM7 57h6v1h-6zM18 57h1v1h-1zM0 58h6v1h-6zM7 58h6v1h-6zM14 58h1v1h-1zM0 59h14v1h-14zM16 59h1v1h-1zM0 60h4v1h-4zM5 60h9v1h-9zM16 60h1v1h-1zM0 61h15v1h-15zM0 62h16v1h-16zM0 63h13v1h-13z"/>
<path fill="#d12e17" d="M12 41h1v1h-1z"/>
<path fill="#001700" d="M6 47h1v1h-1zM16 63h1v1h-1z"/>
<path fill="#8b5d17" d="M16 47h1v1h-1z"/>
<path fill="#2e8b00" d="M14 49h1v1h-1z"/>
</g>
<g transform="translate(792.2,12.8) scale(8.5370,8.5771)" shape-rendering="crispEdges">
<path fill="#212121" d="M0 0h1v1h-1zM5 0h2v1h-2zM1 1h1v1h-1zM5 1h1v1h-1zM7 1h2v1h-2zM4 2h4v1h-4zM1 3h6v1h-6zM8 3h1v1h-1zM0 4h1v1h-1zM2 4h1v1h-1zM5 4h2v1h-2zM0 5h2v1h-2zM3 5h4v1h-4zM9 5h1v1h-1zM2 6h3v1h-3zM6 6h2v1h-2zM0 7h1v1h-1zM3 7h1v1h-1zM5 7h2v1h-2zM0 8h1v1h-1zM5 8h2v1h-2zM0 9h1v1h-1zM3 9h3v1h-3zM7 9h1v1h-1zM2 10h2v1h-2zM6 10h1v1h-1zM3 11h5v1h-5zM3 12h1v1h-1zM3 13h2v1h-2zM2 14h1v1h-1zM4 14h1v1h-1zM11 14h1v1h-1zM0 15h1v1h-1zM2 15h1v1h-1zM4 15h1v1h-1zM3 17h1v1h-1zM2 18h2v1h-2zM2 19h1v1h-1zM0 20h1v1h-1zM2 21h1v1h-1zM0 22h1v1h-1zM4 23h1v1h-1zM0 24h4v1h-4zM1 25h2v1h-2zM4 25h1v1h-1zM0 26h4v1h-4zM0 27h3v1h-3zM0 28h2v1h-2zM3 28h1v1h-1zM1 29h1v1h-1zM3 29h1v1h-1zM1 30h3v1h-3zM3 31h1v1h-1zM0 32h1v1h-1zM2 32h1v1h-1zM0 33h2v1h-2zM0 36h1v1h-1zM0 37h2v1h-2zM1 38h1v1h-1zM1 39h1v1h-1zM0 40h3v1h-3zM25 40h1v1h-1zM1 41h1v1h-1zM15 41h1v1h-1zM2 42h1v1h-1zM25 42h1v1h-1zM0 43h1v1h-1zM2 43h1v1h-1zM3 44h2v1h-2zM23 44h1v1h-1zM25 44h2v1h-2zM1 45h3v1h-3zM13 45h1v1h-1zM25 45h1v1h-1zM0 46h1v1h-1zM3 46h1v1h-1zM24 46h2v1h-2zM0 47h1v1h-1zM3 47h1v1h-1zM11 47h1v1h-1zM25 47h1v1h-1z"/>
<path fill="#191919" d="M1 0h1v1h-1zM3 0h2v1h-2zM0 1h1v1h-1zM2 1h3v1h-3zM0 2h4v1h-4zM0 3h1v1h-1zM1 4h1v1h-1zM3 4h2v1h-2zM2 5h1v1h-1zM0 6h2v1h-2zM5 6h1v1h-1zM1 7h2v1h-2zM4 7h1v1h-1zM1 8h4v1h-4zM1 9h2v1h-2zM0 10h2v1h-2zM1 11h2v1h-2zM0 12h1v1h-1zM2 12h1v1h-1zM0 13h3v1h-3zM1 14h1v1h-1zM1 15h1v1h-1zM0 16h3v1h-3zM0 17h3v1h-3zM0 18h2v1h-2zM0 19h2v1h-2zM1 20h1v1h-1zM0 21h2v1h-2zM1 22h2v1h-2zM0 23h3v1h-3zM0 29h1v1h-1zM2 29h1v1h-1zM0 31h3v1h-3zM1 32h1v1h-1zM0 38h1v1h-1zM0 39h1v1h-1zM0 41h1v1h-1zM0 42h2v1h-2zM1 43h1v1h-1zM0 44h3v1h-3zM26 45h1v1h-1zM1 46h2v1h-2zM26 46h1v1h-1zM1 47h2v1h-2z"/>
<path fill="#101010" d="M2 0h1v1h-1zM0 11h1v1h-1zM1 12h1v1h-1zM0 14h1v1h-1zM0 30h1v1h-1zM0 45h1v1h-1z"/>
<path fill="#292929" d="M7 0h3v1h-3zM11 0h2v1h-2zM6 1h1v1h-1zM9 1h3v1h-3zM8 2h4v1h-4zM7 3h1v1h-1zM9 3h3v1h-3zM7 4h5v1h-5zM7 5h2v1h-2zM10 5h3v1h-3zM8 6h1v1h-1zM7 7h2v1h-2zM10 7h1v1h-1zM7 8h1v1h-1zM9 8h2v1h-2zM6 9h1v1h-1zM9 9h1v1h-1zM4 10h2v1h-2zM7 10h4v1h-4zM8 11h1v1h-1zM11 11h1v1h-1zM4 12h5v1h-5zM5 13h1v1h-1zM7 13h3v1h-3zM3 14h1v1h-1zM5 14h3v1h-3zM10 14h1v1h-1zM3 15h1v1h-1zM5 15h1v1h-1zM7 15h1v1h-1zM9 15h1v1h-1zM11 15h1v1h-1zM3 16h3v1h-3zM4 17h1v1h-1zM4 18h1v1h-1zM12 18h1v1h-1zM3 19h1v1h-1zM2 20h2v1h-2zM3 21h1v1h-1zM3 22h1v1h-1zM3 23h1v1h-1zM6 23h1v1h-1zM12 23h1v1h-1zM4 24h1v1h-1zM0 25h1v1h-1zM3 25h1v1h-1zM5 25h1v1h-1zM7 25h5v1h-5zM4 26h3v1h-3zM9 26h1v1h-1zM13 26h1v1h-1zM3 27h3v1h-3zM2 28h1v1h-1zM4 28h2v1h-2zM12 28h3v1h-3zM4 29h2v1h-2zM15 29h1v1h-1zM4 30h1v1h-1zM16 30h1v1h-1zM4 31h1v1h-1zM17 31h1v1h-1zM3 32h1v1h-1zM16 32h1v1h-1zM2 33h1v1h-1zM15 33h1v1h-1zM17 33h1v1h-1zM0 34h1v1h-1zM15 34h2v1h-2zM15 35h1v1h-1zM17 35h1v1h-1zM1 36h2v1h-2zM16 36h3v1h-3zM15 37h1v1h-1zM17 37h3v1h-3zM2 38h1v1h-1zM13 38h2v1h-2zM16 38h2v1h-2zM20 38h1v1h-1zM2 39h2v1h-2zM15 39h1v1h-1zM18 39h1v1h-1zM20 39h1v1h-1zM22 39h4v1h-4zM3 40h1v1h-1zM13 40h3v1h-3zM20 40h1v1h-1zM24 40h1v1h-1zM26 40h1v1h-1zM2 41h2v1h-2zM12 41h2v1h-2zM20 41h1v1h-1zM23 41h4v1h-4zM3 42h2v1h-2zM13 42h3v1h-3zM21 42h4v1h-4zM26 42h1v1h-1zM3 43h2v1h-2zM12 43h4v1h-4zM22 43h5v1h-5zM5 44h1v1h-1zM15 44h1v1h-1zM24 44h1v1h-1zM4 45h4v1h-4zM9 45h4v1h-4zM14 45h1v1h-1zM22 45h3v1h-3zM4 46h9v1h-9zM23 46h1v1h-1zM4 47h5v1h-5zM10 47h1v1h-1zM12 47h2v1h-2zM22 47h3v1h-3zM26 47h1v1h-1z"/>
<path fill="#313131" d="M10 0h1v1h-1zM12 1h1v1h-1zM12 2h1v1h-1zM12 3h1v1h-1zM12 4h2v1h-2zM13 5h1v1h-1zM9 6h4v1h-4zM9 7h1v1h-1zM11 7h1v1h-1zM8 8h1v1h-1zM8 9h1v1h-1zM10 9h1v1h-1zM11 10h1v1h-1zM9 11h2v1h-2zM12 11h1v1h-1zM9 12h4v1h-4zM6 13h1v1h-1zM10 13h4v1h-4zM8 14h2v1h-2zM6 15h1v1h-1zM8 15h1v1h-1zM10 15h1v1h-1zM12 15h1v1h-1zM6 16h2v1h-2zM11 16h3v1h-3zM5 17h2v1h-2zM11 17h3v1h-3zM11 18h1v1h-1zM13 18h2v1h-2zM4 19h1v1h-1zM11 19h1v1h-1zM4 20h1v1h-1zM10 20h4v1h-4zM15 20h1v1h-1zM4 21h2v1h-2zM11 21h4v1h-4zM4 22h7v1h-7zM12 22h2v1h-2zM5 23h1v1h-1zM7 23h5v1h-5zM13 23h3v1h-3zM5 24h4v1h-4zM10 24h6v1h-6zM6 25h1v1h-1zM12 25h3v1h-3zM7 26h2v1h-2zM10 26h3v1h-3zM14 26h2v1h-2zM6 27h4v1h-4zM11 27h5v1h-5zM6 28h2v1h-2zM15 28h1v1h-1zM6 29h1v1h-1zM12 29h3v1h-3zM16 29h3v1h-3zM5 30h1v1h-1zM14 30h2v1h-2zM17 30h1v1h-1zM13 31h4v1h-4zM18 31h1v1h-1zM4 32h1v1h-1zM14 32h2v1h-2zM17 32h1v1h-1zM26 32h1v1h-1zM3 33h2v1h-2zM13 33h2v1h-2zM16 33h1v1h-1zM18 33h1v1h-1zM26 33h1v1h-1zM13 34h2v1h-2zM18 34h1v1h-1zM0 35h2v1h-2zM14 35h1v1h-1zM16 35h1v1h-1zM18 35h1v1h-1zM25 35h1v1h-1zM13 36h3v1h-3zM19 36h2v1h-2zM25 36h2v1h-2zM12 37h1v1h-1zM14 37h1v1h-1zM16 37h1v1h-1zM20 37h2v1h-2zM24 37h3v1h-3zM3 38h2v1h-2zM15 38h1v1h-1zM18 38h2v1h-2zM21 38h4v1h-4zM26 38h1v1h-1zM4 39h1v1h-1zM12 39h1v1h-1zM14 39h1v1h-1zM16 39h2v1h-2zM19 39h1v1h-1zM21 39h1v1h-1zM26 39h1v1h-1zM4 40h1v1h-1zM12 40h1v1h-1zM16 40h4v1h-4zM21 40h3v1h-3zM4 41h2v1h-2zM14 41h1v1h-1zM16 41h4v1h-4zM21 41h2v1h-2zM5 42h2v1h-2zM12 42h1v1h-1zM16 42h2v1h-2zM19 42h2v1h-2zM5 43h2v1h-2zM16 43h1v1h-1zM21 43h1v1h-1zM6 44h3v1h-3zM10 44h5v1h-5zM16 44h2v1h-2zM22 44h1v1h-1zM8 45h1v1h-1zM15 45h2v1h-2zM13 46h2v1h-2zM17 46h1v1h-1zM21 46h2v1h-2zM9 47h1v1h-1zM14 47h4v1h-4zM19 47h1v1h-1zM21 47h1v1h-1z"/>
<path fill="#3a3a3a" d="M13 0h1v1h-1zM13 1h1v1h-1zM13 2h1v1h-1zM13 3h1v1h-1zM14 4h1v1h-1zM14 5h1v1h-1zM13 6h1v1h-1zM12 7h1v1h-1zM11 8h2v1h-2zM11 9h2v1h-2zM12 10h1v1h-1zM13 11h1v1h-1zM13 12h1v1h-1zM14 13h1v1h-1zM12 14h2v1h-2zM13 15h2v1h-2zM8 16h3v1h-3zM14 16h1v1h-1zM7 17h1v1h-1zM10 17h1v1h-1zM14 17h1v1h-1zM15 18h1v1h-1zM10 19h1v1h-1zM12 19h4v1h-4zM9 20h1v1h-1zM14 20h1v1h-1zM7 21h4v1h-4zM15 21h2v1h-2zM11 22h1v1h-1zM14 22h2v1h-2zM9 24h1v1h-1zM15 25h1v1h-1zM10 27h1v1h-1zM8 28h4v1h-4zM16 28h5v1h-5zM7 29h1v1h-1zM11 29h1v1h-1zM19 29h2v1h-2zM25 29h2v1h-2zM6 30h2v1h-2zM11 30h3v1h-3zM18 30h1v1h-1zM24 30h3v1h-3zM5 31h2v1h-2zM12 31h1v1h-1zM24 31h3v1h-3zM5 32h1v1h-1zM12 32h2v1h-2zM18 32h1v1h-1zM24 32h2v1h-2zM5 33h1v1h-1zM12 33h1v1h-1zM24 33h2v1h-2zM1 34h1v1h-1zM11 34h2v1h-2zM17 34h1v1h-1zM25 34h2v1h-2zM10 35h4v1h-4zM19 35h3v1h-3zM23 35h2v1h-2zM26 35h1v1h-1zM11 36h2v1h-2zM21 36h4v1h-4zM2 37h1v1h-1zM11 37h1v1h-1zM13 37h1v1h-1zM22 37h2v1h-2zM5 38h1v1h-1zM11 38h2v1h-2zM25 38h1v1h-1zM6 39h1v1h-1zM11 39h1v1h-1zM13 39h1v1h-1zM5 40h2v1h-2zM10 40h2v1h-2zM6 41h2v1h-2zM7 42h1v1h-1zM18 42h1v1h-1zM7 43h1v1h-1zM17 43h2v1h-2zM9 44h1v1h-1zM18 44h1v1h-1zM17 45h2v1h-2zM21 45h1v1h-1zM15 46h2v1h-2zM18 46h3v1h-3zM18 47h1v1h-1zM20 47h1v1h-1z"/>
<path fill="#424242" d="M14 0h2v1h-2zM23 0h2v1h-2zM14 1h1v1h-1zM23 1h4v1h-4zM24 2h3v1h-3zM14 3h1v1h-1zM23 3h4v1h-4zM25 4h2v1h-2zM14 6h1v1h-1zM13 7h1v1h-1zM13 9h1v1h-1zM13 10h1v1h-1zM14 11h1v1h-1zM14 12h2v1h-2zM15 13h1v1h-1zM14 14h2v1h-2zM15 15h1v1h-1zM15 16h1v1h-1zM8 17h2v1h-2zM15 17h1v1h-1zM8 18h3v1h-3zM9 19h1v1h-1zM16 19h2v1h-2zM8 20h1v1h-1zM16 20h2v1h-2zM6 21h1v1h-1zM17 21h2v1h-2zM16 22h2v1h-2zM16 23h1v1h-1zM16 24h1v1h-1zM16 26h1v1h-1zM21 26h3v1h-3zM16 27h2v1h-2zM20 27h5v1h-5zM21 28h6v1h-6zM8 29h3v1h-3zM21 29h4v1h-4zM8 30h3v1h-3zM19 30h1v1h-1zM7 31h1v1h-1zM11 31h1v1h-1zM6 32h1v1h-1zM10 32h2v1h-2zM6 33h1v1h-1zM10 33h2v1h-2zM3 34h4v1h-4zM10 34h1v1h-1zM19 34h2v1h-2zM23 34h2v1h-2zM5 35h2v1h-2zM22 35h1v1h-1zM3 36h1v1h-1zM10 36h1v1h-1zM3 37h1v1h-1zM6 38h1v1h-1zM5 39h1v1h-1zM7 39h1v1h-1zM10 39h1v1h-1zM7 40h1v1h-1zM8 41h1v1h-1zM11 41h1v1h-1zM8 42h1v1h-1zM8 43h2v1h-2zM11 43h1v1h-1zM19 43h2v1h-2zM21 44h1v1h-1z"/>
<path fill="#525252" d="M16 0h1v1h-1zM20 0h2v1h-2zM20 2h1v1h-1zM20 3h2v1h-2zM15 4h1v1h-1zM21 4h2v1h-2zM15 5h1v1h-1zM23 5h1v1h-1zM25 5h2v1h-2zM14 10h1v1h-1zM16 12h2v1h-2zM16 13h2v1h-2zM17 14h1v1h-1zM16 15h1v1h-1zM19 15h4v1h-4zM22 16h1v1h-1zM19 17h1v1h-1zM22 17h1v1h-1zM18 18h1v1h-1zM20 18h1v1h-1zM22 18h2v1h-2zM8 19h1v1h-1zM19 19h1v1h-1zM23 19h1v1h-1zM19 20h1v1h-1zM22 20h1v1h-1zM21 21h2v1h-2zM20 22h2v1h-2zM19 23h1v1h-1zM20 24h1v1h-1zM23 24h1v1h-1zM20 25h1v1h-1zM24 25h3v1h-3zM21 30h1v1h-1zM7 32h1v1h-1zM9 32h1v1h-1zM22 32h1v1h-1zM20 33h2v1h-2zM7 35h1v1h-1zM5 36h2v1h-2zM9 36h1v1h-1zM4 37h1v1h-1zM10 37h1v1h-1zM7 38h1v1h-1zM10 38h1v1h-1zM9 41h1v1h-1zM11 42h1v1h-1zM10 43h1v1h-1zM19 45h1v1h-1z"/>
<path fill="#5a5a5a" d="M17 0h1v1h-1zM19 0h1v1h-1zM15 1h1v1h-1zM19 1h2v1h-2zM20 4h1v1h-1zM21 5h1v1h-1zM22 6h1v1h-1zM14 7h1v1h-1zM16 11h1v1h-1zM18 12h1v1h-1zM18 13h1v1h-1zM18 14h1v1h-1zM19 16h1v1h-1zM23 17h1v1h-1zM7 18h1v1h-1zM16 18h1v1h-1zM24 18h1v1h-1zM26 18h1v1h-1zM24 19h1v1h-1zM5 20h1v1h-1zM23 20h1v1h-1zM22 22h1v1h-1zM18 23h1v1h-1zM23 23h1v1h-1zM22 24h1v1h-1zM24 24h1v1h-1zM26 24h1v1h-1zM17 26h1v1h-1zM19 26h1v1h-1zM20 30h1v1h-1zM19 31h1v1h-1zM22 31h1v1h-1zM22 33h1v1h-1zM8 35h1v1h-1zM7 36h2v1h-2zM8 39h1v1h-1zM19 44h1v1h-1zM20 45h1v1h-1z"/>
<path fill="#6b6b6b" d="M18 0h1v1h-1zM16 1h1v1h-1zM18 2h1v1h-1zM18 3h1v1h-1zM18 11h2v1h-2zM20 13h2v1h-2zM17 15h1v1h-1zM26 15h1v1h-1zM23 16h1v1h-1zM26 16h1v1h-1zM25 17h1v1h-1zM6 18h1v1h-1zM5 19h1v1h-1zM23 21h1v1h-1zM23 22h1v1h-1zM24 23h1v1h-1zM18 26h1v1h-1zM21 31h1v1h-1zM7 34h1v1h-1zM9 34h1v1h-1zM6 37h2v1h-2z"/>
<path fill="#4a4a4a" d="M22 0h1v1h-1zM25 0h2v1h-2zM21 1h2v1h-2zM14 2h1v1h-1zM21 2h3v1h-3zM22 3h1v1h-1zM23 4h2v1h-2zM22 5h1v1h-1zM24 5h1v1h-1zM13 8h1v1h-1zM15 11h1v1h-1zM16 14h1v1h-1zM20 16h2v1h-2zM20 17h2v1h-2zM5 18h1v1h-1zM19 18h1v1h-1zM21 18h1v1h-1zM18 19h1v1h-1zM20 19h3v1h-3zM18 20h1v1h-1zM20 20h2v1h-2zM19 21h2v1h-2zM18 22h2v1h-2zM17 23h1v1h-1zM20 23h3v1h-3zM21 24h1v1h-1zM16 25h1v1h-1zM21 25h3v1h-3zM20 26h1v1h-1zM24 26h3v1h-3zM18 27h2v1h-2zM25 27h2v1h-2zM22 30h2v1h-2zM8 31h3v1h-3zM23 31h1v1h-1zM23 32h1v1h-1zM19 33h1v1h-1zM23 33h1v1h-1zM2 34h1v1h-1zM21 34h2v1h-2zM2 35h3v1h-3zM9 35h1v1h-1zM4 36h1v1h-1zM8 40h2v1h-2z"/>
<path fill="#636363" d="M17 1h2v1h-2zM19 2h1v1h-1zM19 3h1v1h-1zM19 4h1v1h-1zM20 5h1v1h-1zM15 6h1v1h-1zM21 6h1v1h-1zM23 6h2v1h-2zM22 7h1v1h-1zM14 8h1v1h-1zM14 9h1v1h-1zM15 10h1v1h-1zM17 11h1v1h-1zM19 12h1v1h-1zM19 13h1v1h-1zM19 14h4v1h-4zM18 15h1v1h-1zM24 17h1v1h-1zM26 17h1v1h-1zM17 18h1v1h-1zM25 18h1v1h-1zM25 19h2v1h-2zM25 24h1v1h-1zM8 32h1v1h-1zM19 32h1v1h-1zM5 37h1v1h-1zM9 39h1v1h-1zM10 41h1v1h-1zM9 42h1v1h-1zM20 44h1v1h-1z"/>
<path fill="#848484" d="M15 2h1v1h-1zM15 3h1v1h-1zM17 4h1v1h-1zM24 7h1v1h-1zM23 8h1v1h-1zM23 9h1v1h-1zM16 10h1v1h-1zM23 10h1v1h-1zM23 11h1v1h-1zM24 16h1v1h-1zM19 25h1v1h-1zM10 42h1v1h-1z"/>
<path fill="#bdbdbd" d="M16 2h1v1h-1zM22 10h1v1h-1zM17 16h1v1h-1zM17 17h1v1h-1z"/>
<path fill="#7b7b7b" d="M17 2h1v1h-1zM17 3h1v1h-1zM20 6h1v1h-1zM21 7h1v1h-1zM22 8h1v1h-1zM24 10h3v1h-3zM24 11h1v1h-1zM23 12h2v1h-2zM23 13h1v1h-1zM25 13h1v1h-1zM23 14h1v1h-1zM18 16h1v1h-1zM25 16h1v1h-1zM18 17h1v1h-1zM26 20h1v1h-1zM25 23h1v1h-1zM17 24h1v1h-1zM19 24h1v1h-1zM9 33h1v1h-1zM8 37h1v1h-1zM8 38h1v1h-1z"/>
<path fill="#b5b5b5" d="M16 3h1v1h-1zM15 8h1v1h-1zM20 9h1v1h-1zM24 14h1v1h-1zM18 24h1v1h-1zM8 33h1v1h-1z"/>
<path fill="#737373" d="M16 4h1v1h-1zM18 4h1v1h-1zM19 5h1v1h-1zM25 6h2v1h-2zM23 7h1v1h-1zM25 11h2v1h-2zM20 12h1v1h-1zM25 12h2v1h-2zM22 13h1v1h-1zM26 13h1v1h-1zM26 14h1v1h-1zM23 15h1v1h-1zM7 20h1v1h-1zM24 20h1v1h-1zM26 23h1v1h-1zM21 32h1v1h-1zM7 33h1v1h-1zM9 37h1v1h-1z"/>
<path fill="#a5a5a5" d="M16 5h1v1h-1zM24 15h1v1h-1zM6 20h1v1h-1zM24 21h1v1h-1z"/>
<path fill="#dedede" d="M17 5h1v1h-1zM25 8h1v1h-1zM21 10h1v1h-1zM25 22h1v1h-1z"/>
<path fill="#9c9c9c" d="M18 5h1v1h-1zM19 6h1v1h-1zM26 9h1v1h-1zM17 10h2v1h-2zM20 10h1v1h-1zM24 13h1v1h-1zM24 22h1v1h-1zM26 22h1v1h-1zM8 34h1v1h-1z"/>
<path fill="#c5c5c5" d="M16 6h1v1h-1zM18 25h1v1h-1z"/>
<path fill="#ffffff" d="M17 6h1v1h-1zM17 7h3v1h-3zM16 8h4v1h-4zM17 9h3v1h-3z"/>
<path fill="#d6d6d6" d="M18 6h1v1h-1zM26 7h1v1h-1zM20 8h1v1h-1z"/>
<path fill="#949494" d="M15 7h1v1h-1zM24 8h1v1h-1zM15 9h1v1h-1zM21 9h1v1h-1zM25 9h1v1h-1zM19 10h1v1h-1zM20 11h1v1h-1zM20 31h1v1h-1zM20 32h1v1h-1z"/>
<path fill="#efefef" d="M16 7h1v1h-1zM25 21h1v1h-1z"/>
<path fill="#adadad" d="M20 7h1v1h-1zM26 21h1v1h-1z"/>
<path fill="#cecece" d="M25 7h1v1h-1zM22 11h1v1h-1zM6 19h1v1h-1z"/>
<path fill="#8c8c8c" d="M21 8h1v1h-1zM22 9h1v1h-1zM24 9h1v1h-1zM21 12h2v1h-2zM25 14h1v1h-1zM25 15h1v1h-1zM16 16h1v1h-1zM16 17h1v1h-1zM7 19h1v1h-1zM25 20h1v1h-1zM17 25h1v1h-1zM9 38h1v1h-1z"/>
<path fill="#e6e6e6" d="M26 8h1v1h-1zM16 9h1v1h-1zM21 11h1v1h-1z"/>
</g>
<g transform="translate(1028.0,12.8) scale(8.5333,8.5771)" shape-rendering="crispEdges">
<path fill="#424242" d="M0 0h1v1h-1zM3 0h1v1h-1zM11 0h2v1h-2zM15 0h1v1h-1zM19 0h1v1h-1zM0 1h1v1h-1zM3 1h2v1h-2zM13 1h2v1h-2zM0 2h1v1h-1zM3 2h1v1h-1zM16 2h1v1h-1zM4 3h1v1h-1zM14 3h4v1h-4zM20 3h1v1h-1zM13 4h2v1h-2zM16 4h4v1h-4zM22 4h2v1h-2zM12 5h1v1h-1zM14 5h1v1h-1zM16 5h1v1h-1zM19 5h2v1h-2zM10 6h1v1h-1zM15 6h1v1h-1zM19 6h3v1h-3zM23 6h2v1h-2zM14 7h1v1h-1zM20 7h1v1h-1zM22 7h2v1h-2zM25 7h1v1h-1zM10 9h4v1h-4zM22 9h1v1h-1zM24 9h2v1h-2zM7 10h1v1h-1zM11 10h1v1h-1zM13 10h1v1h-1zM23 10h1v1h-1zM12 11h1v1h-1zM14 11h2v1h-2zM22 11h3v1h-3zM15 12h3v1h-3zM24 12h3v1h-3zM3 13h1v1h-1zM17 13h1v1h-1zM24 13h3v1h-3zM2 14h1v1h-1zM4 14h1v1h-1zM6 14h1v1h-1zM9 14h1v1h-1zM18 14h1v1h-1zM25 14h1v1h-1zM6 15h3v1h-3zM18 15h1v1h-1zM25 15h2v1h-2zM1 16h1v1h-1zM3 16h2v1h-2zM6 16h1v1h-1zM8 16h1v1h-1zM0 17h1v1h-1zM5 17h1v1h-1zM18 17h1v1h-1zM23 17h1v1h-1zM24 18h1v1h-1zM18 19h2v1h-2zM25 19h2v1h-2zM17 20h1v1h-1zM20 20h1v1h-1zM25 20h1v1h-1zM7 21h1v1h-1zM12 21h1v1h-1zM19 21h2v1h-2zM25 21h2v1h-2zM4 22h1v1h-1zM6 22h1v1h-1zM8 22h1v1h-1zM12 22h1v1h-1zM20 22h2v1h-2zM7 23h1v1h-1zM19 23h1v1h-1zM21 23h3v1h-3zM7 24h1v1h-1zM9 24h1v1h-1zM11 24h1v1h-1zM13 24h1v1h-1zM21 24h1v1h-1zM24 24h1v1h-1zM3 25h1v1h-1zM8 25h1v1h-1zM19 25h1v1h-1zM22 25h1v1h-1zM25 25h2v1h-2zM4 26h1v1h-1zM6 26h1v1h-1zM15 26h1v1h-1zM7 27h1v1h-1zM16 27h1v1h-1zM25 27h2v1h-2zM11 28h1v1h-1zM13 28h1v1h-1zM22 28h4v1h-4zM12 29h1v1h-1zM22 29h2v1h-2zM5 30h1v1h-1zM18 30h1v1h-1zM22 30h2v1h-2zM7 31h1v1h-1zM11 31h1v1h-1zM13 31h1v1h-1zM22 31h1v1h-1zM24 31h1v1h-1zM7 32h1v1h-1zM14 32h1v1h-1zM19 32h3v1h-3zM23 32h1v1h-1zM18 33h2v1h-2zM23 33h1v1h-1zM6 34h1v1h-1zM9 34h2v1h-2zM18 34h2v1h-2zM21 34h3v1h-3zM7 35h3v1h-3zM13 35h2v1h-2zM18 35h1v1h-1zM22 35h1v1h-1zM8 36h1v1h-1zM10 36h1v1h-1zM13 36h2v1h-2zM18 36h1v1h-1zM22 36h1v1h-1zM15 37h1v1h-1zM17 37h2v1h-2zM20 37h1v1h-1zM22 37h5v1h-5zM15 38h1v1h-1zM18 38h1v1h-1zM12 39h1v1h-1zM16 39h1v1h-1zM18 39h2v1h-2zM26 39h1v1h-1zM3 40h1v1h-1zM11 40h1v1h-1zM23 40h1v1h-1zM26 40h1v1h-1zM0 41h1v1h-1zM5 41h2v1h-2zM12 41h1v1h-1zM19 41h1v1h-1zM23 41h2v1h-2zM7 42h2v1h-2zM20 42h4v1h-4zM4 43h1v1h-1zM12 43h1v1h-1zM20 43h2v1h-2zM6 44h2v1h-2zM18 44h1v1h-1zM20 44h1v1h-1zM22 44h1v1h-1zM2 45h1v1h-1zM7 45h1v1h-1zM19 45h3v1h-3zM23 45h2v1h-2zM8 46h1v1h-1zM18 46h2v1h-2zM2 47h2v1h-2zM7 47h1v1h-1zM13 47h1v1h-1zM18 47h1v1h-1z"/>
<path fill="#5a5a5a" d="M1 0h2v1h-2zM1 3h1v1h-1zM11 6h2v1h-2zM18 7h1v1h-1zM19 10h1v1h-1zM21 10h1v1h-1zM19 13h1v1h-1zM23 15h1v1h-1zM11 27h2v1h-2zM25 31h2v1h-2zM24 32h1v1h-1zM24 33h1v1h-1zM26 35h1v1h-1zM15 36h1v1h-1zM1 40h2v1h-2zM20 41h1v1h-1zM10 43h1v1h-1z"/>
<path fill="#313131" d="M4 0h1v1h-1zM7 0h1v1h-1zM10 0h1v1h-1zM17 0h1v1h-1zM20 0h1v1h-1zM25 0h1v1h-1zM10 1h2v1h-2zM18 1h1v1h-1zM23 1h1v1h-1zM25 1h2v1h-2zM6 2h1v1h-1zM10 2h1v1h-1zM12 2h1v1h-1zM18 2h1v1h-1zM23 2h4v1h-4zM5 3h5v1h-5zM23 3h1v1h-1zM25 3h1v1h-1zM3 4h1v1h-1zM5 4h1v1h-1zM7 4h2v1h-2zM25 4h1v1h-1zM4 5h4v1h-4zM10 5h1v1h-1zM22 5h1v1h-1zM0 6h1v1h-1zM2 6h1v1h-1zM6 6h2v1h-2zM9 6h1v1h-1zM0 7h1v1h-1zM2 7h2v1h-2zM5 7h3v1h-3zM26 7h1v1h-1zM0 8h1v1h-1zM2 8h4v1h-4zM7 8h1v1h-1zM0 9h3v1h-3zM4 9h2v1h-2zM9 9h1v1h-1zM2 10h1v1h-1zM5 10h1v1h-1zM10 10h1v1h-1zM25 10h1v1h-1zM0 11h5v1h-5zM10 11h1v1h-1zM0 12h4v1h-4zM5 12h1v1h-1zM10 12h2v1h-2zM0 13h1v1h-1zM5 13h1v1h-1zM12 13h3v1h-3zM0 14h1v1h-1zM10 14h2v1h-2zM14 14h1v1h-1zM0 15h1v1h-1zM11 15h2v1h-2zM15 15h3v1h-3zM7 16h1v1h-1zM12 16h2v1h-2zM15 16h4v1h-4zM1 17h1v1h-1zM3 17h1v1h-1zM9 17h1v1h-1zM11 17h1v1h-1zM13 17h1v1h-1zM2 18h1v1h-1zM7 18h2v1h-2zM12 18h1v1h-1zM15 18h1v1h-1zM2 19h1v1h-1zM8 19h1v1h-1zM16 19h2v1h-2zM1 20h2v1h-2zM6 20h2v1h-2zM9 20h3v1h-3zM14 20h1v1h-1zM2 21h1v1h-1zM6 21h1v1h-1zM14 21h2v1h-2zM2 22h2v1h-2zM15 22h1v1h-1zM17 22h1v1h-1zM0 23h1v1h-1zM2 23h1v1h-1zM4 23h2v1h-2zM10 23h1v1h-1zM1 24h1v1h-1zM6 24h1v1h-1zM17 24h1v1h-1zM21 25h1v1h-1zM1 26h3v1h-3zM19 26h3v1h-3zM0 27h2v1h-2zM5 27h1v1h-1zM14 27h1v1h-1zM17 27h1v1h-1zM19 27h3v1h-3zM1 28h4v1h-4zM8 28h1v1h-1zM10 28h1v1h-1zM21 28h1v1h-1zM3 29h1v1h-1zM6 29h1v1h-1zM8 29h4v1h-4zM17 29h1v1h-1zM20 29h1v1h-1zM0 30h2v1h-2zM3 30h1v1h-1zM7 30h3v1h-3zM17 30h1v1h-1zM19 30h1v1h-1zM1 31h4v1h-4zM14 31h1v1h-1zM0 32h3v1h-3zM6 32h1v1h-1zM10 32h1v1h-1zM15 32h1v1h-1zM1 33h3v1h-3zM5 33h1v1h-1zM10 33h1v1h-1zM1 34h1v1h-1zM3 34h1v1h-1zM0 35h1v1h-1zM2 35h3v1h-3zM0 36h7v1h-7zM9 36h1v1h-1zM11 36h1v1h-1zM0 37h2v1h-2zM3 37h3v1h-3zM10 37h1v1h-1zM1 38h1v1h-1zM4 38h2v1h-2zM7 38h4v1h-4zM21 38h1v1h-1zM1 39h1v1h-1zM10 39h1v1h-1zM13 39h1v1h-1zM5 40h4v1h-4zM14 40h1v1h-1zM16 40h1v1h-1zM25 40h1v1h-1zM15 41h1v1h-1zM26 41h1v1h-1zM12 42h1v1h-1zM14 42h1v1h-1zM26 42h1v1h-1zM0 43h1v1h-1zM3 43h1v1h-1zM7 43h1v1h-1zM18 43h1v1h-1zM26 43h1v1h-1zM2 44h1v1h-1zM11 44h1v1h-1zM26 44h1v1h-1zM0 45h1v1h-1zM3 45h1v1h-1zM6 45h1v1h-1zM11 45h2v1h-2zM15 45h1v1h-1zM0 46h1v1h-1zM4 46h2v1h-2zM9 46h1v1h-1zM12 46h2v1h-2zM16 46h2v1h-2zM22 46h1v1h-1zM26 46h1v1h-1zM0 47h1v1h-1zM4 47h2v1h-2zM10 47h1v1h-1zM16 47h1v1h-1zM23 47h1v1h-1zM25 47h2v1h-2z"/>
<path fill="#3a3a3a" d="M5 0h2v1h-2zM8 0h2v1h-2zM13 0h2v1h-2zM16 0h1v1h-1zM18 0h1v1h-1zM21 0h4v1h-4zM26 0h1v1h-1zM5 1h5v1h-5zM12 1h1v1h-1zM15 1h3v1h-3zM19 1h4v1h-4zM4 2h2v1h-2zM7 2h3v1h-3zM11 2h1v1h-1zM13 2h3v1h-3zM17 2h1v1h-1zM19 2h4v1h-4zM0 3h1v1h-1zM3 3h1v1h-1zM11 3h2v1h-2zM18 3h2v1h-2zM21 3h2v1h-2zM24 3h1v1h-1zM26 3h1v1h-1zM1 4h2v1h-2zM4 4h1v1h-1zM6 4h1v1h-1zM9 4h4v1h-4zM20 4h2v1h-2zM24 4h1v1h-1zM26 4h1v1h-1zM8 5h2v1h-2zM11 5h1v1h-1zM13 5h1v1h-1zM18 5h1v1h-1zM21 5h1v1h-1zM23 5h4v1h-4zM8 6h1v1h-1zM22 6h1v1h-1zM25 6h2v1h-2zM8 7h2v1h-2zM21 7h1v1h-1zM24 7h1v1h-1zM6 8h1v1h-1zM8 8h3v1h-3zM21 8h6v1h-6zM3 9h1v1h-1zM6 9h3v1h-3zM26 9h1v1h-1zM6 10h1v1h-1zM8 10h2v1h-2zM12 10h1v1h-1zM26 10h1v1h-1zM5 11h2v1h-2zM9 11h1v1h-1zM11 11h1v1h-1zM13 11h1v1h-1zM25 11h2v1h-2zM4 12h1v1h-1zM6 12h1v1h-1zM12 12h3v1h-3zM2 13h1v1h-1zM4 13h1v1h-1zM6 13h1v1h-1zM10 13h2v1h-2zM15 13h2v1h-2zM5 14h1v1h-1zM12 14h2v1h-2zM15 14h3v1h-3zM1 15h1v1h-1zM9 15h2v1h-2zM13 15h2v1h-2zM0 16h1v1h-1zM2 16h1v1h-1zM5 16h1v1h-1zM9 16h3v1h-3zM14 16h1v1h-1zM2 17h1v1h-1zM4 17h1v1h-1zM6 17h3v1h-3zM10 17h1v1h-1zM12 17h1v1h-1zM14 17h4v1h-4zM0 18h2v1h-2zM3 18h4v1h-4zM9 18h3v1h-3zM13 18h2v1h-2zM16 18h3v1h-3zM26 18h1v1h-1zM0 19h2v1h-2zM3 19h5v1h-5zM9 19h7v1h-7zM0 20h1v1h-1zM3 20h3v1h-3zM8 20h1v1h-1zM12 20h2v1h-2zM15 20h2v1h-2zM18 20h2v1h-2zM0 21h2v1h-2zM3 21h3v1h-3zM8 21h4v1h-4zM13 21h1v1h-1zM17 21h2v1h-2zM0 22h2v1h-2zM5 22h1v1h-1zM7 22h1v1h-1zM9 22h3v1h-3zM13 22h2v1h-2zM16 22h1v1h-1zM18 22h2v1h-2zM1 23h1v1h-1zM3 23h1v1h-1zM6 23h1v1h-1zM8 23h2v1h-2zM11 23h8v1h-8zM20 23h1v1h-1zM0 24h1v1h-1zM2 24h4v1h-4zM8 24h1v1h-1zM14 24h3v1h-3zM18 24h3v1h-3zM22 24h2v1h-2zM1 25h2v1h-2zM4 25h4v1h-4zM15 25h4v1h-4zM20 25h1v1h-1zM0 26h1v1h-1zM5 26h1v1h-1zM7 26h3v1h-3zM14 26h1v1h-1zM16 26h3v1h-3zM22 26h2v1h-2zM2 27h3v1h-3zM6 27h1v1h-1zM8 27h3v1h-3zM13 27h1v1h-1zM15 27h1v1h-1zM18 27h1v1h-1zM22 27h2v1h-2zM0 28h1v1h-1zM5 28h3v1h-3zM12 28h1v1h-1zM14 28h7v1h-7zM0 29h3v1h-3zM4 29h2v1h-2zM7 29h1v1h-1zM13 29h4v1h-4zM18 29h2v1h-2zM21 29h1v1h-1zM2 30h1v1h-1zM4 30h1v1h-1zM6 30h1v1h-1zM10 30h7v1h-7zM20 30h2v1h-2zM24 30h1v1h-1zM5 31h2v1h-2zM8 31h3v1h-3zM12 31h1v1h-1zM15 31h7v1h-7zM3 32h3v1h-3zM8 32h2v1h-2zM11 32h3v1h-3zM16 32h3v1h-3zM4 33h1v1h-1zM6 33h1v1h-1zM9 33h1v1h-1zM11 33h5v1h-5zM17 33h1v1h-1zM20 33h1v1h-1zM2 34h1v1h-1zM4 34h2v1h-2zM11 34h4v1h-4zM20 34h1v1h-1zM5 35h2v1h-2zM10 35h2v1h-2zM19 35h3v1h-3zM7 36h1v1h-1zM12 36h1v1h-1zM19 36h3v1h-3zM6 37h4v1h-4zM11 37h4v1h-4zM19 37h1v1h-1zM21 37h1v1h-1zM6 38h1v1h-1zM11 38h4v1h-4zM16 38h2v1h-2zM19 38h2v1h-2zM22 38h3v1h-3zM0 39h1v1h-1zM2 39h3v1h-3zM6 39h4v1h-4zM11 39h1v1h-1zM14 39h2v1h-2zM17 39h1v1h-1zM22 39h4v1h-4zM0 40h1v1h-1zM4 40h1v1h-1zM9 40h2v1h-2zM12 40h2v1h-2zM15 40h1v1h-1zM17 40h2v1h-2zM22 40h1v1h-1zM24 40h1v1h-1zM4 41h1v1h-1zM7 41h2v1h-2zM13 41h2v1h-2zM16 41h3v1h-3zM22 41h1v1h-1zM25 41h1v1h-1zM0 42h1v1h-1zM6 42h1v1h-1zM13 42h1v1h-1zM15 42h3v1h-3zM19 42h1v1h-1zM24 42h2v1h-2zM1 43h2v1h-2zM5 43h2v1h-2zM8 43h1v1h-1zM11 43h1v1h-1zM13 43h5v1h-5zM19 43h1v1h-1zM22 43h4v1h-4zM0 44h2v1h-2zM3 44h3v1h-3zM8 44h3v1h-3zM12 44h6v1h-6zM19 44h1v1h-1zM21 44h1v1h-1zM23 44h3v1h-3zM4 45h2v1h-2zM8 45h3v1h-3zM13 45h2v1h-2zM16 45h3v1h-3zM22 45h1v1h-1zM25 45h2v1h-2zM1 46h3v1h-3zM6 46h2v1h-2zM10 46h2v1h-2zM14 46h2v1h-2zM20 46h2v1h-2zM23 46h3v1h-3zM1 47h1v1h-1zM6 47h1v1h-1zM8 47h2v1h-2zM11 47h2v1h-2zM14 47h2v1h-2zM17 47h1v1h-1zM19 47h4v1h-4zM24 47h1v1h-1z"/>
<path fill="#848484" d="M1 1h2v1h-2zM1 2h1v1h-1zM16 7h1v1h-1zM20 13h1v1h-1zM12 25h1v1h-1zM11 26h1v1h-1zM26 32h1v1h-1zM25 33h1v1h-1z"/>
<path fill="#292929" d="M24 1h1v1h-1zM10 3h1v1h-1zM0 4h1v1h-1zM1 5h3v1h-3zM1 6h1v1h-1zM3 6h3v1h-3zM1 7h1v1h-1zM4 7h1v1h-1zM1 8h1v1h-1zM0 10h2v1h-2zM3 10h2v1h-2zM1 13h1v1h-1zM1 14h1v1h-1zM16 21h1v1h-1zM0 25h1v1h-1zM9 28h1v1h-1zM0 31h1v1h-1zM16 33h1v1h-1zM0 34h1v1h-1zM1 35h1v1h-1zM12 35h1v1h-1zM2 37h1v1h-1zM0 38h1v1h-1zM2 38h2v1h-2zM5 39h1v1h-1zM18 42h1v1h-1zM1 45h1v1h-1z"/>
<path fill="#7b7b7b" d="M2 2h1v1h-1zM19 11h1v1h-1zM20 12h1v1h-1zM21 16h1v1h-1zM26 33h1v1h-1zM16 35h1v1h-1z"/>
<path fill="#525252" d="M2 3h1v1h-1zM16 6h1v1h-1zM11 7h1v1h-1zM13 7h1v1h-1zM15 7h1v1h-1zM15 8h1v1h-1zM19 8h1v1h-1zM15 9h1v1h-1zM19 9h1v1h-1zM16 10h1v1h-1zM18 10h1v1h-1zM7 11h2v1h-2zM18 11h1v1h-1zM9 13h1v1h-1zM23 14h1v1h-1zM2 15h1v1h-1zM4 15h1v1h-1zM19 16h1v1h-1zM20 17h1v1h-1zM20 18h1v1h-1zM22 18h1v1h-1zM20 19h1v1h-1zM22 20h1v1h-1zM13 25h1v1h-1zM13 26h1v1h-1zM25 26h1v1h-1zM7 33h1v1h-1zM7 34h2v1h-2zM24 34h2v1h-2zM17 35h1v1h-1zM24 35h2v1h-2zM26 36h1v1h-1zM20 39h1v1h-1zM19 40h1v1h-1zM9 41h1v1h-1zM21 41h1v1h-1zM2 42h1v1h-1zM11 42h1v1h-1zM9 43h1v1h-1z"/>
<path fill="#4a4a4a" d="M13 3h1v1h-1zM15 4h1v1h-1zM15 5h1v1h-1zM17 5h1v1h-1zM13 6h2v1h-2zM18 6h1v1h-1zM10 7h1v1h-1zM19 7h1v1h-1zM11 8h4v1h-4zM20 8h1v1h-1zM14 9h1v1h-1zM20 9h2v1h-2zM23 9h1v1h-1zM14 10h2v1h-2zM22 10h1v1h-1zM24 10h1v1h-1zM16 11h2v1h-2zM9 12h1v1h-1zM18 12h1v1h-1zM22 12h2v1h-2zM18 13h1v1h-1zM23 13h1v1h-1zM24 14h1v1h-1zM26 14h1v1h-1zM5 15h1v1h-1zM24 15h1v1h-1zM23 16h4v1h-4zM19 17h1v1h-1zM21 17h2v1h-2zM24 17h3v1h-3zM19 18h1v1h-1zM21 18h1v1h-1zM23 18h1v1h-1zM25 18h1v1h-1zM21 19h4v1h-4zM21 20h1v1h-1zM23 20h2v1h-2zM26 20h1v1h-1zM21 21h4v1h-4zM22 22h5v1h-5zM24 23h3v1h-3zM10 24h1v1h-1zM12 24h1v1h-1zM25 24h2v1h-2zM9 25h2v1h-2zM14 25h1v1h-1zM23 25h2v1h-2zM10 26h1v1h-1zM24 26h1v1h-1zM26 26h1v1h-1zM24 27h1v1h-1zM26 28h1v1h-1zM24 29h3v1h-3zM25 30h2v1h-2zM23 31h1v1h-1zM22 32h1v1h-1zM8 33h1v1h-1zM21 33h2v1h-2zM15 34h3v1h-3zM23 35h1v1h-1zM17 36h1v1h-1zM23 36h3v1h-3zM16 37h1v1h-1zM25 38h2v1h-2zM21 39h1v1h-1zM3 41h1v1h-1zM11 41h1v1h-1zM1 42h1v1h-1zM3 42h3v1h-3z"/>
<path fill="#212121" d="M0 5h1v1h-1zM0 33h1v1h-1z"/>
<path fill="#636363" d="M17 6h1v1h-1zM12 7h1v1h-1zM18 9h1v1h-1zM17 10h1v1h-1zM21 11h1v1h-1zM19 12h1v1h-1zM3 14h1v1h-1zM7 14h1v1h-1zM22 16h1v1h-1zM26 34h1v1h-1zM10 41h1v1h-1z"/>
<path fill="#a5a5a5" d="M17 7h1v1h-1zM16 8h1v1h-1zM17 9h1v1h-1zM8 12h1v1h-1z"/>
<path fill="#e6e6e6" d="M17 8h1v1h-1z"/>
<path fill="#737373" d="M18 8h1v1h-1zM22 13h1v1h-1zM8 14h1v1h-1zM19 14h1v1h-1zM3 15h1v1h-1zM20 16h1v1h-1zM11 25h1v1h-1zM25 32h1v1h-1zM16 36h1v1h-1zM20 40h1v1h-1zM2 41h1v1h-1z"/>
<path fill="#8c8c8c" d="M16 9h1v1h-1zM7 12h1v1h-1zM10 42h1v1h-1z"/>
<path fill="#6b6b6b" d="M20 10h1v1h-1zM21 12h1v1h-1zM19 15h1v1h-1zM15 35h1v1h-1zM21 40h1v1h-1zM1 41h1v1h-1zM9 42h1v1h-1z"/>
<path fill="#949494" d="M20 11h1v1h-1zM7 13h1v1h-1zM21 13h1v1h-1zM22 14h1v1h-1z"/>
<path fill="#adadad" d="M8 13h1v1h-1z"/>
<path fill="#d6d6d6" d="M20 14h1v1h-1z"/>
<path fill="#ffffff" d="M21 14h1v1h-1z"/>
<path fill="#c5c5c5" d="M20 15h1v1h-1z"/>
<path fill="#efefef" d="M21 15h1v1h-1z"/>
<path fill="#9c9c9c" d="M22 15h1v1h-1zM12 26h1v1h-1z"/>
</g>
<g transform="translate(1263.8,12.8) scale(8.5000,8.5771)" shape-rendering="crispEdges">
<path fill="#460000" d="M0 0h1v1h-1zM0 1h1v1h-1zM3 1h1v1h-1zM0 2h1v1h-1zM13 4h1v1h-1zM12 5h1v1h-1zM10 6h1v1h-1zM10 7h1v1h-1zM10 9h1v1h-1zM11 10h1v1h-1zM9 12h1v1h-1zM2 14h1v1h-1zM4 14h1v1h-1zM2 15h1v1h-1zM5 15h1v1h-1zM8 15h1v1h-1zM3 16h1v1h-1zM6 16h1v1h-1zM5 17h1v1h-1zM7 23h1v1h-1zM10 24h1v1h-1zM12 24h1v1h-1zM9 25h2v1h-2zM14 25h1v1h-1zM4 26h1v1h-1zM10 26h1v1h-1zM7 27h1v1h-1zM5 30h1v1h-1zM18 33h1v1h-1zM15 34h2v1h-2zM18 34h1v1h-1zM14 35h1v1h-1zM14 36h1v1h-1zM17 36h2v1h-2zM25 36h1v1h-1zM15 37h1v1h-1zM18 37h1v1h-1zM20 37h1v1h-1zM26 37h1v1h-1zM18 38h1v1h-1zM26 38h1v1h-1zM21 39h1v1h-1zM26 39h1v1h-1zM26 40h1v1h-1zM0 41h1v1h-1zM3 41h1v1h-1zM19 41h1v1h-1zM1 42h1v1h-1zM3 42h3v1h-3zM21 42h1v1h-1zM4 43h1v1h-1zM21 43h1v1h-1zM22 44h1v1h-1zM24 45h1v1h-1zM2 47h2v1h-2zM13 47h1v1h-1z"/>
<path fill="#740000" d="M1 0h1v1h-1zM3 14h1v1h-1zM7 14h1v1h-1zM21 40h1v1h-1z"/>
<path fill="#5d0000" d="M2 0h1v1h-1zM1 3h2v1h-2zM11 6h2v1h-2zM11 7h1v1h-1zM7 11h2v1h-2zM9 13h1v1h-1zM4 15h1v1h-1zM13 25h1v1h-1zM13 26h1v1h-1zM11 27h2v1h-2zM17 35h1v1h-1zM25 35h1v1h-1zM15 36h1v1h-1zM26 36h1v1h-1zM20 39h1v1h-1zM1 40h2v1h-2zM19 40h1v1h-1zM20 41h2v1h-2zM2 42h1v1h-1z"/>
<path fill="#2e0000" d="M3 0h10v1h-10zM4 1h7v1h-7zM12 1h1v1h-1zM3 2h10v1h-10zM0 3h1v1h-1zM3 3h3v1h-3zM7 3h3v1h-3zM11 3h2v1h-2zM1 4h2v1h-2zM4 4h1v1h-1zM6 4h2v1h-2zM9 4h4v1h-4zM4 5h8v1h-8zM13 5h1v1h-1zM8 6h1v1h-1zM0 7h1v1h-1zM3 7h1v1h-1zM8 7h2v1h-2zM5 8h6v1h-6zM3 9h1v1h-1zM6 9h4v1h-4zM2 10h1v1h-1zM5 10h6v1h-6zM0 11h1v1h-1zM2 11h1v1h-1zM5 11h2v1h-2zM9 11h1v1h-1zM11 11h2v1h-2zM0 12h5v1h-5zM6 12h1v1h-1zM10 12h1v1h-1zM0 13h1v1h-1zM2 13h5v1h-5zM10 13h2v1h-2zM5 14h2v1h-2zM9 14h3v1h-3zM1 15h1v1h-1zM6 15h2v1h-2zM9 15h2v1h-2zM12 15h1v1h-1zM0 16h3v1h-3zM4 16h2v1h-2zM7 16h1v1h-1zM11 16h2v1h-2zM0 17h5v1h-5zM6 17h1v1h-1zM11 17h1v1h-1zM13 17h1v1h-1zM0 18h5v1h-5zM11 18h2v1h-2zM14 18h1v1h-1zM0 19h5v1h-5zM11 19h1v1h-1zM0 20h5v1h-5zM11 20h3v1h-3zM0 21h5v1h-5zM12 21h3v1h-3zM0 22h7v1h-7zM8 22h1v1h-1zM12 22h2v1h-2zM1 23h6v1h-6zM9 23h1v1h-1zM11 23h4v1h-4zM0 24h9v1h-9zM11 24h1v1h-1zM13 24h2v1h-2zM1 25h8v1h-8zM0 26h1v1h-1zM2 26h1v1h-1zM5 26h5v1h-5zM14 26h2v1h-2zM0 27h7v1h-7zM8 27h1v1h-1zM15 27h1v1h-1zM0 28h1v1h-1zM4 28h3v1h-3zM12 28h4v1h-4zM0 29h3v1h-3zM4 29h2v1h-2zM13 29h6v1h-6zM0 30h1v1h-1zM2 30h1v1h-1zM4 30h1v1h-1zM14 30h3v1h-3zM2 31h1v1h-1zM14 31h4v1h-4zM2 32h3v1h-3zM14 32h1v1h-1zM16 32h2v1h-2zM2 33h2v1h-2zM13 33h3v1h-3zM17 33h1v1h-1zM13 34h2v1h-2zM1 36h2v1h-2zM13 36h1v1h-1zM20 36h1v1h-1zM12 37h1v1h-1zM14 37h1v1h-1zM17 37h1v1h-1zM19 37h1v1h-1zM24 37h2v1h-2zM1 38h1v1h-1zM4 38h1v1h-1zM13 38h5v1h-5zM19 38h2v1h-2zM22 38h3v1h-3zM0 39h5v1h-5zM14 39h6v1h-6zM22 39h4v1h-4zM0 40h1v1h-1zM3 40h2v1h-2zM12 40h2v1h-2zM15 40h3v1h-3zM22 40h4v1h-4zM4 41h1v1h-1zM12 41h3v1h-3zM16 41h1v1h-1zM18 41h1v1h-1zM22 41h5v1h-5zM0 42h1v1h-1zM6 42h1v1h-1zM12 42h5v1h-5zM19 42h2v1h-2zM22 42h4v1h-4zM0 43h4v1h-4zM5 43h2v1h-2zM12 43h5v1h-5zM22 43h5v1h-5zM0 44h8v1h-8zM10 44h7v1h-7zM23 44h3v1h-3zM0 45h1v1h-1zM2 45h1v1h-1zM4 45h2v1h-2zM7 45h8v1h-8zM16 45h1v1h-1zM22 45h2v1h-2zM25 45h2v1h-2zM1 46h4v1h-4zM6 46h7v1h-7zM14 46h1v1h-1zM21 46h6v1h-6zM0 47h2v1h-2zM4 47h1v1h-1zM6 47h7v1h-7zM14 47h2v1h-2zM19 47h1v1h-1zM21 47h4v1h-4z"/>
<path fill="#2e1700" d="M13 0h2v1h-2zM22 0h5v1h-5zM13 1h2v1h-2zM21 1h3v1h-3zM25 1h1v1h-1zM13 2h2v1h-2zM22 2h1v1h-1zM22 3h3v1h-3zM26 3h1v1h-1zM24 4h3v1h-3zM24 5h1v1h-1zM12 10h2v1h-2zM13 11h1v1h-1zM12 12h4v1h-4zM13 13h3v1h-3zM12 14h4v1h-4zM13 15h2v1h-2zM8 16h3v1h-3zM14 16h2v1h-2zM7 17h4v1h-4zM12 17h1v1h-1zM14 17h2v1h-2zM5 18h1v1h-1zM8 18h3v1h-3zM13 18h1v1h-1zM15 18h1v1h-1zM9 19h2v1h-2zM12 19h4v1h-4zM17 19h1v1h-1zM8 20h1v1h-1zM15 20h4v1h-4zM20 20h1v1h-1zM5 21h2v1h-2zM8 21h4v1h-4zM17 21h2v1h-2zM7 22h1v1h-1zM9 22h3v1h-3zM14 22h1v1h-1zM16 22h1v1h-1zM18 22h2v1h-2zM8 23h1v1h-1zM10 23h1v1h-1zM15 23h2v1h-2zM9 24h1v1h-1zM15 24h2v1h-2zM15 25h2v1h-2zM21 25h1v1h-1zM16 26h1v1h-1zM20 26h1v1h-1zM22 26h2v1h-2zM9 27h2v1h-2zM13 27h2v1h-2zM17 27h2v1h-2zM20 27h4v1h-4zM7 28h2v1h-2zM10 28h1v1h-1zM16 28h5v1h-5zM7 29h1v1h-1zM10 29h3v1h-3zM19 29h3v1h-3zM6 30h2v1h-2zM9 30h5v1h-5zM17 30h3v1h-3zM22 30h1v1h-1zM24 30h1v1h-1zM5 31h2v1h-2zM8 31h1v1h-1zM10 31h4v1h-4zM18 31h1v1h-1zM5 32h2v1h-2zM11 32h3v1h-3zM18 32h1v1h-1zM4 33h3v1h-3zM10 33h3v1h-3zM1 34h2v1h-2zM4 34h3v1h-3zM10 34h3v1h-3zM19 34h3v1h-3zM3 35h4v1h-4zM10 35h2v1h-2zM13 35h1v1h-1zM18 35h5v1h-5zM11 36h2v1h-2zM19 36h1v1h-1zM21 36h1v1h-1zM3 37h1v1h-1zM11 37h1v1h-1zM13 37h1v1h-1zM21 37h2v1h-2zM5 38h2v1h-2zM11 38h2v1h-2zM6 39h2v1h-2zM10 39h4v1h-4zM5 40h6v1h-6zM18 40h1v1h-1zM5 41h1v1h-1zM7 41h2v1h-2zM17 41h1v1h-1zM17 42h1v1h-1zM7 43h2v1h-2zM11 43h1v1h-1zM17 43h3v1h-3zM8 44h2v1h-2zM17 44h2v1h-2zM21 44h1v1h-1zM17 45h2v1h-2zM15 46h2v1h-2zM20 46h1v1h-1zM17 47h2v1h-2zM20 47h1v1h-1z"/>
<path fill="#461700" d="M15 0h1v1h-1zM13 3h2v1h-2zM14 4h1v1h-1zM23 4h1v1h-1zM14 5h1v1h-1zM13 6h2v1h-2zM11 8h3v1h-3zM11 9h3v1h-3zM14 11h1v1h-1zM19 18h1v1h-1zM21 18h1v1h-1zM7 21h1v1h-1zM19 21h2v1h-2zM21 24h1v1h-1zM22 25h2v1h-2zM24 26h1v1h-1zM26 26h1v1h-1zM16 27h1v1h-1zM24 27h3v1h-3zM11 28h1v1h-1zM22 28h5v1h-5zM22 29h5v1h-5zM23 30h1v1h-1zM25 30h2v1h-2zM7 31h1v1h-1zM24 31h1v1h-1zM23 32h1v1h-1zM19 33h1v1h-1zM23 33h1v1h-1zM17 34h1v1h-1zM22 34h2v1h-2zM23 35h2v1h-2zM10 36h1v1h-1zM22 36h3v1h-3zM16 37h1v1h-1zM23 37h1v1h-1zM25 38h1v1h-1zM11 40h1v1h-1zM6 41h1v1h-1zM11 41h1v1h-1zM7 42h2v1h-2zM20 43h1v1h-1zM21 45h1v1h-1zM18 46h2v1h-2z"/>
<path fill="#2e2e00" d="M16 0h2v1h-2zM19 0h3v1h-3zM15 1h1v1h-1zM19 1h2v1h-2zM19 2h3v1h-3zM21 3h1v1h-1zM20 4h3v1h-3zM21 5h1v1h-1zM23 5h1v1h-1zM25 5h2v1h-2zM22 6h1v1h-1zM15 11h1v1h-1zM16 13h2v1h-2zM16 14h2v1h-2zM18 15h1v1h-1zM7 18h1v1h-1zM16 18h1v1h-1zM18 18h1v1h-1zM26 18h1v1h-1zM8 19h1v1h-1zM19 19h1v1h-1zM5 20h1v1h-1zM19 20h1v1h-1zM20 22h1v1h-1zM17 23h2v1h-2zM20 23h3v1h-3zM20 24h1v1h-1zM22 24h3v1h-3zM20 25h1v1h-1zM26 25h1v1h-1zM17 26h1v1h-1zM19 26h1v1h-1zM20 30h2v1h-2zM9 31h1v1h-1zM19 31h1v1h-1zM22 31h1v1h-1zM9 32h1v1h-1zM20 33h1v1h-1zM9 35h1v1h-1zM6 36h2v1h-2zM10 37h1v1h-1zM7 38h1v1h-1zM8 39h2v1h-2zM19 44h1v1h-1zM19 45h2v1h-2z"/>
<path fill="#2e4600" d="M18 0h1v1h-1zM16 1h3v1h-3zM18 3h2v1h-2zM19 4h1v1h-1zM20 5h1v1h-1zM20 6h1v1h-1zM25 6h2v1h-2zM21 7h2v1h-2zM24 11h3v1h-3zM6 18h1v1h-1zM17 18h1v1h-1zM5 19h1v1h-1zM7 20h1v1h-1zM18 26h1v1h-1zM21 31h1v1h-1zM8 32h1v1h-1zM21 32h1v1h-1zM9 34h1v1h-1zM6 37h2v1h-2zM9 37h1v1h-1z"/>
<path fill="#a20000" d="M1 1h2v1h-2zM1 2h2v1h-2zM7 12h1v1h-1zM12 25h1v1h-1zM11 26h1v1h-1zM26 32h1v1h-1zM26 33h1v1h-1zM16 35h1v1h-1z"/>
<path fill="#170000" d="M11 1h1v1h-1zM6 3h1v1h-1zM10 3h1v1h-1zM0 4h1v1h-1zM3 4h1v1h-1zM5 4h1v1h-1zM8 4h1v1h-1zM1 5h3v1h-3zM0 6h8v1h-8zM9 6h1v1h-1zM1 7h2v1h-2zM4 7h4v1h-4zM0 8h5v1h-5zM0 9h3v1h-3zM4 9h2v1h-2zM0 10h2v1h-2zM3 10h2v1h-2zM1 11h1v1h-1zM3 11h2v1h-2zM10 11h1v1h-1zM5 12h1v1h-1zM1 13h1v1h-1zM12 13h1v1h-1zM0 14h2v1h-2zM0 15h1v1h-1zM11 15h1v1h-1zM10 20h1v1h-1zM0 23h1v1h-1zM0 25h1v1h-1zM1 26h1v1h-1zM3 26h1v1h-1zM1 28h3v1h-3zM3 29h1v1h-1zM1 30h1v1h-1zM3 30h1v1h-1zM0 31h2v1h-2zM3 31h2v1h-2zM0 32h2v1h-2zM15 32h1v1h-1zM1 33h1v1h-1zM16 33h1v1h-1zM0 34h1v1h-1zM0 35h1v1h-1zM0 36h1v1h-1zM0 37h2v1h-2zM0 38h1v1h-1zM2 38h2v1h-2zM21 38h1v1h-1zM14 40h1v1h-1zM15 41h1v1h-1zM26 42h1v1h-1zM26 44h1v1h-1zM1 45h1v1h-1zM3 45h1v1h-1zM6 45h1v1h-1zM15 45h1v1h-1zM0 46h1v1h-1zM5 46h1v1h-1zM13 46h1v1h-1zM17 46h1v1h-1zM5 47h1v1h-1zM16 47h1v1h-1zM25 47h2v1h-2z"/>
<path fill="#171700" d="M24 1h1v1h-1zM26 1h1v1h-1zM23 2h4v1h-4zM25 3h1v1h-1zM11 12h1v1h-1zM15 15h1v1h-1zM13 16h1v1h-1zM16 19h1v1h-1zM9 20h1v1h-1zM14 20h1v1h-1zM15 21h2v1h-2zM15 22h1v1h-1zM17 22h1v1h-1zM21 26h1v1h-1zM19 27h1v1h-1zM9 28h1v1h-1zM21 28h1v1h-1zM6 29h1v1h-1zM8 29h2v1h-2zM8 30h1v1h-1zM10 32h1v1h-1zM3 34h1v1h-1zM1 35h2v1h-2zM12 35h1v1h-1zM3 36h2v1h-2zM2 37h1v1h-1zM5 39h1v1h-1zM18 42h1v1h-1z"/>
<path fill="#2e5d00" d="M15 2h1v1h-1zM17 2h1v1h-1zM15 3h1v1h-1zM24 7h1v1h-1zM21 8h3v1h-3zM24 9h1v1h-1zM23 10h1v1h-1zM25 10h2v1h-2zM25 13h1v1h-1zM18 16h1v1h-1zM16 17h1v1h-1zM7 19h1v1h-1zM25 20h1v1h-1zM17 24h1v1h-1zM19 24h1v1h-1zM17 25h1v1h-1zM9 33h1v1h-1zM8 37h1v1h-1zM8 38h1v1h-1z"/>
<path fill="#2e8b00" d="M16 2h1v1h-1zM18 24h1v1h-1z"/>
<path fill="#174600" d="M18 2h1v1h-1zM17 15h1v1h-1z"/>
<path fill="#468b00" d="M16 3h1v1h-1zM20 7h1v1h-1zM20 9h1v1h-1zM24 14h1v1h-1zM26 21h1v1h-1zM8 33h1v1h-1z"/>
<path fill="#465d00" d="M17 3h1v1h-1zM17 4h1v1h-1zM22 9h2v1h-2zM24 10h1v1h-1zM23 11h1v1h-1zM22 12h3v1h-3zM23 13h1v1h-1zM25 14h1v1h-1zM25 15h1v1h-1zM24 16h1v1h-1zM26 20h1v1h-1zM25 23h1v1h-1zM19 25h1v1h-1z"/>
<path fill="#462e00" d="M20 3h1v1h-1zM15 4h1v1h-1zM15 5h1v1h-1zM21 6h1v1h-1zM24 6h1v1h-1zM14 7h1v1h-1zM14 9h1v1h-1zM14 10h2v1h-2zM16 11h2v1h-2zM16 12h3v1h-3zM18 13h1v1h-1zM18 14h1v1h-1zM19 16h1v1h-1zM19 17h1v1h-1zM21 17h3v1h-3zM20 18h1v1h-1zM23 18h2v1h-2zM18 19h1v1h-1zM21 19h4v1h-4zM26 19h1v1h-1zM21 20h1v1h-1zM23 20h1v1h-1zM21 21h2v1h-2zM21 22h2v1h-2zM19 23h1v1h-1zM23 23h1v1h-1zM25 24h2v1h-2zM24 25h2v1h-2zM23 31h1v1h-1zM7 32h1v1h-1zM22 32h1v1h-1zM21 33h2v1h-2zM7 35h2v1h-2zM8 36h1v1h-1z"/>
<path fill="#464600" d="M16 4h1v1h-1zM18 4h1v1h-1zM19 5h1v1h-1zM15 6h1v1h-1zM23 6h1v1h-1zM23 7h1v1h-1zM14 8h1v1h-1zM25 12h2v1h-2zM26 13h1v1h-1zM26 14h1v1h-1zM26 15h1v1h-1zM23 16h1v1h-1zM25 16h2v1h-2zM18 17h1v1h-1zM24 17h3v1h-3zM25 18h1v1h-1zM25 19h1v1h-1zM24 20h1v1h-1zM23 21h1v1h-1zM23 22h1v1h-1zM24 23h1v1h-1zM26 23h1v1h-1zM19 32h1v1h-1zM20 44h1v1h-1z"/>
<path fill="#000000" d="M0 5h1v1h-1zM0 33h1v1h-1z"/>
<path fill="#2e7400" d="M16 5h1v1h-1zM18 5h1v1h-1zM24 8h1v1h-1zM25 9h2v1h-2zM24 13h1v1h-1zM6 20h1v1h-1zM20 31h1v1h-1zM20 32h1v1h-1z"/>
<path fill="#46b900" d="M17 5h1v1h-1zM18 6h1v1h-1zM20 8h1v1h-1zM25 22h1v1h-1z"/>
<path fill="#172e00" d="M22 5h1v1h-1zM16 15h1v1h-1zM5 36h1v1h-1zM9 36h1v1h-1zM4 37h2v1h-2zM10 38h1v1h-1z"/>
<path fill="#5da200" d="M16 6h1v1h-1z"/>
<path fill="#74d100" d="M17 6h1v1h-1zM18 7h1v1h-1zM18 9h1v1h-1z"/>
<path fill="#467400" d="M19 6h1v1h-1zM21 9h1v1h-1zM24 15h1v1h-1zM24 21h1v1h-1zM24 22h1v1h-1zM26 22h1v1h-1z"/>
<path fill="#741700" d="M12 7h1v1h-1zM26 34h1v1h-1z"/>
<path fill="#5d1700" d="M13 7h1v1h-1zM20 19h1v1h-1zM25 31h2v1h-2zM24 32h1v1h-1zM24 33h1v1h-1zM24 34h2v1h-2zM26 35h1v1h-1zM9 43h1v1h-1z"/>
<path fill="#5d7400" d="M15 7h1v1h-1zM15 9h1v1h-1zM18 10h2v1h-2zM8 34h1v1h-1z"/>
<path fill="#a2d100" d="M16 7h1v1h-1z"/>
<path fill="#d1d100" d="M17 7h1v1h-1z"/>
<path fill="#46d100" d="M19 7h1v1h-1z"/>
<path fill="#2ea200" d="M25 7h2v1h-2zM17 17h1v1h-1zM6 19h1v1h-1zM18 25h1v1h-1z"/>
<path fill="#5d8b00" d="M15 8h1v1h-1z"/>
<path fill="#e8d100" d="M16 8h1v1h-1zM17 9h1v1h-1z"/>
<path fill="#ffd100" d="M17 8h1v1h-1z"/>
<path fill="#8bd100" d="M18 8h1v1h-1z"/>
<path fill="#5dd100" d="M19 8h1v1h-1zM19 9h1v1h-1z"/>
<path fill="#2eb900" d="M25 8h2v1h-2zM25 21h1v1h-1z"/>
<path fill="#b9b900" d="M16 9h1v1h-1z"/>
<path fill="#5d5d00" d="M16 10h1v1h-1zM23 14h1v1h-1z"/>
<path fill="#747400" d="M17 10h1v1h-1z"/>
<path fill="#8b7400" d="M20 10h1v1h-1z"/>
<path fill="#5db900" d="M21 10h1v1h-1z"/>
<path fill="#46a200" d="M22 10h1v1h-1zM22 11h1v1h-1z"/>
<path fill="#5d4600" d="M18 11h1v1h-1zM19 13h1v1h-1zM23 15h1v1h-1zM7 33h1v1h-1zM7 34h1v1h-1z"/>
<path fill="#8b4600" d="M19 11h1v1h-1zM22 13h1v1h-1zM19 14h1v1h-1z"/>
<path fill="#b97400" d="M20 11h1v1h-1z"/>
<path fill="#74b900" d="M21 11h1v1h-1z"/>
<path fill="#d10000" d="M8 12h1v1h-1zM12 26h1v1h-1z"/>
<path fill="#744600" d="M19 12h1v1h-1zM10 41h1v1h-1z"/>
<path fill="#a24600" d="M20 12h1v1h-1zM20 13h1v1h-1z"/>
<path fill="#745d00" d="M21 12h1v1h-1z"/>
<path fill="#b90000" d="M7 13h1v1h-1z"/>
<path fill="#e80000" d="M8 13h1v1h-1z"/>
<path fill="#b94600" d="M21 13h1v1h-1z"/>
<path fill="#8b1700" d="M8 14h1v1h-1zM25 32h1v1h-1z"/>
<path fill="#ff4600" d="M20 14h1v1h-1z"/>
<path fill="#ff2e00" d="M21 14h1v1h-1zM20 15h2v1h-2z"/>
<path fill="#b92e00" d="M22 14h1v1h-1z"/>
<path fill="#8b0000" d="M3 15h1v1h-1zM11 25h1v1h-1zM15 35h1v1h-1zM16 36h1v1h-1zM20 40h1v1h-1zM1 41h2v1h-2z"/>
<path fill="#8b2e00" d="M19 15h1v1h-1zM20 16h1v1h-1zM9 42h1v1h-1z"/>
<path fill="#d12e00" d="M22 15h1v1h-1z"/>
<path fill="#175d00" d="M16 16h1v1h-1zM9 38h1v1h-1z"/>
<path fill="#17a200" d="M17 16h1v1h-1z"/>
<path fill="#a22e00" d="M21 16h1v1h-1z"/>
<path fill="#742e00" d="M22 16h1v1h-1z"/>
<path fill="#5d2e00" d="M20 17h1v1h-1zM22 18h1v1h-1zM22 20h1v1h-1zM25 26h1v1h-1zM9 41h1v1h-1zM11 42h1v1h-1zM10 43h1v1h-1z"/>
<path fill="#a21700" d="M25 33h1v1h-1z"/>
<path fill="#b95d00" d="M10 42h1v1h-1z"/>
</g>
<circle cx="208.70" cy="94.60" r="9.4" fill="none" stroke="#fbbc3a" stroke-width="3.0"/>
<circle cx="89.30" cy="148.30" r="9.4" fill="none" stroke="#fbbc3a" stroke-width="3.0"/>
<circle cx="245.10" cy="165.70" r="9.4" fill="none" stroke="#fbbc3a" stroke-width="3.0"/>
<circle cx="444.10" cy="94.40" r="9.4" fill="none" stroke="#fbbc3a" stroke-width="3.0"/>
<circle cx="324.00" cy="148.40" r="9.4" fill="none" stroke="#fbbc3a" stroke-width="3.0"/>
<circle cx="480.10" cy="165.80" r="9.4" fill="none" stroke="#fbbc3a" stroke-width="3.0"/>
<circle cx="939.70" cy="87.10" r="12.6" fill="none" stroke="#fbbc3a" stroke-width="3.0"/>
<circle cx="978.00" cy="110.20" r="12.6" fill="none" stroke="#fbbc3a" stroke-width="3.0"/>
<circle cx="864.30" cy="305.60" r="12.6" fill="none" stroke="#fbbc3a" stroke-width="3.0"/>
<circle cx="880.60" cy="376.90" r="12.6" fill="none" stroke="#fbbc3a" stroke-width="3.0"/>
<circle cx="1175.30" cy="87.20" r="12.6" fill="none" stroke="#fbbc3a" stroke-width="3.0"/>
<circle cx="1205.40" cy="110.30" r="12.6" fill="none" stroke="#fbbc3a" stroke-width="3.0"/>
<circle cx="1099.90" cy="306.20" r="12.6" fill="none" stroke="#fbbc3a" stroke-width="3.0"/>
<circle cx="1115.90" cy="377.10" r="12.6" fill="none" stroke="#fbbc3a" stroke-width="3.0"/>
<circle cx="808.50" cy="30.50" r="12.6" fill="none" stroke="#fbbc3a" stroke-width="3.0" stroke-dasharray="2.6 2.6"/>
<circle cx="861.00" cy="126.00" r="12.6" fill="none" stroke="#fbbc3a" stroke-width="3.0" stroke-dasharray="2.6 2.6"/>
<circle cx="1044.00" cy="31.00" r="12.6" fill="none" stroke="#fbbc3a" stroke-width="3.0" stroke-dasharray="2.6 2.6"/>
<circle cx="1096.70" cy="126.20" r="12.6" fill="none" stroke="#fbbc3a" stroke-width="3.0" stroke-dasharray="2.6 2.6"/>
<text x="60.06" y="398.80" font-size="40.5" fill="#7ab800" font-family="Liberation Sans" >hStx1</text>
<text x="289.56" y="399.60" font-size="40.5" fill="#d40000" font-family="Liberation Sans" >hStx2</text>
<text x="518.06" y="399.60" font-size="40.5" fill="#80ff00" font-family="Liberation Sans" >Merge</text>
<text x="817.38" y="408.00" font-size="40.5" fill="#7ab800" font-family="Liberation Sans" >Granule</text>
<text x="1049.16" y="412.50" font-size="40.5" fill="#d40000" font-family="Liberation Sans" >hStx2</text>
<text x="1282.66" y="412.00" font-size="40.5" fill="#80ff00" font-family="Liberation Sans" >Merge</text>
<rect x="675" y="394.2" width="40.7" height="6.4" fill="#fff"/>
<rect x="1414" y="393" width="54" height="6.4" fill="#fff"/>
<text x="-1.72" y="22.20" font-size="40.5" fill="#000" font-family="Liberation Sans" >a</text>
<text x="-1.03" y="481.40" font-size="40.5" fill="#000" font-family="Liberation Sans" >b</text>
<text x="754.28" y="24.60" font-size="40.5" fill="#000" font-family="Liberation Sans" >c</text>
<text x="491.68" y="481.50" font-size="40.5" fill="#000" font-family="Liberation Sans" >d</text>
<text x="893.98" y="481.30" font-size="40.5" fill="#000" font-family="Liberation Sans" >e</text>
<text x="3.79" y="946.80" font-size="40.5" fill="#000" font-family="Liberation Sans" >f</text>
<text x="3.08" y="1211.00" font-size="40.5" fill="#000" font-family="Liberation Sans" >g</text>
<text x="645.16" y="1211.40" font-size="40.5" fill="#000" font-family="Liberation Sans" >h</text>
<line x1="125.00" y1="486.50" x2="125.00" y2="768.80" stroke="#000" stroke-width="3" />
<line x1="355.50" y1="486.50" x2="355.50" y2="768.80" stroke="#000" stroke-width="3" />
<line x1="123.50" y1="767.30" x2="357.00" y2="767.30" stroke="#000" stroke-width="3" />
<line x1="112.50" y1="488.40" x2="125.00" y2="488.40" stroke="#000" stroke-width="3" />
<line x1="355.50" y1="488.40" x2="367.50" y2="488.40" stroke="#000" stroke-width="3" />
<line x1="102.00" y1="533.00" x2="125.00" y2="533.00" stroke="#000" stroke-width="3" />
<line x1="355.50" y1="533.00" x2="378.00" y2="533.00" stroke="#000" stroke-width="3" />
<text x="57.49" y="543.60" font-size="30.5" fill="#000" font-family="Liberation Sans" >80</text>
<text x="389.30" y="543.60" font-size="30.5" fill="#000" font-family="Liberation Sans" >80</text>
<line x1="112.50" y1="577.60" x2="125.00" y2="577.60" stroke="#000" stroke-width="3" />
<line x1="355.50" y1="577.60" x2="367.50" y2="577.60" stroke="#000" stroke-width="3" />
<line x1="102.00" y1="622.20" x2="125.00" y2="622.20" stroke="#000" stroke-width="3" />
<line x1="355.50" y1="622.20" x2="378.00" y2="622.20" stroke="#000" stroke-width="3" />
<text x="57.49" y="632.80" font-size="30.5" fill="#000" font-family="Liberation Sans" >60</text>
<text x="389.08" y="632.80" font-size="30.5" fill="#000" font-family="Liberation Sans" >60</text>
<line x1="112.50" y1="666.80" x2="125.00" y2="666.80" stroke="#000" stroke-width="3" />
<line x1="355.50" y1="666.80" x2="367.50" y2="666.80" stroke="#000" stroke-width="3" />
<line x1="102.00" y1="711.40" x2="125.00" y2="711.40" stroke="#000" stroke-width="3" />
<line x1="355.50" y1="711.40" x2="378.00" y2="711.40" stroke="#000" stroke-width="3" />
<text x="57.49" y="722.00" font-size="30.5" fill="#000" font-family="Liberation Sans" >40</text>
<text x="389.91" y="722.00" font-size="30.5" fill="#000" font-family="Liberation Sans" >40</text>
<line x1="112.50" y1="756.00" x2="125.00" y2="756.00" stroke="#000" stroke-width="3" />
<line x1="355.50" y1="756.00" x2="367.50" y2="756.00" stroke="#000" stroke-width="3" />
<line x1="136.20" y1="767.30" x2="136.20" y2="790.40" stroke="#000" stroke-width="3" />
<line x1="177.60" y1="767.30" x2="177.60" y2="779.60" stroke="#000" stroke-width="3" />
<line x1="219.00" y1="767.30" x2="219.00" y2="790.40" stroke="#000" stroke-width="3" />
<line x1="260.60" y1="767.30" x2="260.60" y2="779.60" stroke="#000" stroke-width="3" />
<line x1="302.00" y1="767.30" x2="302.00" y2="790.40" stroke="#000" stroke-width="3" />
<line x1="343.60" y1="767.30" x2="343.60" y2="779.60" stroke="#000" stroke-width="3" />
<text x="127.70" y="829.80" font-size="30.5" fill="#000" font-family="Liberation Sans" >0</text>
<text x="184.94" y="829.80" font-size="30.5" fill="#000" font-family="Liberation Sans" >4000</text>
<text x="267.83" y="829.80" font-size="30.5" fill="#000" font-family="Liberation Sans" >8000</text>
<text x="104.23" y="874.40" font-size="30.5" fill="#000" font-family="Liberation Sans" >Surroundings (C.U.)</text>
<text transform="translate(42.20,620.00) rotate(-90)" x="-124.33" y="0" font-size="30.5" fill="#000">Stx1 with Stx2 (%)</text>
<text transform="translate(437.50,624.00) rotate(90)" x="-124.33" y="0" font-size="30.5" fill="#cc0000">Stx2 with Stx1 (%)</text>
<line x1="143.30" y1="590.30" x2="143.30" y2="611.10" stroke="#000" stroke-width="3" />
<line x1="136.30" y1="590.30" x2="150.30" y2="590.30" stroke="#000" stroke-width="3" />
<line x1="136.30" y1="611.10" x2="150.30" y2="611.10" stroke="#000" stroke-width="3" />
<line x1="149.20" y1="539.90" x2="149.20" y2="586.30" stroke="#000" stroke-width="3" />
<line x1="142.20" y1="539.90" x2="156.20" y2="539.90" stroke="#000" stroke-width="3" />
<line x1="142.20" y1="586.30" x2="156.20" y2="586.30" stroke="#000" stroke-width="3" />
<line x1="174.90" y1="561.30" x2="174.90" y2="598.30" stroke="#000" stroke-width="3" />
<line x1="167.90" y1="561.30" x2="181.90" y2="561.30" stroke="#000" stroke-width="3" />
<line x1="167.90" y1="598.30" x2="181.90" y2="598.30" stroke="#000" stroke-width="3" />
<line x1="226.30" y1="573.40" x2="226.30" y2="592.20" stroke="#000" stroke-width="3" />
<line x1="219.30" y1="573.40" x2="233.30" y2="573.40" stroke="#000" stroke-width="3" />
<line x1="219.30" y1="592.20" x2="233.30" y2="592.20" stroke="#000" stroke-width="3" />
<line x1="274.70" y1="566.80" x2="274.70" y2="586.90" stroke="#000" stroke-width="3" />
<line x1="267.70" y1="566.80" x2="281.70" y2="566.80" stroke="#000" stroke-width="3" />
<line x1="267.70" y1="586.90" x2="281.70" y2="586.90" stroke="#000" stroke-width="3" />
<line x1="238.70" y1="606.80" x2="238.70" y2="635.00" stroke="#000" stroke-width="3" />
<line x1="231.70" y1="606.80" x2="245.70" y2="606.80" stroke="#000" stroke-width="3" />
<line x1="231.70" y1="635.00" x2="245.70" y2="635.00" stroke="#000" stroke-width="3" />
<line x1="257.80" y1="558.70" x2="257.80" y2="597.20" stroke="#000" stroke-width="3" />
<line x1="250.80" y1="558.70" x2="264.80" y2="558.70" stroke="#000" stroke-width="3" />
<line x1="250.80" y1="597.20" x2="264.80" y2="597.20" stroke="#000" stroke-width="3" />
<line x1="315.40" y1="559.90" x2="315.40" y2="620.60" stroke="#000" stroke-width="3" />
<line x1="308.40" y1="559.90" x2="322.40" y2="559.90" stroke="#000" stroke-width="3" />
<line x1="308.40" y1="620.60" x2="322.40" y2="620.60" stroke="#000" stroke-width="3" />
<line x1="152.40" y1="604.50" x2="152.40" y2="640.20" stroke="#cc0000" stroke-width="3" />
<line x1="145.40" y1="604.50" x2="159.40" y2="604.50" stroke="#cc0000" stroke-width="3" />
<line x1="145.40" y1="640.20" x2="159.40" y2="640.20" stroke="#cc0000" stroke-width="3" />
<line x1="156.60" y1="546.70" x2="156.60" y2="584.00" stroke="#cc0000" stroke-width="3" />
<line x1="149.60" y1="546.70" x2="163.60" y2="546.70" stroke="#cc0000" stroke-width="3" />
<line x1="149.60" y1="584.00" x2="163.60" y2="584.00" stroke="#cc0000" stroke-width="3" />
<line x1="204.30" y1="554.70" x2="204.30" y2="592.80" stroke="#cc0000" stroke-width="3" />
<line x1="197.30" y1="554.70" x2="211.30" y2="554.70" stroke="#cc0000" stroke-width="3" />
<line x1="197.30" y1="592.80" x2="211.30" y2="592.80" stroke="#cc0000" stroke-width="3" />
<line x1="234.80" y1="565.30" x2="234.80" y2="612.60" stroke="#cc0000" stroke-width="3" />
<line x1="227.80" y1="565.30" x2="241.80" y2="565.30" stroke="#cc0000" stroke-width="3" />
<line x1="227.80" y1="612.60" x2="241.80" y2="612.60" stroke="#cc0000" stroke-width="3" />
<line x1="268.40" y1="581.20" x2="268.40" y2="628.40" stroke="#cc0000" stroke-width="3" />
<line x1="261.40" y1="581.20" x2="275.40" y2="581.20" stroke="#cc0000" stroke-width="3" />
<line x1="261.40" y1="628.40" x2="275.40" y2="628.40" stroke="#cc0000" stroke-width="3" />
<line x1="249.50" y1="572.20" x2="249.50" y2="621.10" stroke="#cc0000" stroke-width="3" />
<line x1="242.50" y1="572.20" x2="256.50" y2="572.20" stroke="#cc0000" stroke-width="3" />
<line x1="242.50" y1="621.10" x2="256.50" y2="621.10" stroke="#cc0000" stroke-width="3" />
<line x1="289.10" y1="515.40" x2="289.10" y2="565.60" stroke="#cc0000" stroke-width="3" />
<line x1="282.10" y1="515.40" x2="296.10" y2="515.40" stroke="#cc0000" stroke-width="3" />
<line x1="282.10" y1="565.60" x2="296.10" y2="565.60" stroke="#cc0000" stroke-width="3" />
<line x1="304.00" y1="582.90" x2="304.00" y2="611.50" stroke="#cc0000" stroke-width="3" />
<line x1="297.00" y1="582.90" x2="311.00" y2="582.90" stroke="#cc0000" stroke-width="3" />
<line x1="297.00" y1="611.50" x2="311.00" y2="611.50" stroke="#cc0000" stroke-width="3" />
<line x1="326.50" y1="537.40" x2="326.50" y2="576.00" stroke="#cc0000" stroke-width="3" />
<line x1="319.50" y1="537.40" x2="333.50" y2="537.40" stroke="#cc0000" stroke-width="3" />
<line x1="319.50" y1="576.00" x2="333.50" y2="576.00" stroke="#cc0000" stroke-width="3" />
<circle cx="143.30" cy="600.50" r="7.2" fill="#000" stroke="none" stroke-width="0"/>
<circle cx="149.20" cy="563.10" r="7.2" fill="#000" stroke="none" stroke-width="0"/>
<circle cx="174.90" cy="579.70" r="7.2" fill="#000" stroke="none" stroke-width="0"/>
<circle cx="226.30" cy="582.60" r="7.2" fill="#000" stroke="none" stroke-width="0"/>
<circle cx="274.70" cy="576.80" r="7.2" fill="#000" stroke="none" stroke-width="0"/>
<circle cx="238.70" cy="621.10" r="6.9" fill="none" stroke="#000" stroke-width="1.6"/>
<circle cx="257.80" cy="578.20" r="6.9" fill="none" stroke="#000" stroke-width="1.6"/>
<circle cx="269.60" cy="592.50" r="6.9" fill="none" stroke="#000" stroke-width="1.6"/>
<circle cx="315.40" cy="590.60" r="6.9" fill="none" stroke="#000" stroke-width="1.6"/>
<polygon points="152.40,613.70 161.00,626.50 143.80,626.50" fill="#cc0000"/>
<polygon points="156.60,557.20 165.20,569.00 148.00,569.00" fill="#cc0000"/>
<polygon points="204.30,566.00 212.90,578.20 195.70,578.20" fill="#cc0000"/>
<polygon points="234.80,580.00 243.40,593.20 226.20,593.20" fill="#cc0000"/>
<polygon points="268.40,596.10 277.00,608.90 259.80,608.90" fill="#cc0000"/>
<polygon points="249.50,589.20 257.10,600.10 241.90,600.10" fill="none" stroke="#cc0000" stroke-width="1.9"/>
<polygon points="289.10,534.70 296.70,543.90 281.50,543.90" fill="none" stroke="#cc0000" stroke-width="1.9"/>
<polygon points="304.00,589.20 311.60,600.40 296.40,600.40" fill="none" stroke="#cc0000" stroke-width="1.9"/>
<polygon points="326.50,549.60 334.10,560.00 318.90,560.00" fill="none" stroke="#cc0000" stroke-width="1.9"/>
<line x1="667.80" y1="493.70" x2="667.80" y2="767.50" stroke="#000" stroke-width="3" />
<line x1="644.80" y1="766.00" x2="884.50" y2="766.00" stroke="#000" stroke-width="3" />
<line x1="645.80" y1="495.20" x2="667.80" y2="495.20" stroke="#000" stroke-width="3" />
<line x1="656.30" y1="540.33" x2="667.80" y2="540.33" stroke="#000" stroke-width="3" />
<line x1="645.80" y1="585.47" x2="667.80" y2="585.47" stroke="#000" stroke-width="3" />
<line x1="656.30" y1="630.60" x2="667.80" y2="630.60" stroke="#000" stroke-width="3" />
<line x1="645.80" y1="675.73" x2="667.80" y2="675.73" stroke="#000" stroke-width="3" />
<line x1="656.30" y1="720.87" x2="667.80" y2="720.87" stroke="#000" stroke-width="3" />
<text x="582.28" y="505.80" font-size="30.5" fill="#000" font-family="Liberation Sans" >100</text>
<text x="599.29" y="596.07" font-size="30.5" fill="#000" font-family="Liberation Sans" >80</text>
<text x="599.29" y="686.33" font-size="30.5" fill="#000" font-family="Liberation Sans" >60</text>
<text x="599.29" y="776.60" font-size="30.5" fill="#000" font-family="Liberation Sans" >40</text>
<line x1="680.00" y1="766.00" x2="680.00" y2="789.00" stroke="#000" stroke-width="3" />
<line x1="730.70" y1="766.00" x2="730.70" y2="778.50" stroke="#000" stroke-width="3" />
<line x1="781.30" y1="766.00" x2="781.30" y2="789.00" stroke="#000" stroke-width="3" />
<line x1="831.30" y1="766.00" x2="831.30" y2="778.50" stroke="#000" stroke-width="3" />
<line x1="882.00" y1="766.00" x2="882.00" y2="789.00" stroke="#000" stroke-width="3" />
<text x="671.50" y="830.00" font-size="30.5" fill="#000" font-family="Liberation Sans" >0</text>
<text x="763.80" y="830.00" font-size="30.5" fill="#000" font-family="Liberation Sans" >10</text>
<text x="835.08" y="839.50" font-size="30.5" fill="#000" font-family="Liberation Sans" >20x10</text>
<text x="918.68" y="820.30" font-size="21" fill="#000" font-family="Liberation Sans" >3</text>
<text x="645.23" y="884.60" font-size="30.5" fill="#000" font-family="Liberation Sans" >Surroundings (C.U.)</text>
<text transform="translate(565.00,632.50) rotate(-90)" x="-148.15" y="0" font-size="30.5" fill="#000">Granule with Stx2 (%)</text>
<line x1="689.60" y1="533.60" x2="689.60" y2="588.50" stroke="#000" stroke-width="3" />
<line x1="682.60" y1="533.60" x2="696.60" y2="533.60" stroke="#000" stroke-width="3" />
<line x1="682.60" y1="588.50" x2="696.60" y2="588.50" stroke="#000" stroke-width="3" />
<line x1="704.00" y1="591.00" x2="704.00" y2="630.90" stroke="#000" stroke-width="3" />
<line x1="697.00" y1="591.00" x2="711.00" y2="591.00" stroke="#000" stroke-width="3" />
<line x1="697.00" y1="630.90" x2="711.00" y2="630.90" stroke="#000" stroke-width="3" />
<line x1="746.30" y1="565.80" x2="746.30" y2="608.20" stroke="#000" stroke-width="3" />
<line x1="739.30" y1="565.80" x2="753.30" y2="565.80" stroke="#000" stroke-width="3" />
<line x1="739.30" y1="608.20" x2="753.30" y2="608.20" stroke="#000" stroke-width="3" />
<line x1="803.70" y1="600.80" x2="803.70" y2="656.30" stroke="#000" stroke-width="3" />
<line x1="796.70" y1="600.80" x2="810.70" y2="600.80" stroke="#000" stroke-width="3" />
<line x1="796.70" y1="656.30" x2="810.70" y2="656.30" stroke="#000" stroke-width="3" />
<line x1="773.00" y1="591.60" x2="773.00" y2="637.00" stroke="#000" stroke-width="3" />
<line x1="766.00" y1="591.60" x2="780.00" y2="591.60" stroke="#000" stroke-width="3" />
<line x1="766.00" y1="637.00" x2="780.00" y2="637.00" stroke="#000" stroke-width="3" />
<line x1="837.50" y1="569.50" x2="837.50" y2="625.30" stroke="#000" stroke-width="3" />
<line x1="830.50" y1="569.50" x2="844.50" y2="569.50" stroke="#000" stroke-width="3" />
<line x1="830.50" y1="625.30" x2="844.50" y2="625.30" stroke="#000" stroke-width="3" />
<circle cx="689.60" cy="561.20" r="7.4" fill="#000" stroke="none" stroke-width="0"/>
<circle cx="704.00" cy="611.80" r="7.4" fill="#000" stroke="none" stroke-width="0"/>
<circle cx="746.30" cy="587.30" r="7.4" fill="#000" stroke="none" stroke-width="0"/>
<circle cx="803.70" cy="628.70" r="7.4" fill="#000" stroke="none" stroke-width="0"/>
<circle cx="773.00" cy="614.30" r="6.9" fill="none" stroke="#000" stroke-width="1.6"/>
<circle cx="837.50" cy="598.00" r="6.9" fill="none" stroke="#000" stroke-width="1.6"/>
<line x1="1063.80" y1="483.10" x2="1063.80" y2="767.70" stroke="#000" stroke-width="3" />
<line x1="1041.80" y1="766.20" x2="1452.50" y2="766.20" stroke="#000" stroke-width="3" />
<line x1="1041.80" y1="484.60" x2="1063.80" y2="484.60" stroke="#000" stroke-width="3" />
<line x1="1041.80" y1="555.00" x2="1063.80" y2="555.00" stroke="#000" stroke-width="3" />
<line x1="1041.80" y1="625.40" x2="1063.80" y2="625.40" stroke="#000" stroke-width="3" />
<line x1="1041.80" y1="695.80" x2="1063.80" y2="695.80" stroke="#000" stroke-width="3" />
<text x="980.28" y="495.20" font-size="30.5" fill="#000" font-family="Liberation Sans" >800</text>
<text x="980.28" y="565.60" font-size="30.5" fill="#000" font-family="Liberation Sans" >600</text>
<text x="980.28" y="636.00" font-size="30.5" fill="#000" font-family="Liberation Sans" >400</text>
<text x="980.28" y="706.40" font-size="30.5" fill="#000" font-family="Liberation Sans" >200</text>
<text x="1014.22" y="776.80" font-size="30.5" fill="#000" font-family="Liberation Sans" >0</text>
<line x1="1063.80" y1="766.20" x2="1063.80" y2="788.00" stroke="#000" stroke-width="3" />
<line x1="1160.60" y1="766.20" x2="1160.60" y2="788.00" stroke="#000" stroke-width="3" />
<line x1="1257.40" y1="766.20" x2="1257.40" y2="788.00" stroke="#000" stroke-width="3" />
<line x1="1354.20" y1="766.20" x2="1354.20" y2="788.00" stroke="#000" stroke-width="3" />
<line x1="1451.00" y1="766.20" x2="1451.00" y2="788.00" stroke="#000" stroke-width="3" />
<text x="1055.30" y="828.50" font-size="30.5" fill="#000" font-family="Liberation Sans" >0</text>
<text x="1152.14" y="828.50" font-size="30.5" fill="#000" font-family="Liberation Sans" >5</text>
<text x="1239.90" y="828.50" font-size="30.5" fill="#000" font-family="Liberation Sans" >10</text>
<text x="1336.74" y="828.50" font-size="30.5" fill="#000" font-family="Liberation Sans" >15</text>
<text x="1403.47" y="839.80" font-size="30.5" fill="#000" font-family="Liberation Sans" >20x10</text>
<text x="1487.08" y="820.30" font-size="21" fill="#000" font-family="Liberation Sans" >3</text>
<text x="1121.43" y="884.40" font-size="30.5" fill="#000" font-family="Liberation Sans" >Surroundings (C.U.)</text>
<text transform="translate(956.50,625.70) rotate(-90)" x="-63.94" y="0" font-size="30.5" fill="#000">ΔF (C.U.)</text>
<polyline points="1063.80,766.20 1063.80,766.15 1063.81,766.00 1063.82,765.76 1063.84,765.41 1063.86,764.97 1063.89,764.44 1063.92,763.81 1063.95,763.09 1064.00,762.27 1064.04,761.37 1064.09,760.39 1064.15,759.32 1064.21,758.17 1064.27,756.95 1064.34,755.65 1064.42,754.27 1064.50,752.84 1064.58,751.33 1064.67,749.77 1064.77,748.14 1064.87,746.47 1064.97,744.74 1065.08,742.97 1065.19,741.15 1065.31,739.29 1065.44,737.40 1065.56,735.47 1065.70,733.52 1065.84,731.53 1065.98,729.53 1066.13,727.50 1066.28,725.46 1066.44,723.40 1066.60,721.33 1066.76,719.25 1066.94,717.17 1067.11,715.08 1067.29,712.99 1067.48,710.90 1067.67,708.82 1067.87,706.74 1068.07,704.67 1068.27,702.60 1068.49,700.55 1068.70,698.50 1068.92,696.47 1069.15,694.46 1069.38,692.46 1069.61,690.48 1069.85,688.51 1070.09,686.57 1070.34,684.64 1070.60,682.74 1070.86,680.86 1071.12,678.99 1071.39,677.15 1071.66,675.34 1071.94,673.54 1072.22,671.77 1072.51,670.03 1072.80,668.31 1073.10,666.61 1073.40,664.94 1073.71,663.29 1074.02,661.67 1074.34,660.07 1074.66,658.49 1074.99,656.94 1075.32,655.42 1075.66,653.92 1076.00,652.44 1076.35,650.99 1076.70,649.56 1077.05,648.16 1077.41,646.78 1077.78,645.42 1078.15,644.09 1078.52,642.78 1078.90,641.49 1079.29,640.22 1079.68,638.98 1080.07,637.75 1080.47,636.55 1080.88,635.37 1081.28,634.22 1081.70,633.08 1082.12,631.96 1082.54,630.86 1082.97,629.78 1083.40,628.72 1083.84,627.68 1084.28,626.66 1084.73,625.66 1085.18,624.67 1085.64,623.71 1086.10,622.75 1086.57,621.82 1087.04,620.91 1087.52,620.01 1088.00,619.12 1088.49,618.25 1088.98,617.40 1089.47,616.56 1089.97,615.74 1090.48,614.93 1090.99,614.14 1091.51,613.36 1092.03,612.60 1092.55,611.85 1093.08,611.11 1093.62,610.38 1094.16,609.67 1094.70,608.97 1095.25,608.28 1095.80,607.61 1096.36,606.94 1096.93,606.29 1097.50,605.65 1098.07,605.02 1098.65,604.40 1099.23,603.79 1099.82,603.20 1100.41,602.61 1101.01,602.03 1101.61,601.46 1102.22,600.91 1102.83,600.36 1103.45,599.82 1104.07,599.29 1104.70,598.77 1105.33,598.25 1105.97,597.75 1106.61,597.26 1107.25,596.77 1107.90,596.29 1108.56,595.82 1109.22,595.35 1109.89,594.90 1110.56,594.45 1111.23,594.01 1111.91,593.58 1112.60,593.15 1113.29,592.73 1113.98,592.32 1114.68,591.91 1115.38,591.51 1116.09,591.11 1116.81,590.73 1117.53,590.35 1118.25,589.97 1118.98,589.60 1119.71,589.24 1120.45,588.88 1121.19,588.53 1121.94,588.18 1122.69,587.84 1123.45,587.50 1124.21,587.17 1124.98,586.84 1125.75,586.52 1126.53,586.20 1127.31,585.89 1128.10,585.58 1128.89,585.28 1129.68,584.98 1130.49,584.69 1131.29,584.40 1132.10,584.11 1132.92,583.83 1133.74,583.56 1134.56,583.28 1135.39,583.01 1136.23,582.75 1137.07,582.49 1137.91,582.23 1138.76,581.98 1139.62,581.73 1140.48,581.48 1141.34,581.24 1142.21,581.00 1143.08,580.76 1143.96,580.53 1144.84,580.30 1145.73,580.07 1146.62,579.85 1147.52,579.63 1148.42,579.41 1149.33,579.19 1150.24,578.98 1151.16,578.77 1152.08,578.57 1153.01,578.36 1153.94,578.16 1154.88,577.97 1155.82,577.77 1156.77,577.58 1157.72,577.39 1158.67,577.20 1159.63,577.02 1160.60,576.83 1161.57,576.65 1162.55,576.47 1163.53,576.30 1164.51,576.13 1165.50,575.95 1166.50,575.79 1167.49,575.62 1168.50,575.45 1169.51,575.29 1170.52,575.13 1171.54,574.97 1172.56,574.82 1173.59,574.66 1174.63,574.51 1175.66,574.36 1176.71,574.21 1177.76,574.06 1178.81,573.92 1179.87,573.77 1180.93,573.63 1182.00,573.49 1183.07,573.35 1184.14,573.21 1185.23,573.08 1186.31,572.95 1187.40,572.81 1188.50,572.68 1189.60,572.55 1190.71,572.43 1191.82,572.30 1192.93,572.18 1194.05,572.05 1195.18,571.93 1196.31,571.81 1197.44,571.69 1198.58,571.58 1199.73,571.46 1200.88,571.35 1202.03,571.23 1203.19,571.12 1204.36,571.01 1205.52,570.90 1206.70,570.79 1207.88,570.68 1209.06,570.58 1210.25,570.47 1211.44,570.37 1212.64,570.27 1213.84,570.17 1215.05,570.07 1216.26,569.97 1217.48,569.87 1218.70,569.77 1219.93,569.68 1221.16,569.58 1222.40,569.49 1223.64,569.39 1224.88,569.30 1226.14,569.21 1227.39,569.12 1228.65,569.03 1229.92,568.94 1231.19,568.86 1232.46,568.77 1233.74,568.69 1235.03,568.60 1236.32,568.52 1237.61,568.43 1238.91,568.35 1240.22,568.27 1241.53,568.19 1242.84,568.11 1244.16,568.03 1245.48,567.96 1246.81,567.88 1248.15,567.80 1249.48,567.73 1250.83,567.65 1252.18,567.58 1253.53,567.51 1254.89,567.43 1256.25,567.36 1257.62,567.29 1258.99,567.22 1260.36,567.15 1261.75,567.08 1263.13,567.01 1264.52,566.95 1265.92,566.88 1267.32,566.81 1268.73,566.75 1270.14,566.68 1271.55,566.62 1272.98,566.55 1274.40,566.49 1275.83,566.43 1277.27,566.37 1278.71,566.30 1280.15,566.24 1281.60,566.18 1283.05,566.12 1284.51,566.06 1285.98,566.01 1287.45,565.95 1288.92,565.89 1290.40,565.83 1291.88,565.78 1293.37,565.72 1294.86,565.67 1296.36,565.61 1297.86,565.56 1299.37,565.50 1300.88,565.45 1302.40,565.40 1303.92,565.34 1305.45,565.29 1306.98,565.24 1308.52,565.19 1310.06,565.14 1311.61,565.09 1313.16,565.04 1314.72,564.99 1316.28,564.94 1317.84,564.89 1319.41,564.84 1320.99,564.80 1322.57,564.75 1324.15,564.70 1325.74,564.65 1327.34,564.61 1328.94,564.56 1330.54,564.52 1332.15,564.47 1333.77,564.43 1335.38,564.38 1337.01,564.34 1338.64,564.30 1340.27,564.25 1341.91,564.21 1343.55,564.17 1345.20,564.13 1346.85,564.09 1348.51,564.05 1350.17,564.00 1351.84,563.96 1353.51,563.92 1355.19,563.88 1356.87,563.84 1358.56,563.81 1360.25,563.77 1361.95,563.73 1363.65,563.69 1365.35,563.65 1367.06,563.61 1368.78,563.58 1370.50,563.54 1372.23,563.50 1373.96,563.47 1375.69,563.43 1377.43,563.39 1379.18,563.36 1380.93,563.32 1382.68,563.29 1384.44,563.25 1386.20,563.22 1387.97,563.19 1389.75,563.15 1391.53,563.12 1393.31,563.08 1395.10,563.05 1396.89,563.02 1398.69,562.99 1400.49,562.95 1402.30,562.92 1404.11,562.89 1405.93,562.86 1407.75,562.83 1409.58,562.80 1411.41,562.77 1413.25,562.73 1415.09,562.70 1416.94,562.67 1418.79,562.64 1420.64,562.61 1422.50,562.58 1424.37,562.56 1426.24,562.53 1428.12,562.50 1430.00,562.47 1431.88,562.44 1433.77,562.41 1435.67,562.38 1437.57,562.36 1439.47,562.33 1441.38,562.30 1443.29,562.27 1445.21,562.25 1447.14,562.22 1449.07,562.19 1451.00,562.17" fill="none" stroke="#d2480c" stroke-width="3" stroke-dasharray="19.5 19.5"/>
<line x1="1072.00" y1="658.00" x2="1072.00" y2="694.00" stroke="#000" stroke-width="3" />
<line x1="1065.00" y1="658.00" x2="1079.00" y2="658.00" stroke="#000" stroke-width="3" />
<line x1="1065.00" y1="694.00" x2="1079.00" y2="694.00" stroke="#000" stroke-width="3" />
<line x1="1077.00" y1="628.00" x2="1077.00" y2="663.00" stroke="#000" stroke-width="3" />
<line x1="1070.00" y1="628.00" x2="1084.00" y2="628.00" stroke="#000" stroke-width="3" />
<line x1="1070.00" y1="663.00" x2="1084.00" y2="663.00" stroke="#000" stroke-width="3" />
<line x1="1079.00" y1="618.00" x2="1079.00" y2="654.70" stroke="#000" stroke-width="3" />
<line x1="1072.00" y1="618.00" x2="1086.00" y2="618.00" stroke="#000" stroke-width="3" />
<line x1="1072.00" y1="654.70" x2="1086.00" y2="654.70" stroke="#000" stroke-width="3" />
<line x1="1091.40" y1="601.90" x2="1091.40" y2="641.50" stroke="#000" stroke-width="3" />
<line x1="1084.40" y1="601.90" x2="1098.40" y2="601.90" stroke="#000" stroke-width="3" />
<line x1="1084.40" y1="641.50" x2="1098.40" y2="641.50" stroke="#000" stroke-width="3" />
<line x1="1103.00" y1="575.00" x2="1103.00" y2="614.00" stroke="#000" stroke-width="3" />
<line x1="1096.00" y1="575.00" x2="1110.00" y2="575.00" stroke="#000" stroke-width="3" />
<line x1="1096.00" y1="614.00" x2="1110.00" y2="614.00" stroke="#000" stroke-width="3" />
<line x1="1113.30" y1="559.00" x2="1113.30" y2="601.00" stroke="#000" stroke-width="3" />
<line x1="1106.30" y1="559.00" x2="1120.30" y2="559.00" stroke="#000" stroke-width="3" />
<line x1="1106.30" y1="601.00" x2="1120.30" y2="601.00" stroke="#000" stroke-width="3" />
<line x1="1163.30" y1="563.00" x2="1163.30" y2="606.00" stroke="#000" stroke-width="3" />
<line x1="1156.30" y1="563.00" x2="1170.30" y2="563.00" stroke="#000" stroke-width="3" />
<line x1="1156.30" y1="606.00" x2="1170.30" y2="606.00" stroke="#000" stroke-width="3" />
<line x1="1174.80" y1="544.50" x2="1174.80" y2="590.70" stroke="#000" stroke-width="3" />
<line x1="1167.80" y1="544.50" x2="1181.80" y2="544.50" stroke="#000" stroke-width="3" />
<line x1="1167.80" y1="590.70" x2="1181.80" y2="590.70" stroke="#000" stroke-width="3" />
<line x1="1200.00" y1="548.00" x2="1200.00" y2="601.00" stroke="#000" stroke-width="3" />
<line x1="1193.00" y1="548.00" x2="1207.00" y2="548.00" stroke="#000" stroke-width="3" />
<line x1="1193.00" y1="601.00" x2="1207.00" y2="601.00" stroke="#000" stroke-width="3" />
<line x1="1204.00" y1="530.00" x2="1204.00" y2="590.70" stroke="#000" stroke-width="3" />
<line x1="1197.00" y1="530.00" x2="1211.00" y2="530.00" stroke="#000" stroke-width="3" />
<line x1="1197.00" y1="590.70" x2="1211.00" y2="590.70" stroke="#000" stroke-width="3" />
<line x1="1255.00" y1="530.00" x2="1255.00" y2="594.00" stroke="#000" stroke-width="3" />
<line x1="1248.00" y1="530.00" x2="1262.00" y2="530.00" stroke="#000" stroke-width="3" />
<line x1="1248.00" y1="594.00" x2="1262.00" y2="594.00" stroke="#000" stroke-width="3" />
<line x1="1349.50" y1="535.00" x2="1349.50" y2="597.00" stroke="#000" stroke-width="3" />
<line x1="1342.50" y1="535.00" x2="1356.50" y2="535.00" stroke="#000" stroke-width="3" />
<line x1="1342.50" y1="597.00" x2="1356.50" y2="597.00" stroke="#000" stroke-width="3" />
<circle cx="1072.00" cy="676.60" r="6.9" fill="#000" stroke="none" stroke-width="0"/>
<circle cx="1077.00" cy="645.20" r="6.9" fill="#000" stroke="none" stroke-width="0"/>
<circle cx="1079.00" cy="637.00" r="6.9" fill="#000" stroke="none" stroke-width="0"/>
<circle cx="1091.40" cy="620.90" r="6.9" fill="#000" stroke="none" stroke-width="0"/>
<circle cx="1103.00" cy="594.90" r="6.9" fill="#000" stroke="none" stroke-width="0"/>
<circle cx="1113.30" cy="580.40" r="6.9" fill="#000" stroke="none" stroke-width="0"/>
<circle cx="1163.30" cy="584.50" r="6.9" fill="#000" stroke="none" stroke-width="0"/>
<circle cx="1174.80" cy="567.20" r="6.9" fill="#000" stroke="none" stroke-width="0"/>
<circle cx="1200.00" cy="574.20" r="6.9" fill="#000" stroke="none" stroke-width="0"/>
<circle cx="1204.00" cy="560.60" r="6.9" fill="#000" stroke="none" stroke-width="0"/>
<circle cx="1255.00" cy="562.20" r="6.9" fill="#000" stroke="none" stroke-width="0"/>
<circle cx="1349.50" cy="566.00" r="6.9" fill="#000" stroke="none" stroke-width="0"/>
<text x="1225.58" y="689.60" font-size="30.5" fill="#000" font-family="Liberation Sans" >B</text>
<text x="1245.93" y="696.50" font-size="21.5" fill="#000" font-family="Liberation Sans" >max</text>
<text x="1286.54" y="689.60" font-size="30.5" fill="#000" font-family="Liberation Sans" >= 595 C.U.</text>
<text x="1253.94" y="737.90" font-size="30.5" fill="#000" font-family="Liberation Sans" >k= 530 C.U.</text>
<line x1="148.90" y1="1195.70" x2="148.90" y2="1452.90" stroke="#000" stroke-width="3" />
<line x1="126.00" y1="1451.40" x2="570.40" y2="1451.40" stroke="#000" stroke-width="3" />
<line x1="126.00" y1="1210.80" x2="148.90" y2="1210.80" stroke="#000" stroke-width="3" />
<line x1="126.00" y1="1270.95" x2="148.90" y2="1270.95" stroke="#000" stroke-width="3" />
<line x1="126.00" y1="1331.10" x2="148.90" y2="1331.10" stroke="#000" stroke-width="3" />
<line x1="126.00" y1="1391.25" x2="148.90" y2="1391.25" stroke="#000" stroke-width="3" />
<text x="84.29" y="1221.40" font-size="30.5" fill="#000" font-family="Liberation Sans" >80</text>
<text x="84.29" y="1281.55" font-size="30.5" fill="#000" font-family="Liberation Sans" >60</text>
<text x="84.29" y="1341.70" font-size="30.5" fill="#000" font-family="Liberation Sans" >40</text>
<text x="84.29" y="1401.85" font-size="30.5" fill="#000" font-family="Liberation Sans" >20</text>
<text x="101.22" y="1462.00" font-size="30.5" fill="#000" font-family="Liberation Sans" >0</text>
<line x1="148.90" y1="1451.40" x2="148.90" y2="1473.00" stroke="#000" stroke-width="3" />
<line x1="205.00" y1="1451.40" x2="205.00" y2="1463.40" stroke="#000" stroke-width="3" />
<line x1="261.10" y1="1451.40" x2="261.10" y2="1473.00" stroke="#000" stroke-width="3" />
<line x1="317.20" y1="1451.40" x2="317.20" y2="1463.40" stroke="#000" stroke-width="3" />
<line x1="373.30" y1="1451.40" x2="373.30" y2="1473.00" stroke="#000" stroke-width="3" />
<line x1="429.40" y1="1451.40" x2="429.40" y2="1463.40" stroke="#000" stroke-width="3" />
<line x1="485.50" y1="1451.40" x2="485.50" y2="1473.00" stroke="#000" stroke-width="3" />
<line x1="541.60" y1="1451.40" x2="541.60" y2="1463.40" stroke="#000" stroke-width="3" />
<text x="140.40" y="1513.80" font-size="30.5" fill="#000" font-family="Liberation Sans" >0</text>
<text x="252.71" y="1513.80" font-size="30.5" fill="#000" font-family="Liberation Sans" >4</text>
<text x="364.84" y="1513.80" font-size="30.5" fill="#000" font-family="Liberation Sans" >8</text>
<text x="440.61" y="1525.80" font-size="30.5" fill="#000" font-family="Liberation Sans" >12x10</text>
<text x="524.22" y="1505.40" font-size="20.5" fill="#000" font-family="Liberation Sans" >3</text>
<text x="224.03" y="1572.90" font-size="30.5" fill="#000" font-family="Liberation Sans" >S+E (molecule/</text>
<text x="431.69" y="1572.90" font-size="30.5" fill="#000" font-family="Liberation Serif" >μ</text>
<text x="448.05" y="1572.90" font-size="30.5" fill="#000" font-family="Liberation Sans" >m</text>
<text x="474.25" y="1552.80" font-size="20.5" fill="#000" font-family="Liberation Sans" >2</text>
<text x="486.15" y="1572.90" font-size="30.5" fill="#000" font-family="Liberation Sans" >)</text>
<text transform="translate(53.50,1332.70) rotate(-90)" x="-94.59" y="0" font-size="30.5" fill="#000">Copy Number</text>
<polyline points="148.90,1451.40 148.90,1451.36 148.91,1451.22 148.92,1451.00 148.94,1450.70 148.97,1450.30 148.99,1449.82 149.03,1449.26 149.07,1448.61 149.11,1447.88 149.16,1447.07 149.22,1446.18 149.28,1445.22 149.35,1444.18 149.42,1443.07 149.49,1441.89 149.57,1440.64 149.66,1439.33 149.75,1437.95 149.85,1436.52 149.95,1435.02 150.06,1433.48 150.18,1431.88 150.29,1430.24 150.42,1428.55 150.55,1426.82 150.68,1425.05 150.82,1423.24 150.97,1421.40 151.12,1419.52 151.27,1417.62 151.43,1415.69 151.60,1413.74 151.77,1411.77 151.95,1409.79 152.13,1407.78 152.31,1405.76 152.51,1403.74 152.70,1401.70 152.91,1399.66 153.12,1397.61 153.33,1395.56 153.55,1393.51 153.77,1391.47 154.00,1389.42 154.24,1387.38 154.48,1385.35 154.72,1383.32 154.97,1381.30 155.23,1379.29 155.49,1377.30 155.75,1375.31 156.02,1373.34 156.30,1371.39 156.58,1369.45 156.87,1367.52 157.16,1365.62 157.46,1363.73 157.76,1361.85 158.07,1360.00 158.39,1358.17 158.70,1356.36 159.03,1354.56 159.36,1352.79 159.69,1351.04 160.03,1349.31 160.38,1347.60 160.73,1345.91 161.08,1344.25 161.44,1342.60 161.81,1340.98 162.18,1339.38 162.56,1337.81 162.94,1336.25 163.33,1334.72 163.72,1333.21 164.12,1331.72 164.52,1330.25 164.93,1328.80 165.34,1327.38 165.76,1325.98 166.19,1324.59 166.62,1323.23 167.05,1321.90 167.49,1320.58 167.94,1319.28 168.39,1318.00 168.84,1316.74 169.31,1315.51 169.77,1314.29 170.24,1313.09 170.72,1311.91 171.20,1310.75 171.69,1309.61 172.18,1308.48 172.68,1307.38 173.18,1306.29 173.69,1305.22 174.21,1304.17 174.73,1303.14 175.25,1302.12 175.78,1301.12 176.31,1300.13 176.85,1299.16 177.40,1298.21 177.95,1297.27 178.51,1296.35 179.07,1295.44 179.63,1294.55 180.21,1293.67 180.78,1292.81 181.37,1291.96 181.95,1291.13 182.55,1290.30 183.14,1289.50 183.75,1288.70 184.36,1287.92 184.97,1287.15 185.59,1286.39 186.21,1285.65 186.84,1284.91 187.48,1284.19 188.12,1283.48 188.76,1282.79 189.41,1282.10 190.07,1281.42 190.73,1280.76 191.40,1280.10 192.07,1279.46 192.75,1278.83 193.43,1278.20 194.12,1277.59 194.81,1276.99 195.51,1276.39 196.21,1275.81 196.92,1275.23 197.64,1274.66 198.36,1274.11 199.08,1273.56 199.81,1273.01 200.54,1272.48 201.29,1271.96 202.03,1271.44 202.78,1270.93 203.54,1270.43 204.30,1269.94 205.07,1269.45 205.84,1268.97 206.62,1268.50 207.40,1268.04 208.19,1267.58 208.98,1267.13 209.78,1266.69 210.58,1266.25 211.39,1265.82 212.20,1265.40 213.02,1264.98 213.85,1264.57 214.68,1264.16 215.51,1263.76 216.35,1263.37 217.20,1262.98 218.05,1262.60 218.91,1262.22 219.77,1261.85 220.64,1261.48 221.51,1261.12 222.39,1260.77 223.27,1260.41 224.16,1260.07 225.05,1259.73 225.95,1259.39 226.85,1259.06 227.76,1258.73 228.68,1258.41 229.60,1258.09 230.52,1257.78 231.45,1257.47 232.39,1257.16 233.33,1256.86 234.27,1256.56 235.22,1256.27 236.18,1255.98 237.14,1255.70 238.11,1255.42 239.08,1255.14 240.06,1254.87 241.04,1254.60 242.03,1254.33 243.02,1254.07 244.02,1253.81 245.03,1253.55 246.03,1253.30 247.05,1253.05 248.07,1252.80 249.09,1252.56 250.12,1252.32 251.16,1252.08 252.20,1251.85 253.25,1251.62 254.30,1251.39 255.35,1251.16 256.42,1250.94 257.48,1250.72 258.56,1250.50 259.63,1250.29 260.72,1250.08 261.80,1249.87 262.90,1249.66 264.00,1249.46 265.10,1249.26 266.21,1249.06 267.33,1248.86 268.44,1248.67 269.57,1248.48 270.70,1248.29 271.84,1248.10 272.98,1247.92 274.12,1247.74 275.27,1247.56 276.43,1247.38 277.59,1247.20 278.76,1247.03 279.93,1246.86 281.11,1246.69 282.29,1246.52 283.48,1246.35 284.68,1246.19 285.88,1246.02 287.08,1245.86 288.29,1245.71 289.50,1245.55 290.72,1245.39 291.95,1245.24 293.18,1245.09 294.41,1244.94 295.66,1244.79 296.90,1244.65 298.15,1244.50 299.41,1244.36 300.67,1244.22 301.94,1244.08 303.21,1243.94 304.49,1243.80 305.77,1243.67 307.06,1243.53 308.36,1243.40 309.66,1243.27 310.96,1243.14 312.27,1243.01 313.58,1242.88 314.90,1242.76 316.23,1242.64 317.56,1242.51 318.90,1242.39 320.24,1242.27 321.58,1242.15 322.94,1242.03 324.29,1241.92 325.65,1241.80 327.02,1241.69 328.40,1241.58 329.77,1241.46 331.16,1241.35 332.55,1241.25 333.94,1241.14 335.34,1241.03 336.74,1240.92 338.15,1240.82 339.57,1240.72 340.99,1240.61 342.41,1240.51 343.84,1240.41 345.28,1240.31 346.72,1240.21 348.17,1240.11 349.62,1240.02 351.08,1239.92 352.54,1239.83 354.01,1239.73 355.48,1239.64 356.96,1239.55 358.44,1239.46 359.93,1239.37 361.42,1239.28 362.92,1239.19 364.43,1239.10 365.94,1239.01 367.45,1238.93 368.97,1238.84 370.50,1238.76 372.03,1238.67 373.57,1238.59 375.11,1238.51 376.65,1238.43 378.21,1238.35 379.76,1238.27 381.33,1238.19 382.89,1238.11 384.47,1238.03 386.05,1237.96 387.63,1237.88 389.22,1237.80 390.81,1237.73 392.41,1237.66 394.02,1237.58 395.63,1237.51 397.24,1237.44 398.86,1237.37 400.49,1237.30 402.12,1237.23 403.75,1237.16 405.40,1237.09 407.04,1237.02 408.70,1236.95 410.35,1236.88 412.02,1236.82 413.68,1236.75 415.36,1236.69 417.03,1236.62 418.72,1236.56 420.41,1236.49 422.10,1236.43 423.80,1236.37 425.51,1236.31 427.22,1236.25 428.93,1236.19 430.65,1236.12 432.38,1236.06 434.11,1236.01 435.85,1235.95 437.59,1235.89 439.33,1235.83 441.09,1235.77 442.84,1235.72 444.61,1235.66 446.37,1235.60 448.15,1235.55 449.93,1235.49 451.71,1235.44 453.50,1235.39 455.29,1235.33 457.09,1235.28 458.90,1235.23 460.71,1235.17 462.52,1235.12 464.35,1235.07 466.17,1235.02 468.00,1234.97 469.84,1234.92 471.68,1234.87 473.53,1234.82 475.38,1234.77 477.24,1234.72 479.10,1234.67 480.97,1234.63 482.84,1234.58 484.72,1234.53 486.61,1234.49 488.49,1234.44 490.39,1234.39 492.29,1234.35 494.19,1234.30 496.10,1234.26 498.02,1234.21 499.94,1234.17 501.87,1234.13 503.80,1234.08 505.74,1234.04 507.68,1234.00 509.62,1233.95 511.58,1233.91 513.53,1233.87 515.50,1233.83 517.47,1233.79 519.44,1233.75 521.42,1233.71 523.40,1233.67 525.39,1233.63 527.39,1233.59 529.39,1233.55 531.39,1233.51 533.40,1233.47 535.42,1233.43 537.44,1233.39 539.47,1233.35 541.50,1233.32 543.53,1233.28 545.58,1233.24 547.62,1233.21 549.68,1233.17 551.73,1233.13 553.80,1233.10 555.86,1233.06 557.94,1233.03 560.02,1232.99 562.10,1232.96 564.19,1232.92 566.29,1232.89 568.39,1232.85 570.49,1232.82" fill="none" stroke="#e8211d" stroke-width="3.4" stroke-dasharray="19 17"/>
<line x1="159.30" y1="1335.00" x2="159.30" y2="1374.00" stroke="#000" stroke-width="3" />
<line x1="152.30" y1="1335.00" x2="166.30" y2="1335.00" stroke="#000" stroke-width="3" />
<line x1="152.30" y1="1374.00" x2="166.30" y2="1374.00" stroke="#000" stroke-width="3" />
<line x1="164.10" y1="1301.30" x2="164.10" y2="1343.00" stroke="#000" stroke-width="3" />
<line x1="157.10" y1="1301.30" x2="171.10" y2="1301.30" stroke="#000" stroke-width="3" />
<line x1="157.10" y1="1343.00" x2="171.10" y2="1343.00" stroke="#000" stroke-width="3" />
<line x1="168.10" y1="1292.00" x2="168.10" y2="1333.30" stroke="#000" stroke-width="3" />
<line x1="161.10" y1="1292.00" x2="175.10" y2="1292.00" stroke="#000" stroke-width="3" />
<line x1="161.10" y1="1333.30" x2="175.10" y2="1333.30" stroke="#000" stroke-width="3" />
<line x1="185.30" y1="1274.90" x2="185.30" y2="1316.90" stroke="#000" stroke-width="3" />
<line x1="178.30" y1="1274.90" x2="192.30" y2="1274.90" stroke="#000" stroke-width="3" />
<line x1="178.30" y1="1316.90" x2="192.30" y2="1316.90" stroke="#000" stroke-width="3" />
<line x1="201.00" y1="1244.90" x2="201.00" y2="1288.00" stroke="#000" stroke-width="3" />
<line x1="194.00" y1="1244.90" x2="208.00" y2="1244.90" stroke="#000" stroke-width="3" />
<line x1="194.00" y1="1288.00" x2="208.00" y2="1288.00" stroke="#000" stroke-width="3" />
<line x1="214.20" y1="1227.20" x2="214.20" y2="1273.30" stroke="#000" stroke-width="3" />
<line x1="207.20" y1="1227.20" x2="221.20" y2="1227.20" stroke="#000" stroke-width="3" />
<line x1="207.20" y1="1273.30" x2="221.20" y2="1273.30" stroke="#000" stroke-width="3" />
<line x1="282.20" y1="1232.80" x2="282.20" y2="1278.00" stroke="#000" stroke-width="3" />
<line x1="275.20" y1="1232.80" x2="289.20" y2="1232.80" stroke="#000" stroke-width="3" />
<line x1="275.20" y1="1278.00" x2="289.20" y2="1278.00" stroke="#000" stroke-width="3" />
<line x1="296.20" y1="1212.40" x2="296.20" y2="1262.50" stroke="#000" stroke-width="3" />
<line x1="289.20" y1="1212.40" x2="303.20" y2="1212.40" stroke="#000" stroke-width="3" />
<line x1="289.20" y1="1262.50" x2="303.20" y2="1262.50" stroke="#000" stroke-width="3" />
<line x1="330.70" y1="1216.40" x2="330.70" y2="1273.30" stroke="#000" stroke-width="3" />
<line x1="323.70" y1="1216.40" x2="337.70" y2="1216.40" stroke="#000" stroke-width="3" />
<line x1="323.70" y1="1273.30" x2="337.70" y2="1273.30" stroke="#000" stroke-width="3" />
<line x1="335.50" y1="1197.20" x2="335.50" y2="1262.90" stroke="#000" stroke-width="3" />
<line x1="328.50" y1="1197.20" x2="342.50" y2="1197.20" stroke="#000" stroke-width="3" />
<line x1="328.50" y1="1262.90" x2="342.50" y2="1262.90" stroke="#000" stroke-width="3" />
<line x1="403.50" y1="1198.00" x2="403.50" y2="1266.00" stroke="#000" stroke-width="3" />
<line x1="396.50" y1="1198.00" x2="410.50" y2="1198.00" stroke="#000" stroke-width="3" />
<line x1="396.50" y1="1266.00" x2="410.50" y2="1266.00" stroke="#000" stroke-width="3" />
<line x1="530.40" y1="1202.00" x2="530.40" y2="1268.50" stroke="#000" stroke-width="3" />
<line x1="523.40" y1="1202.00" x2="537.40" y2="1202.00" stroke="#000" stroke-width="3" />
<line x1="523.40" y1="1268.50" x2="537.40" y2="1268.50" stroke="#000" stroke-width="3" />
<circle cx="159.30" cy="1355.00" r="7.2" fill="#000" stroke="none" stroke-width="0"/>
<circle cx="164.10" cy="1322.00" r="7.2" fill="#000" stroke="none" stroke-width="0"/>
<circle cx="168.10" cy="1313.30" r="7.2" fill="#000" stroke="none" stroke-width="0"/>
<circle cx="185.30" cy="1295.30" r="7.2" fill="#000" stroke="none" stroke-width="0"/>
<circle cx="201.00" cy="1266.00" r="7.2" fill="#000" stroke="none" stroke-width="0"/>
<circle cx="214.20" cy="1250.00" r="7.2" fill="#000" stroke="none" stroke-width="0"/>
<circle cx="282.20" cy="1255.30" r="7.2" fill="#000" stroke="none" stroke-width="0"/>
<circle cx="296.20" cy="1238.00" r="7.2" fill="#000" stroke="none" stroke-width="0"/>
<circle cx="330.70" cy="1244.90" r="7.2" fill="#000" stroke="none" stroke-width="0"/>
<circle cx="335.50" cy="1230.00" r="7.2" fill="#000" stroke="none" stroke-width="0"/>
<circle cx="403.50" cy="1232.00" r="7.2" fill="#000" stroke="none" stroke-width="0"/>
<circle cx="530.40" cy="1235.30" r="7.2" fill="#000" stroke="none" stroke-width="0"/>
<text x="290.08" y="1364.10" font-size="30.5" fill="#000" font-family="Liberation Sans" >B</text>
<text x="310.43" y="1371.30" font-size="21.5" fill="#000" font-family="Liberation Sans" >max</text>
<text x="351.04" y="1364.10" font-size="30.5" fill="#000" font-family="Liberation Sans" >= 75 molecules</text>
<text x="348.54" y="1425.40" font-size="30.5" fill="#000" font-family="Liberation Sans" >k= 480 /</text>
<text x="457.92" y="1425.40" font-size="30.5" fill="#000" font-family="Liberation Serif" >μ</text>
<text x="474.27" y="1425.40" font-size="30.5" fill="#000" font-family="Liberation Sans" >m</text>
<text x="500.47" y="1405.30" font-size="20.5" fill="#000" font-family="Liberation Sans" >2</text>
<line x1="716.80" y1="1227.50" x2="1499.00" y2="1227.50" stroke="#000" stroke-width="3" />
<line x1="716.80" y1="1410.40" x2="1499.00" y2="1410.40" stroke="#000" stroke-width="3" />
<line x1="716.80" y1="1522.40" x2="1499.00" y2="1522.40" stroke="#000" stroke-width="3" />
<text x="737.13" y="1304.00" font-size="30.5" fill="#000" font-family="Liberation Sans" >Stx2-mScarlet</text>
<text x="962.09" y="1272.00" font-size="30.5" fill="#000" font-family="Liberation Sans" >ΔC (fixed bleaching)</text>
<text x="1268.71" y="1272.00" font-size="30.5" fill="#000" font-family="Liberation Sans" >142.88 ± 12.57</text>
<text x="962.09" y="1313.00" font-size="30.5" fill="#000" font-family="Liberation Sans" >ΔC (live imaging)</text>
<text x="1314.51" y="1313.00" font-size="30.5" fill="#000" font-family="Liberation Sans" >14.7 ± 1.1</text>
<text x="962.09" y="1354.50" font-size="30.5" fill="#000" font-family="Liberation Sans" >ΔF (C.U./peptide)</text>
<text x="1360.47" y="1354.50" font-size="30.5" fill="#000" font-family="Liberation Sans" >7.96</text>
<text x="960.48" y="1396.50" font-size="30.5" fill="#000" font-family="Liberation Sans" >F (/peptide/</text>
<text x="1114.76" y="1396.50" font-size="30.5" fill="#000" font-family="Liberation Serif" >μ</text>
<text x="1131.11" y="1396.50" font-size="30.5" fill="#000" font-family="Liberation Sans" >m</text>
<text x="1157.32" y="1376.50" font-size="20.5" fill="#000" font-family="Liberation Sans" >2</text>
<text x="1169.22" y="1396.50" font-size="30.5" fill="#000" font-family="Liberation Sans" >)</text>
<text x="1360.47" y="1396.50" font-size="30.5" fill="#000" font-family="Liberation Sans" >2.63</text>
<text x="735.98" y="1456.50" font-size="30.5" fill="#000" font-family="Liberation Sans" >Endogenous</text>
<text x="960.71" y="1465.50" font-size="30.5" fill="#000" font-family="Liberation Sans" >112 </text>
<text x="1017.81" y="1465.50" font-size="30.5" fill="#000" font-family="Liberation Serif" >±</text>
<text x="1034.55" y="1465.50" font-size="30.5" fill="#000" font-family="Liberation Sans" > 19 molecules/cell (x10</text>
<text x="1345.59" y="1445.50" font-size="20.5" fill="#000" font-family="Liberation Sans" >3</text>
<text x="1357.49" y="1465.50" font-size="30.5" fill="#000" font-family="Liberation Sans" >)</text>
<text x="961.86" y="1509.50" font-size="30.5" fill="#000" font-family="Liberation Sans" >360 molecules/</text>
<text x="1167.01" y="1509.50" font-size="30.5" fill="#000" font-family="Liberation Serif" >μ</text>
<text x="1183.36" y="1509.50" font-size="30.5" fill="#000" font-family="Liberation Sans" >m</text>
<text x="1209.57" y="1489.50" font-size="20.5" fill="#000" font-family="Liberation Sans" >2</text>
<text x="216.03" y="958.70" font-size="33.3" fill="#000" font-family="Liberation Sans" >Cells (x10</text>
<text x="365.57" y="946.70" font-size="19" fill="#000" font-family="Liberation Sans" >4</text>
<text x="378.55" y="958.70" font-size="33.3" fill="#000" font-family="Liberation Sans" >)</text>
<line x1="45.40" y1="986.90" x2="555.70" y2="986.90" stroke="#000" stroke-width="3.2" />
<text x="1000.45" y="962.00" font-size="34.4" fill="#000" font-family="Liberation Sans" >Stx2 (fmol)</text>
<line x1="757.40" y1="985.80" x2="1414.80" y2="985.80" stroke="#000" stroke-width="3.2" />
<text transform="translate(85.50,1041.90) rotate(-34)" x="-23.15" y="0" font-size="33.3" fill="#000">2.0</text>
<text transform="translate(156.33,1041.90) rotate(-34)" x="-23.15" y="0" font-size="33.3" fill="#000">3.0</text>
<text transform="translate(227.16,1041.90) rotate(-34)" x="-23.15" y="0" font-size="33.3" fill="#000">4.0</text>
<text transform="translate(297.99,1041.90) rotate(-34)" x="-23.15" y="0" font-size="33.3" fill="#000">5.0</text>
<text transform="translate(368.82,1041.90) rotate(-34)" x="-23.15" y="0" font-size="33.3" fill="#000">6.0</text>
<text transform="translate(439.65,1041.90) rotate(-34)" x="-23.15" y="0" font-size="33.3" fill="#000">7.0</text>
<text transform="translate(510.48,1041.90) rotate(-34)" x="-23.15" y="0" font-size="33.3" fill="#000">8.0</text>
<text transform="translate(784.70,1040.20) rotate(-34)" x="-23.15" y="0" font-size="33.3" fill="#000">0.5</text>
<text transform="translate(857.46,1040.20) rotate(-34)" x="-23.15" y="0" font-size="33.3" fill="#000">1.0</text>
<text transform="translate(930.22,1040.20) rotate(-34)" x="-23.15" y="0" font-size="33.3" fill="#000">1.5</text>
<text transform="translate(1002.98,1040.20) rotate(-34)" x="-23.15" y="0" font-size="33.3" fill="#000">2.0</text>
<text transform="translate(1075.74,1040.20) rotate(-34)" x="-23.15" y="0" font-size="33.3" fill="#000">2.5</text>
<text transform="translate(1148.50,1040.20) rotate(-34)" x="-23.15" y="0" font-size="33.3" fill="#000">3.0</text>
<text transform="translate(1221.26,1040.20) rotate(-34)" x="-23.15" y="0" font-size="33.3" fill="#000">3.5</text>
<text transform="translate(1294.02,1040.20) rotate(-34)" x="-23.15" y="0" font-size="33.3" fill="#000">4.0</text>
<text transform="translate(1366.78,1040.20) rotate(-34)" x="-23.15" y="0" font-size="33.3" fill="#000">4.5</text>
<line x1="538.00" y1="1068.80" x2="561.00" y2="1068.80" stroke="#333" stroke-width="1.5" />
<line x1="1388.50" y1="1068.80" x2="1410.50" y2="1068.80" stroke="#3a2a2a" stroke-width="1.5" />
<text x="567.14" y="1075.40" font-size="23" fill="#000" font-family="Liberation Sans" >35 kDa</text>
<text x="1415.54" y="1075.40" font-size="23" fill="#000" font-family="Liberation Sans" >35 kDa</text>
</svg>
</body></html>
